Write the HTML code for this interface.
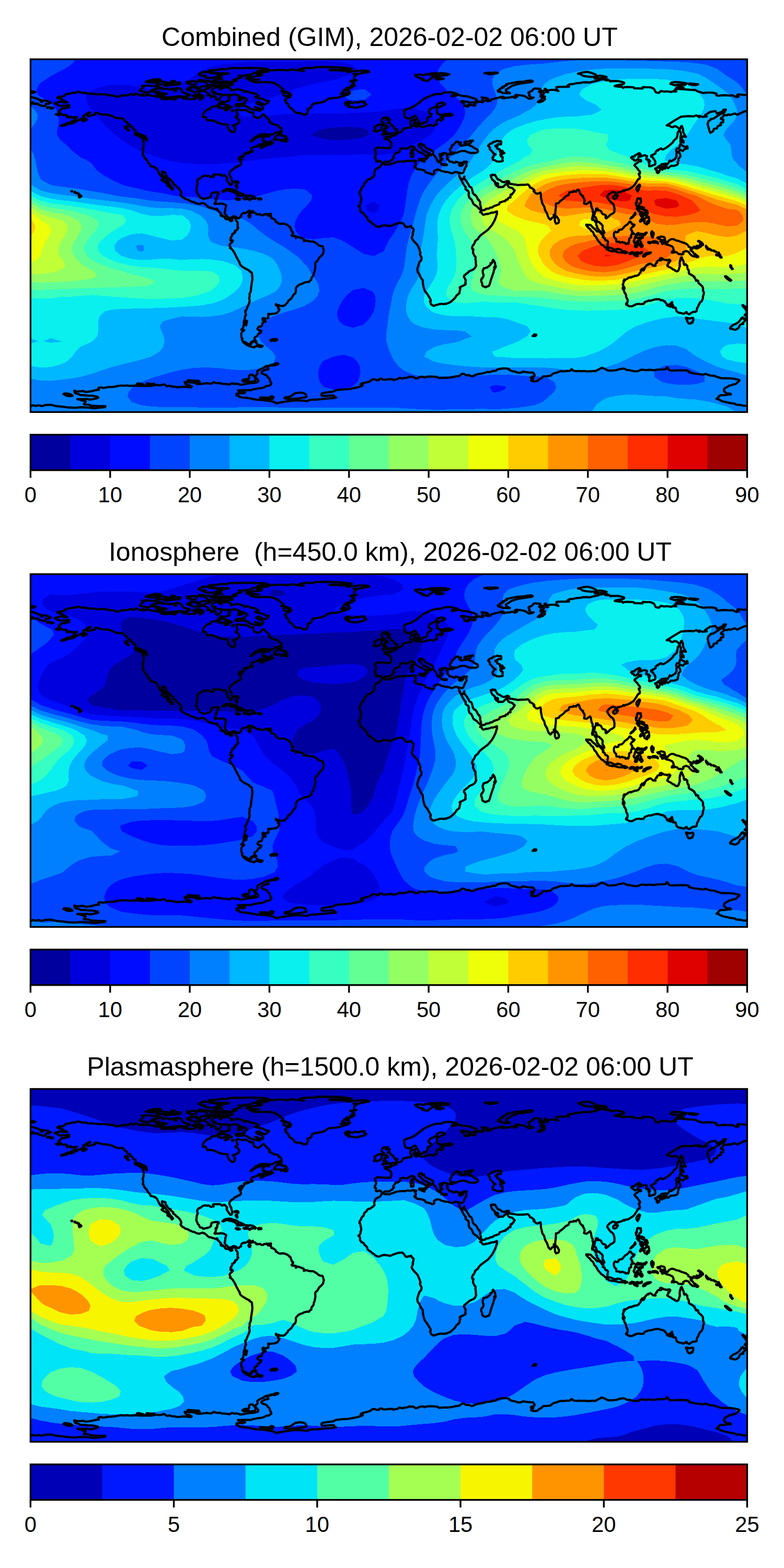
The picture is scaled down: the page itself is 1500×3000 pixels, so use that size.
<!DOCTYPE html>
<html><head><meta charset="utf-8"><title>GIM maps</title><style>html,body{margin:0;padding:0;background:#fff;font-family:"Liberation Sans",sans-serif}svg{display:block}</style></head><body>
<svg width="1500" height="3000" viewBox="0 0 1500 3000">
<rect width="1500" height="3000" fill="#fff"/>
<defs>
<clipPath id="c0"><rect x="58.4" y="113.4" width="1371.1" height="675"/></clipPath>
<clipPath id="c1"><rect x="58.4" y="1098.5" width="1371.1" height="675"/></clipPath>
<clipPath id="c2"><rect x="58.4" y="2083.5" width="1371.1" height="675"/></clipPath>
<path id="coast" d="M104.4 197.5L109.8 195.9L118.3 194L121.4 195.9L129.1 195.9L121.4 192.1L118.7 190.2L109.4 187.1L111.7 185.1L118.7 185.1L123.3 183.2L124.4 181.3L128.3 179.7L132.2 179.4L139.5 177.4L143 177.8L148.8 175.5L154.6 176.7L157.7 178.2L159.2 177.4L165.8 177.8L165.4 178.6L171.6 179.4L175.4 179L183.5 180.1L190.9 180.5L194 180.9L199 180.1L204.8 181.3L209.1 182.1L216.4 182.8L222.5 184.8L226.4 185.1L229.9 183.6L234.5 182.4L240.3 182.8L246.1 181.3L252.3 180.1L255 181.7L257.7 180.9L258.9 179L261.6 179.4L267.7 182.8L273.1 180.1L273.5 183.2L278.2 182.4L279.7 181.3L284.3 181.7L290.5 183.2L299.4 184.8L304.8 185.5L308.7 185.1L313.7 187.1L308.3 189L315.2 189.8L325.7 189.4L329.1 188.6L333 190.9L337.3 189L333.4 187.5L335.7 185.9L340.5 185.9L343.6 185.5L346.9 186.3L350.8 188.6L355 188.2L361.6 190.2L367.8 189.4L373.6 189.4L372.8 187.1L376.3 186.3L382.4 187.8L382.4 191.3L384.8 188.2L387.9 188.2L389.8 184.4L385.5 182.1L380.9 180.5L381.3 176.3L385.9 173.6L390.9 174L394.8 175.9L400.2 180.1L396.7 182.1L404.1 182.8L403.7 186.7L409.1 183.6L413.7 186.3L412.6 189L416 191.7L420.3 189L423 185.5L423.4 181.3L428.8 181.7L434.6 182.1L439.6 184L440 185.9L437.1 188.2L439.6 190.2L439.2 192.1L431.9 194.8L426.5 195.2L422.2 194L421.1 195.9L417.6 199.4L416.4 201L411.8 203.7L406.4 204L403.3 205.6L402.9 208.1L398.7 208.7L393.6 212.1L389.8 216L388.2 219.1L387.9 223.7L393.6 224.1L395.2 228L397.1 230.7L402.5 229.9L409.9 231.4L413.7 233L416.4 234.9L421.1 236.1L425.3 237.6L431.5 238L435.7 238.4L435.4 241.5L436.5 245.3L439.2 249.6L445 253.4L448.1 252.3L450 248L448.1 242.2L445.4 239.9L451.6 238.4L455.8 235.7L458.1 233L457.8 230.3L455.1 226.8L450.4 224.1L455.1 219.9L453.1 216.4L452 210.6L454.7 209.4L461.2 210.6L465.1 211L468.6 210.2L472 211.4L476.7 213.7L477.8 215.2L484.8 215.2L484.8 218.7L486 223.3L489.4 224.1L492.5 226.4L497.9 224.1L501.8 219.9L504.1 218.3L507.2 221.8L512.2 226.4L516.5 231.2L514.9 233.7L519.9 235.7L523.4 238L529.7 239.1L532.3 240.3L533.8 243.4L536.5 244.2L538.1 245.3L538.5 249.9L535.8 251.1L533.1 252.6L526.5 253.8L521.9 257.3L515.3 257.7L506.8 256.9L501 256.9L497.2 257.3L494.1 260L489 261.5L483.4 266.9L479 270.4L482.1 269.6L488.5 264.6L496.4 261.5L502.2 261.1L505.6 263.1L502.2 265.4L503.3 269.6L504.5 272.7L509.5 274.6L516.1 273.9L519.9 269.6L520.1 272.3L522.6 273.9L518 276.2L509.1 278.5L505.6 280L501 283.1L498.3 282.7L497.9 279.3L504.9 276.2L498.7 276.2L494.4 276.9L495 278.1L491 280L486.7 281.3L482.9 282.3L480.9 284.7L480.2 287.7L481.3 289.7L482.9 289.7L482.5 288.5L483.6 289.3L483.4 290.4L480.9 290.8L479 290.8L475.9 291.6L472 292L469 293.1L474.8 292.4L475.9 293.1L470.5 294.3L467.9 294.3L468 293.7L466.6 294.7L468 295.1L467 297.8L464.3 300.9L463.9 299.7L462 298.5L462.8 300.6L463.6 301.2L463.6 302.8L462.4 304.3L460.5 307.4L460.1 308.6L458.9 304.7L458.9 303.9L456.4 303.6L458.9 300.1L458.1 301.6L458.9 308.2L460.2 308.6L460.5 309.7L461.2 313.6L458.5 316.7L454.7 317.8L452 320.1L450 320.1L448.1 321.7L447.7 322.8L443.5 325.5L441.1 327.5L439.6 329.8L438.8 332.5L439.6 335.2L440.8 338.3L442.7 341L442.7 342.9L444.2 347.1L444.2 351.4L443.1 353.7L441.9 354.1L440 353.7L439.6 352.2L438.1 351L436.1 347.9L434.2 344.8L433.4 343.3L434.6 340.6L433.4 338.7L430.3 335.6L428.8 334.8L424.9 336.7L424.2 336.3L422.2 334.4L419.9 333.6L415.7 334L412.2 333.6L409.1 334L407.5 334.4L408.3 335.6L408.3 337.1L409.1 337.9L408.3 338.3L406.8 337.9L405.2 338.7L402.5 338.7L399.8 336.3L396.3 336.7L393.6 336L391.3 336.3L387.9 337.1L384.4 340.2L380.5 341.7L378.6 343.7L377.4 345.2L377.4 347.9L377.8 349.8L378.6 351L377 354.5L376.3 357.2L375.9 362.6L375.5 364.5L376.3 366.4L377.4 368.4L378.2 371.4L380.9 374.1L381.7 376.5L383.2 378.4L387.5 379.2L389 381.1L392.5 379.9L395.2 379.5L398.3 378.8L400.6 378L402.9 376.5L404.1 374.1L404.1 371.1L404.8 369.9L407.5 368.7L411.8 368L414.9 368L417.2 368L418.4 368.7L418.4 370.7L416 372.6L415.3 375.3L416 375.7L415.3 377.6L414.5 380.3L413.3 379.5L412.6 379.5L412.6 381.5L413.3 383L412.2 387.3L410.3 389.6L411.4 390.3L413 390.3L414.1 389.6L416 390L418 390L419.9 390L421.5 389.2L423.8 389.6L424.5 389.6L427.6 390L429.9 391.5L431.5 391.9L432.7 393L432.3 395.7L431.1 398.4L431.1 401.1L430.7 403.5L430.3 406.2L429.6 406.9L430.3 408.9L431.5 410.8L433 412.3L435 413.9L436.1 415.4L436.1 416.2L437.7 416.2L439.2 417L441.1 416.6L442.7 415.8L445 415L446.2 413.9L448.5 413.9L448.1 414.3L450.4 414.6L452 415.4L453.5 416.6L454.7 417.3L457 417.7L459.7 415L461.2 414.6L461.2 412.3L462 410L464.3 408.1L466.6 408.1L467 407.3L470.1 407.7L474.8 404.6L476.3 403.1L477.8 403.1L479 404.2L478.2 405.4L475.6 406.2L477.1 408.6L477.1 410.8L475.1 412.7L476.7 415.8L478.2 415.8L479.4 412.7L477.8 411.6L477.8 408.6L482.5 406.9L482.1 405.2L483.6 403.8L484.8 406.5L487.5 406.9L490.2 408.9L490.2 410.2L493.7 410.2L497.9 409.8L499.9 411.6L502.9 411.9L505.3 410.8L505.3 410L509.9 409.6L514.5 409.6L511.4 410.8L512.6 412.5L515.7 412.7L518.8 414.6L519.2 417.7L521.1 417.7L522.6 418.5L525.3 420L527.7 422.6L527.7 424.7L529.2 424.7L531.5 426.6L533.1 427.9L537.5 428.5L538.1 428L541.2 427.8L545.2 428.5L546.6 429.1L549.3 430.1L553.5 433.2L553.9 434.7L555.5 434.7L556.2 436.8L558.6 443.6L560.6 444.3L560.7 446.9L557.8 450.1L558.9 451.3L565.9 451.7L565.9 455.5L569 453.2L573.6 454.4L580.2 456.9L582.1 459L581.3 461.3L586 460.2L593.3 462.1L599.2 462.1L604.9 465.2L609.9 469.4L612.8 470.6L616.1 470.8L617.7 472.1L618.8 476.7L619.6 479.1L618 485.6L616.1 488.1L610.5 493.3L608 498L605.3 501L604.1 501.4L603.2 504.1L603.4 511.5L602.2 517.2L601.8 519.9L600.7 521.5L599.9 526.5L596 531.5L595.6 535.4L592.4 537.3L591.4 539.5L587.1 539.5L581.2 541L578.5 542.7L574 543.9L569.6 546.9L566.3 550.8L565.9 553.5L566.3 555.8L565.5 559.7L564.7 561.6L562 563.5L557.8 570.4L554.3 573.6L551.6 575.3L550.1 579L547.4 581.3L545.8 583.6L541.6 585.7L538.5 584.9L536.5 585.5L533.1 583.6L530.4 584L528.1 581.7L527.7 583.6L532.7 587.1L531.9 589.7L534.6 591.3L534.2 593.2L530.6 598.2L525 600.2L517.2 600.9L513 600.6L513.8 602.9L513 606L513.6 607.9L511.2 609L507.2 609.8L503.7 608.3L502.2 609.4L502.6 613.3L505.3 614.4L507.2 612.9L508.4 615.2L504.9 616.4L501.8 618.7L501.4 622.5L500.2 624.5L496.8 624.5L493.7 626.6L492.5 629.5L496.4 632.2L500.2 633L498.7 636.4L494.1 638.7L491.7 643.4L488.3 644.9L486.7 646.5L487.9 650.7L490.4 652.8L488.7 652.6L485.2 652L480.2 654.9L479.4 658.4L477.8 658.8L473.2 657.3L469 654.6L464.3 652.6L462.8 649.9L463.9 647.6L462 645.3L461.6 638.7L463.2 634.9L467.4 631.8L461.6 630.6L465.1 627.6L466.3 621L470.9 622.5L472.8 614.4L470.1 613.3L469 618.3L466.6 617.5L467.8 612.1L469 604.8L470.9 602.5L469.7 598.6L469.3 594.4L470.9 594L473.2 587.8L475.9 581.7L477.8 575.9L476.7 570.1L477.8 567L477.5 562.4L479.8 557.4L480.5 550L481.7 541.9L482.9 533.4L482.5 527.3L481.7 521.5L477.8 519.6L477.5 518L470.1 514.2L463.2 509.9L460.1 507.2L458.5 504.1L458.9 503L455.8 498L452 491L448.5 483.3L446.9 481.4L445.4 478.7L442.7 476L440 474.4L441.1 472.9L439.2 469L440.4 466.3L443.5 464L445.4 461.3L444.6 459.4L443.1 461.3L440.8 459.4L441.5 458.6L441.1 455.1L442.3 454.4L443.1 452.1L444.6 449.4L444.2 447.8L446.6 447L448.9 445.5L448.5 444.3L450 444L449.6 442L450.8 440.9L452.7 440.5L454.3 438.2L455.8 436.2L454.3 435.1L455.1 432.8L454.3 429.3L455.1 428.5L454.3 425.1L452.7 423.1L451.6 422L450.8 419.7L451.6 418.9L450.8 418.5L450 417.3L448.1 416.2L446.2 416.6L445.4 417.7L443.9 418.9L443.1 418.9L442.7 419.7L444.6 422L443.5 422.4L443.1 422.7L441.1 423.1L440.4 420.8L440 421.6L438.8 421.2L438.1 419.7L436.5 419.3L435.4 418.9L433.8 418.9L433.4 419.7L431.1 418.5L430.3 417.3L430.7 417L430.7 415.8L429.6 415L426.9 413.9L426.5 412.7L425.3 411.9L425.7 413.1L424.9 413.9L424.2 413.1L422.6 412.7L422.2 411.9L422.6 409.2L421.8 408.9L422.6 408.1L419.5 405.4L416.8 402.7L414.9 401.1L415.3 400.4L416 401.1L416.4 400.8L415.7 399.6L414.5 399.2L414.1 400.4L411.8 400L410.6 399.6L408.7 398.8L406.8 398.8L405.6 398.1L403.7 397.3L401.4 397.3L399.4 396.5L397.5 395L392.9 390.7L390.9 389.6L387.9 388.4L385.5 388.8L382.4 390L380.5 390.3L377.8 389.6L375.1 388.8L371.6 386.9L368.5 386.5L364.3 384.6L360.8 383L360 381.9L357.7 381.5L353.9 380.3L352.3 378.8L348.1 376.5L346.1 374.1L345.4 372.2L346.5 371.8L346.1 370.7L346.9 369.5L346.9 368.4L345.8 366.4L345.4 364.9L344.2 363L340.7 359.1L336.9 356.4L334.9 353.7L331.5 352.2L331.1 351.4L331.5 349.1L329.5 347.9L327.2 346L326.4 343.3L324.1 343.3L321.8 341L320.3 339L319.9 337.9L317.9 335.2L316.4 332.1L316.8 330.6L313.7 329L312.5 329.4L310.2 328.2L309.8 329.8L310.2 331.7L310.6 334.4L312.2 336L314.9 338.7L315.6 339.8L316.8 341.4L317.9 343.7L319.1 344.8L320.3 346L322.6 347.9L323.7 351.8L324.9 353.3L326.1 355.2L326.1 357.2L328 357.2L329.5 359.1L331.1 360.6L331.1 361.4L329.1 363L328.8 363L327.6 360.6L325.3 358.3L322.2 356.4L320.3 355.6L320.6 352.5L319.9 350.6L317.9 349.5L315.2 347.5L314.9 348.3L314.1 347.1L311.4 346.4L309.1 344.1L309.4 343.7L311 344.1L312.5 342.5L312.5 340.6L309.8 337.9L307.5 336.7L306 334.4L304.4 332.1L302.9 329L301.3 325.5L300.6 323.6L298.2 321.3L296.3 320.9L295.9 319.8L293.6 319.4L292.5 318.6L288.6 318.2L287.8 317.4L287.4 315.1L283.6 311.3L280.5 305.9L280.5 305.1L278.5 303.9L275.8 300.5L275.1 297.4L273.1 295.5L273.9 292.4L273.9 288.9L272.8 285.8L274.3 282.3L275.1 275.4L274.3 270L273.1 266.9L272 265L272.4 264.2L278.2 265.8L280.1 269.2L281.3 268.1L280.5 265L279.3 261.9L277.4 260.4L271.2 258L268.5 256.5L261.6 255L259.2 251.5L259.6 249.2L255 247.2L254.2 244.2L249.6 241.5L249.6 239.5L247.3 238L243.8 236.8L242.6 233.4L238 230.3L235.7 226.8L232.2 226.4L226 226.4L221.4 225.3L213.3 221.4L202.8 219.1L197.8 219.5L190.1 217.5L185.5 216L181.2 216.8L182 219.5L179.7 219.9L175.4 220.6L172 221.8L167.7 222.6L166.9 220.6L168.9 216.8L173.1 215.6L172 214.5L166.9 216.8L164.2 219.1L158.8 221.8L161.5 223.7L158 226.8L153.8 228.3L149.9 229.5L148.8 231L143 233L141.8 234.9L137.2 236.4L134.5 236.4L131 237.2L127.1 238.8L123.7 239.9L117.1 241.1L116.7 240.3L121 238.8L124.4 237.6L128.7 235.3L133.3 234.9L135.3 233.4L140.7 231L141.4 230.3L144.5 228.7L144.9 226L147.2 223.7L142.6 224.9L141.4 224.1L139.1 225.6L136.8 223.7L135.6 224.9L134.1 222.9L130.2 224.5L127.9 224.5L127.5 222.2L128.3 221L126 219.5L121 220.2L117.5 218.3L115.2 217.5L114.8 215.2L112.1 213.7L113.6 211.4L116.7 209.4L117.9 207.5L121 207.1L123.7 207.5L126.8 206L129.9 206L132.6 204.8L131.9 203.3L129.9 202.5L132.6 201L130.2 201L126 201.7L124.8 202.9L122.1 201.7L116.5 202.5L110.9 201.3L109.4 199.8L104.4 197.5M1448.8 184.9L1443.4 183.2L1432.2 181.3L1424.1 181.7L1412.1 180.5L1410.2 182.2L1413.3 184.8L1408.6 185.9L1401.7 182.4L1394.4 182.8L1387.4 182.1L1380.4 182.4L1375 183.2L1370.4 182.1L1370.8 179L1363.8 177.4L1356.1 177L1344.4 177.8L1334.3 174.7L1331 172.4L1317.5 171.6L1296.3 169.9L1291 171.6L1293.9 175.1L1287.4 174.7L1284.7 175.9L1275 174.7L1270.8 175.5L1264.4 174L1260.7 177.8L1255.7 177L1254.5 176.3L1252 171.6L1250.3 169.3L1244 167L1237.9 167L1229.7 166.6L1229.4 169.4L1213.2 168.9L1212.4 167L1200.1 166.4L1193.8 167L1192 168.2L1190 165.5L1186.6 166.2L1180.8 165.5L1176.1 164.7L1179 163.5L1189.3 161.6L1193.5 160.5L1194.3 158.3L1191.2 157L1182.7 155.1L1171.3 155.1L1167.6 155.8L1166.8 154L1158 153.5L1163.4 152.4L1156.6 151.2L1147.5 152.7L1143.7 154.3L1135.6 156L1127.1 158.1L1124 157.4L1113.6 157.6L1112.4 158.5L1102.4 159.3L1094.6 161.2L1090.4 161.2L1085.8 163.5L1088.8 165.9L1080.7 166.2L1071.3 166.1L1064.5 166.8L1064.9 170.9L1068.4 174.2L1061.2 172L1053.3 172L1046.8 173.6L1048.7 176.5L1044.4 175.9L1046 172L1044 169.9L1042.1 170.1L1042.9 172.8L1035.9 175.3L1041 178.6L1037.9 182.4L1038.6 184.4L1042.9 184.8L1041.3 187.5L1042.9 189.4L1039 193.2L1034.8 194.4L1033.2 195.6L1029 195.2L1036.3 189.8L1038.3 187.1L1034 184.8L1034.8 179.4L1034 176.7L1031.1 175.5L1034.8 172.4L1034 170.1L1023.6 169.3L1020.9 170.1L1018.2 173.6L1011.2 177L1011.2 178.2L1013.5 181.3L1012 182.8L1018.2 188.2L1020.9 186.3L1017 188.2L1012 189L1004.3 184L998.9 182.8L987.5 181.5L985.3 182.8L989.6 185.1L985 187.5L980.7 185.1L974.9 186.7L967.6 187.1L964.9 188.2L960.2 187.8L964.1 185.5L961 185.1L939.4 190.5L938.6 192.9L932.4 193.6L929.7 192.5L929.7 190.2L934.4 189.8L932.2 187.7L921.4 186.4L924.3 188.8L922.4 191.1L925.5 193.2L923.4 195.9L919.7 194.8L916.2 194.4L907.3 198.3L909.6 201L906.6 202.1L897.3 199.8L894.6 201L896.9 202.9L894.6 204L888.4 202.5L888.4 198.6L881.8 194L884.5 193.2L901.9 196.3L908.1 195.2L912.3 193.2L912.3 190.5L909.3 189L894.6 184.4L884.1 183.6L877.6 181.3L873.7 182.4L867.2 184L864.1 184.4L865.6 181.7L874.5 179.2L862.5 176.3L850.2 177L842.4 180.1L836.3 179.7L827.8 181.7L816.9 186.3L810.8 189.4L801.5 196.7L794.2 202.1L786.6 206.2L776.4 209.4L772.9 211.9L774.1 220.6L775.6 224.9L780.8 226.8L786 226L793.8 221.4L796.1 223.7L799.2 229.5L802.3 233.7L803.4 237.2L808.1 237.2L810.4 234.1L815 234.5L817.1 231L818.5 224.5L822.7 223.5L826.2 219.1L822.7 217.2L819.7 214.5L822.5 208.9L830.1 205.6L836.3 202.5L835.5 200.2L839.3 197.5L845.9 196.3L851.3 198.3L851.7 199.8L849 200.6L840.1 204.8L836.6 207.1L835.1 209.4L836.6 212.9L835.9 216.8L839.7 217.9L842.1 220.1L848.2 219.1L855.2 217.9L862.1 217.5L866 219.5L861.7 221.4L857.7 221.6L848.6 221.4L844 222.6L843.6 224.9L846.7 226L847.8 225.6L847.5 228L843.6 231L840.5 228.2L837 229.5L835.1 231.8L835.1 234.9L835.9 238L830.5 239.1L829.7 241.1L825.4 239.9L821.6 239.3L816.9 240.7L810.8 242.4L808.1 243.4L801.9 240.7L799.8 241.8L795.7 242.6L795.7 241.1L791.8 240.3L791.8 238.8L790.9 236.8L793.8 234.1L793.2 231.4L794.4 230.3L794.5 228.3L791.5 229.3L786.4 230.7L785.7 231.8L784.9 233L784.9 236.8L786.4 238.9L786.8 241.1L787.6 242.6L784.9 244.5L781 243.8L780.3 244.5L771.8 246.1L768.3 251.9L766.4 252.8L763.3 253.6L759.8 254.4L758.6 257.7L749.8 260.6L746.3 258.8L747.4 263.4L740.9 262.3L735.8 263.1L736.2 265.9L742.2 267.3L745.1 269.2L749 273.5L748.2 281.2L746.3 283.5L740.1 283.1L736.8 283.5L732.7 282.7L727.5 282.7L722.8 282.1L717.3 285L718.9 290.8L719.6 293.5L718.7 297.4L717.1 298.9L716.9 301.6L717.7 302.8L719.6 303.2L719.2 308.6L723.1 309L724.8 307.8L728.5 308.6L729.7 310.5L730.8 312L732.7 312.2L734.3 310.9L736.6 309.3L745.3 309.3L748.2 306.6L750.9 305.9L751.7 303.2L754 301.6L752.4 299.3L756.3 293.9L756.7 292.8L761.7 292L765.2 289.3L765.6 284.7L771.4 283.5L778.7 284.7L782.2 282.3L788 279.6L793 281.6L794.2 285.4L800.3 290.1L803.4 291.8L806.1 292L808.1 293.5L813.1 296.4L814.2 298.5L815.8 300.6L814.2 304.7L815.8 304.4L817.7 301.2L819.5 300.9L820 298.9L817.1 297.4L818.9 295.1L822 295.5L824.7 297.4L825.1 295.8L821.2 293.1L818.5 292L815 290.8L816.2 290.1L811.9 289.1L807.7 285.8L805.7 282.7L802.3 280.8L801.1 278.9L801.5 275.8L804.2 274.6L807.3 275L806.5 276.9L807.5 278.1L811.2 276.9L812.3 280.4L815.4 283.1L821.2 285.6L824.9 287L827.8 289.1L828.9 290.1L828.5 295.6L830.8 297.8L831.4 298.2L833.6 301.2L835.1 303.2L835.9 305.9L837.4 309L840.5 310.5L841.7 309L843 310.5L841.7 307L844 306.6L842.8 304.7L846.3 305.5L846.3 303.6L844.4 302.4L842.3 300.6L843.8 299.7L841.9 297.8L840.9 295.5L841.7 294.7L843.6 296.8L845.9 296.8L847.8 296.2L845.1 293.9L849.8 292.9L854.4 293.5L854 294.3L855.6 296L858.7 294.7L861.7 293.1L865.6 292.6L862.1 290.4L861.7 288.9L860.6 286.6L861.7 283.9L864.1 282.3L864.8 277.7L867.9 277.3L867.9 276.2L871 273.5L872.4 271.2L876 270.8L876 272.3L882.2 273.1L878.9 276.2L883.4 277.9L882.2 278.9L889.6 277.7L893.8 276.9L894.6 275.4L890.7 275.8L888.8 274.8L888.6 272.3L891.9 271L895.7 270.8L898.1 269.6L901.1 269.2L904.8 269.6L904.6 268.5L904.8 269.6L899.2 271.2L901.1 272.7L898.1 275.8L895.4 276.6L898.4 278.5L903.1 280L907.9 283.5L913.7 286.4L914.7 289.1L914.1 290.8L909.6 292.8L906.2 292.4L901.7 292.9L896.1 291.6L889.6 288.9L883 288.9L878.5 290.1L873.9 292.4L866.4 292L865.8 292.8L869.1 293.9L865.2 295.1L859 295.1L854.8 296.6L854.8 298.5L857.1 300.5L855.2 303.6L858.1 305.7L860.2 309.3L864.5 309.3L868.3 311.7L871 310.9L871.8 309.3L879.1 311.7L884.9 311.3L887.6 309L890.9 309.7L893.4 309.5L891.9 310.9L892.3 314.4L892.6 317.4L890.7 320.1L889.2 323.2L888.6 324.4L887.8 327.1L886.9 329L886.1 330.6L884.1 331.4L881 331.3L878 330.2L877 331.7L876 329.8L873.3 329L869.9 329.4L865.2 331.7L859.8 330.2L856 329L850.9 329L849.8 327.9L845.9 327.5L843.2 326.7L842.1 325.2L836.6 324.4L831.2 326.7L830.1 328.4L831 331.4L829.3 333.3L827.4 334L823.1 332.1L817.7 330.6L814.2 329.8L812.5 326.3L807.3 324.8L804.2 324L802.7 324.4L798 323.2L796.5 322.5L795.7 320.5L793.4 320.5L792.8 318.6L795.3 316.7L795.7 313.2L794.5 312.2L794.5 310.5L796.5 308.6L796.1 307.8L793 309.3L793 307.4L790.3 306.8L786 308.4L781.8 307.8L777.9 307.8L774.1 309.3L772.1 308.6L766 309L759.4 309.7L755.5 310.9L753.2 312.4L749 313.2L745.1 315.1L739.7 314.4L735.8 314.7L733.5 312.8L730.8 312.8L729.7 315.3L727 319.4L724.1 320.9L720 322.8L717.7 325.2L717.3 327.5L715.8 330.6L716.5 335.6L713.4 338.7L711.5 339.8L708.4 342.3L704.9 342.9L703 344.4L700.3 348.3L698 349.6L696.4 352.2L696.4 354.1L695.3 356.4L694.1 356.8L691.9 359.5L690.7 362.2L690.7 363.3L688.1 366.4L687.9 368.4L687.7 369.9L688.5 368.7L689.9 375.3L691.2 381.1L690.7 384.6L689.7 386.5L689.9 388.8L689.1 390.7L687.2 393.4L685.6 394.2L687.6 395.4L689.1 398.4L688.7 400.2L689.1 403.1L690.7 404.8L691.4 406.5L693 406.5L695.3 408.5L696.4 408.9L697.2 411.6L698.4 412.3L700.7 414.3L702.4 416.6L703.6 420.8L708.4 424.3L709.6 424.7L711.9 427.4L715.4 429.3L718.8 432.4L722.8 433.9L724.6 434.3L728.5 432.8L731.2 431.7L735.6 430.8L740.9 431.7L742.4 431.7L746 432.8L749.4 431.6L751.7 430.5L757.9 428.1L760.9 427.4L764 426.6L770.2 426.6L772.9 429.3L774.5 432L776.4 434.3L779.5 434.7L781 433.5L782.6 433.9L786.4 432.4L787.2 434.1L788.2 435.9L789.9 436.6L791.5 438.9L790.9 442L789.5 446.3L790.3 447L789.5 449.7L788.4 452.8L787.6 455.1L789.9 459L792.6 462.4L796.5 466.3L799.6 470.2L800.7 473.3L801.1 474.4L802.7 477.5L804.6 484.1L803.4 485.5L804.2 488.7L806.5 492.2L806.5 494.5L806.1 497.2L805 499.1L802.7 501.4L800.7 506.6L799.2 511.8L798.4 515.3L798.8 517.6L799.2 520.7L802.3 524.4L805.2 531.5L808.8 536.1L809.2 542.9L810.4 548.9L812.3 555.4L813.9 558.1L816.6 561.2L819.7 566.2L821.6 569.3L823.9 573.2L824.1 575.9L822.7 576.6L824.7 582L824.7 582.4L826.6 583.6L827.8 584L829.3 585.1L831.2 585.1L833.6 583.6L836.6 583.2L840.9 581.7L842.4 581.7L844.8 581.3L849 582L850.9 581.3L853.3 581.7L853.6 580.9L855.6 580.5L859.8 579L862.5 577.4L865.2 575.1L869.9 570.9L871.8 568.2L872.9 566.2L874.5 564.3L875.3 563.9L878 561.8L879.1 560.1L879.5 557L880.3 553.9L880.7 552L879.9 551.8L879.5 550L881.1 548.9L888.8 545.4L890.7 543.9L891.1 542.3L890.3 541.5L891.1 536.1L890.3 535L889.6 532.9L887.6 530L888 527.3L889.6 526.3L892.3 523.4L893.8 523L898.1 518.8L906 515.3L908.5 513L910 510.3L911.2 507.6L910.4 505.7L910.4 499.5L909.6 496.4L910 492.6L909.3 490.6L907.9 489.9L906.2 486L905 483.7L905.2 481.8L905 480.6L905.8 477.1L903.5 476L903.1 473.7L905 469L906.6 467.7L908.5 463.6L909.3 460.9L910.4 460.5L911.6 459L914.3 457.5L915.8 454.4L920.1 449.7L923.9 446.9L933.6 439.7L937.8 434.7L941.3 430.5L944.6 424.7L947.1 419.7L948.8 415.4L949.8 411.2L950.8 410L950.6 407.7L951 405.6L951 404.6L949.4 404.6L947.9 405.8L945.6 406.2L944 406.9L942.7 406.9L940.5 406.9L937.1 408.1L933.8 409.2L929.7 409.6L925.9 410.8L923.9 410.6L922.4 408.9L921.6 407.3L920.3 406.5L918.5 405.8L920.8 404.7L920.8 403.1L920.1 401.9L918.1 400.8L917 399.6L914.7 397.3L912.7 395L907.3 391.5L905.4 389.6L904.2 386.1L901.9 381.5L900 379.9L898.4 379.2L896.9 374.5L896.4 370.7L897.3 369.9L896.1 366L890.7 361.8L890.7 359.3L891.5 358.7L888 354.5L886.9 352.2L885.5 350.2L882.4 344.1L879.9 340.2L878.4 336.1L878.7 335.8L879.9 339L881.4 341.4L883.4 343L884.5 344.2L886.5 341.7L888.4 337.5L888.6 337.5L888 339.2L888 340.6L889.2 342.5L891.1 345.2L893.6 348.3L895 351.4L896.1 352.2L897.1 354.9L898.4 357.2L900.4 357.9L902.3 359.5L904.2 366L904.6 368.7L907.3 372.6L909.1 373L911.6 375.7L914.9 382.2L917 383.4L917.2 384.9L918.3 386.1L918.9 387.8L918.9 389.6L918.5 390.3L918.9 391.9L920.1 396.9L920.5 400L921.6 402.3L924.3 402.3L925.5 401.9L927.4 401.9L927.8 401L929 400.8L929.7 399.6L934 399.2L936.5 398.4L938.6 396.9L939.8 397.1L941.7 396.9L945.2 394.2L951.4 392.3L955.2 390.7L956 387.6L958.7 386.7L962.9 385.3L967.2 384.6L967.2 383L968.7 381.9L971.1 381.9L971.8 381.1L972.2 379.2L974.5 377.8L976.5 378L976.8 377.2L976.5 374.9L976.8 373L977.6 371.8L979.5 372.2L981.1 369.5L982.6 368.4L983 367.2L984.6 364.9L984.6 364.1L983.2 363.3L980.3 359.9L978 359.3L975.3 358.7L973.2 357.6L971.4 354.9L971.1 351.8L971.4 351L971.8 349.5L971.4 349.1L970.3 350.2L967.6 352.9L964.9 355.2L962.2 357.9L959.8 357.8L956.8 357.6L953.7 358.3L952.9 357.4L952.1 356L952.9 353.7L952.9 351.4L951.7 350.2L950.6 350.6L949.4 352.5L949.8 355.4L949.4 354.5L947.5 352.2L947.1 351L947.5 349.5L947.3 347.9L944.8 346.4L944 344.8L942.1 344.1L940.5 340.8L939.4 337.9L939.8 337.1L938.9 335.3L941.3 335.6L942.5 334L945.2 335.2L947.1 334.6L950 339.8L952.5 343.3L956.4 344.4L960.2 347.5L964.9 348.7L968.7 346.9L971.8 346.4L973.6 346.9L975.3 351.8L979.5 352.2L983.8 352.9L991.1 354.1L996.5 353.7L1002.7 353.7L1010.1 352.9L1013 355.6L1013.9 358.7L1017 359.5L1021.5 363L1022.4 364.3L1020.9 365.7L1025.9 370.3L1028.6 370.7L1034 368.4L1034.8 372.2L1034.8 376.8L1035.9 381.9L1037.5 389.2L1041 394.6L1041.7 396.9L1042.9 401.9L1044.8 405.4L1046.2 407.3L1047.5 411.2L1049.5 416.6L1052.9 420.2L1054.5 419.1L1056 416.6L1059.5 415.4L1059.5 410.8L1062.2 410.8L1062.6 404.2L1063.4 397.7L1063.7 389.6L1065.7 389.4L1069.2 388L1071.1 385.3L1074.9 382.6L1078 380.3L1082.3 375.7L1087.7 373.2L1089.5 368L1094.3 367.2L1097 367.2L1097.3 365.7L1098.9 366.2L1100 366.4L1100.6 366L1102.4 366.8L1103.5 364.5L1106.6 363L1108.2 365.3L1108.9 367.2L1109.3 369.1L1110.5 371.1L1113.2 374.1L1115.5 374.9L1114.7 376.1L1117.8 380.7L1118.6 384.2L1117.4 389.2L1119.7 390L1122.1 390.3L1126.3 387.6L1129 385.7L1130.6 388.8L1131.3 393.8L1132.5 398.4L1134 400.4L1133.7 404.6L1135.2 406.9L1134.2 412.7L1132.7 418.7L1133.3 420.8L1134 418.5L1135.9 420.4L1137.9 422.7L1138.7 424.5L1140.2 425.8L1141 427.8L1140.6 430.5L1142.1 432.4L1142.5 435.9L1144.9 438.2L1145.2 440.1L1149.9 443.3L1153.3 446.3L1156.1 445.9L1156.2 444.7L1154.7 441.3L1153 440.1L1153 437.8L1152.6 436.6L1153 434.7L1153 432L1151.3 429.7L1149.1 427.4L1147.9 427L1146.8 425.1L1143.7 424.3L1141.8 422.4L1141 418.9L1139.4 415.4L1136.7 415.4L1136.5 412.5L1137.9 409.1L1138.3 405L1139.8 403.5L1140.2 399.2L1143.6 399.2L1142.9 402.3L1146.4 402.1L1149.9 403.8L1151.8 407.9L1153.3 410L1156.4 410.4L1159.5 412.7L1158.4 415.4L1159.1 417.7L1159.9 417.7L1164.5 414.3L1167.6 410.8L1172.3 408.5L1175.4 405.8L1175.7 399.2L1174.2 391.9L1171.9 388.8L1168.4 386.5L1164.5 381.5L1161.8 377.2L1162.6 374.7L1165.7 371.1L1170.9 367.8L1172.7 367.2L1178.1 368.4L1176.9 369.9L1178.1 372.6L1180 372.6L1181.5 368.4L1185.4 367.8L1190.8 365.9L1193.1 363.9L1194.5 365.3L1197 363.3L1201.2 363L1206.6 359.9L1212.1 356.2L1215.5 351.8L1218.6 346.6L1221.3 342.5L1223.6 342.1L1224.4 339L1222.9 334.8L1222.1 332.5L1224.4 331.5L1224.4 328.6L1221.7 325.5L1219.4 322.1L1213.8 316.3L1215.9 313.6L1219.4 311.7L1221.3 309.5L1226.7 308.6L1226.3 306.4L1223.6 306.3L1220.2 304.7L1215.9 307.4L1212.8 306.4L1212.8 304.7L1209.7 303.9L1207.4 301.6L1209.4 299.7L1213.2 299.5L1215.5 297L1220.2 294.3L1223.3 292.9L1225.6 295.1L1222.5 297.6L1223.3 298.9L1221.1 300.9L1225.2 299.7L1228.3 298.2L1233.7 297L1237.5 298.4L1237.9 298.9L1236.8 301.1L1237.2 301.6L1236.3 304.5L1237.2 304.7L1237.5 305.5L1241 305.3L1243.7 308.6L1240.6 309.3L1242.6 313.2L1241.8 316.3L1242.2 318.2L1245.7 317.8L1248.7 316.3L1252.2 315.5L1253.8 313.6L1253.8 309L1252.6 306.6L1249.3 302L1247.2 299.7L1245.7 299.7L1246 297.4L1247.9 296.6L1250.3 295.8L1251.8 294.7L1254.5 293.1L1254.5 290.4L1255.6 289.3L1257.2 287.7L1258.8 288.1L1259.2 286.8L1264.6 283.9L1266.9 285.8L1269.2 285.8L1276.9 281.2L1282.3 276.9L1287.4 272.3L1288.7 269.6L1294.7 264L1296.3 257.9L1296.6 253.4L1299.7 249.6L1299.5 246.1L1293.9 241.8L1289.7 241.7L1287.4 243.4L1283.5 242.7L1281.6 240.3L1275.4 239.9L1290.3 230.7L1302.8 223.3L1315.6 222.2L1327.2 222.6L1332.2 220.6L1338 224.1L1338 221.4L1343.8 223.7L1352.3 222.9L1349.2 220.2L1358.8 214.1L1368.9 212.5L1372 217.5L1382 213.3L1384.3 209.8L1388.9 209.6L1385.9 215.2L1378.9 218.3L1372.1 222.2L1365.4 226.8L1359.2 228L1359.2 229.5L1355.7 231.8L1353.8 237.2L1356.1 245.7L1357.7 251.5L1359.2 254.2L1364.6 250.7L1365.8 246.6L1371.6 245.7L1373.1 241.5L1379.7 239.1L1378.1 237.6L1379.7 234.5L1383.5 234.1L1383.9 228.7L1379.5 228L1379.3 226.4L1383.9 222.6L1385.1 219.9L1390.5 220.6L1394 218.7L1395.9 220.2L1405.9 217.2L1411.3 219.9L1412.9 218.3L1418.5 215.8L1424.5 213.1L1428 212.5L1438.8 209.8L1445.7 210.6L1446.9 209.4L1446.5 208L1444.6 206.9L1442.2 203.7L1438.8 201.7L1443.8 202.1L1448.8 200.3M58.4 184.9L67.9 187.8L78.1 191.7L77.7 194L80.4 195.2L79.3 192.1L89.7 192.9L97.4 196.4L93.5 198.3L87.4 198.6L87 202.1L85.6 203.1L82 202.9L79.1 201.7L73.9 200.6L73.1 198.6L69.2 198.3L64.6 198.6L62.6 197.5L63.4 195.9L58.8 196.7L60.7 198.6L58.4 200.3M573 132.2L585.9 129.9L599.5 130.1L604.4 128.6L618.1 128.2L648.9 128.8L673.1 131.8L666 133.3L651.2 133.5L630.4 133.8L632.3 134.5L646 134.1L657.7 135.4L665.2 134.3L668.4 135.7L664.1 137.9L674 136.5L692.7 135L704.3 135.7L706.4 137.4L690.7 140.1L688.5 141L676.2 141.6L685.1 141.8L680.6 144.6L677.5 147.2L677.6 151.4L682.3 153.9L676.2 154.1L669.9 155.3L677 157.4L677.9 160.7L673.8 161L678.8 164.3L670.2 164.6L674.7 166.2L673.4 167.6L668 168.1L662.6 168.1L667.4 170.8L667.5 172.5L659.8 170.9L657.9 171.9L663.1 172.9L668.1 175.2L669.6 178.4L662.7 179.1L659.7 177.6L655 175.4L656.3 178L651.8 180L662 180.2L667.3 180.4L656.9 183.8L646.4 186.8L635.2 188.1L630.9 188.2L626.9 189.6L621.5 193.7L613.2 196.4L610.5 196.6L605.4 197.5L599.8 198.4L596.5 200.8L596.5 203.5L594.5 206L588.2 209.1L589.8 212.1L588 215.3L586.1 219.1L580.6 219.3L574.9 216.2L567.2 216.2L563.5 214L560.9 210.3L554.2 205.5L552.2 203L551.7 199.5L546.4 195.9L547.7 193.1L545.2 191.7L549 187.2L554.8 185.8L556.3 184.2L557.1 181.2L552.7 182.6L550.6 183.1L547.1 183.7L542.4 182.4L542.1 179.8L543.7 177.7L547.2 177.7L555.1 178.7L548.5 176.3L545 174.9L541.2 175.5L538 174.5L542.3 170.9L539.9 169.5L536.9 166.8L532.2 162.7L527.3 161.2L527.3 159.6L517 157.4L508.8 157.1L498.5 157.3L489 157.5L484.6 156.3L477.8 153.9L488 152.7L495.8 152.4L479.2 151.4L470.5 149.9L471 148.4L485.7 146.5L499.8 144.7L501.3 143.3L490.9 141.9L494.3 140.3L507.6 137.7L513.3 137.2L511.6 135.5L520.8 134.5L532.6 133.9L544.5 133.8L548.8 135L559 132.9L568.2 134.4L573.6 134.7L581.7 135.9L572.5 133.8L573 132.2M697.6 194.6L696.7 197.1L701 199.7L696 202.7L684.9 205.3L681.5 206L676.5 205.4L665.7 204.2L669.5 202.5L661.1 200.6L667.9 199.9L667.7 198.7L659.6 197.8L662.3 195.3L668.1 194.7L674.1 197.4L680 195.2L684.9 196.4L691.2 194.3L697.6 194.6M419.3 168.7L422.3 171.1L425.9 168L435.7 166.4L442.3 170.4L441.7 173L449.4 171.8L453 170.3L461.6 172.3L466.9 174.1L467.4 175.8L474.6 174.9L478.6 177.4L487.9 178.9L491.3 180.4L495 184L487.8 185.8L497 188.3L503.1 189.2L508.7 192.7L514.7 193L513.5 195.7L506.7 200.2L502 198.5L495.9 194.8L490.9 195.3L490.4 197.5L494.5 199.8L499.7 201.5L501.3 202.6L503.8 206.4L502.5 209.2L497.6 208.1L488 205L493.4 208.4L497.4 210.7L498 212L487.6 210.5L479.3 208.2L474.6 206.4L475.9 205.3L470.2 203.3L464.6 201.4L464.6 202.5L453.5 203.2L450.2 201.8L452.7 199L460 198.9L468 198.4L466.7 197.1L468 195.1L473 191.4L471.9 189.7L470.5 188.3L464.6 186.5L456.7 185.2L459.2 184.2L455.1 181.8L451.7 181.6L448.6 180.2L446.6 181.4L439.6 181.9L425.5 181L417.4 179.9L411.1 179.3L407.9 178L411.9 176.2L406.4 176.2L405.2 172.3L408.2 168.8L412.1 167.2L422.1 166.2L419.3 168.7M308.7 168.1L312.5 168.9L310.6 170.7L319.5 169.5L324.5 171.4L329.1 169.5L335.7 174.5L337.6 172.9L334.9 169L338.4 168.4L342.3 169L346.5 170.6L348.8 174.3L350 177.1L356.6 179L363.5 180.8L363.1 182.5L357 182.8L359.3 184.3L358.1 185.7L351.2 185.1L344.4 184.1L340 184.3L332.6 185.6L316 186.5L313.7 184.7L308.7 183.7L305.2 184.1L300.6 181.1L302.9 180.6L309.1 180L314.5 180.2L319.5 179.5L311.8 178.6L303.7 178.9L298.2 178.8L305.2 175.8L299 175.9L292.5 174.9L295.5 172L298.2 170.4L308.7 168.1M267.3 173.7L271.6 169.3L275.1 166.7L271.2 164.4L284.3 163.7L289.7 164.5L299.4 164.7L303.3 165.9L307.5 167.5L302.5 168.5L293.2 171.2L288.2 173.9L288.2 175.6L278.2 177.4L276.2 175.7L267.3 173.7M489 130.3L499.5 130.6L507.6 131.1L514.5 133.2L505.3 134.9L495.6 135.7L492.1 136.5L500.6 136.5L491.7 138.9L485.2 139.9L478.6 143.1L470.9 143.8L468.2 144.5L456.6 145L462 145.4L459.3 146.1L462.4 148L458.9 149.3L452.7 150.4L450.8 151.9L445.4 153.1L446.2 154L452.7 153.8L452.7 154.7L442.3 157.1L432.3 156L421.1 156.6L415.3 156.1L407.9 155.9L407.5 154.1L414.5 153.2L412.6 150.4L414.9 150.2L425.4 151.8L420.3 149.3L413.9 148.6L416.8 147.1L423.8 146.2L424.9 144.8L419.5 143.3L418 141.4L428.4 141.5L431.5 141.9L437.7 140.6L428.8 140.1L415.3 140.3L408.3 139L405.2 137.5L400.6 136.4L399.8 135L405.6 134.3L410.3 134.2L417.6 133.5L423.4 132.1L428 132.3L432.3 133.4L435.4 131.3L440.4 130.7L447.3 130.3L458.9 130.1L461.2 130.5L472.4 129.9L480.5 130.1L489 130.3M445.4 162L442.7 162.9L437.1 163.8L432.3 163.3L421.1 163.9L413 164L406.8 163.5L396.7 162.2L395.2 160.1L394.8 158.2L390.9 156.5L382.8 156.1L378.6 154.9L380.1 153.3L387.9 153.5L392.1 154.7L399.8 154.7L403.3 156L402.1 157.5L406.8 158.3L409.1 159.3L414.5 159.4L419.9 159.8L426.1 158.9L433.8 158.6L440.4 158.9L444.2 160.3L445.4 161.9M417.6 143.6L422.2 144.9L416.8 146L409.9 148.9L402.9 149.2L394.8 148.7L390.7 147.2L390.8 145.8L393.8 144.7L386.8 144.8L382.5 143.4L380.1 141.7L382.8 140L385.5 138.8L389.4 138.5L387.7 137.7L396.7 137.5L401.6 139.6L408.1 140.4L414.5 141.1L417.5 143.6M299 160.8L304.4 157L307.9 155.9L318.7 157.2L325.7 159.5L332.3 159.8L326.8 156.1L330.3 154.7L334.6 155.1L335.7 157L337.3 158.3L340.7 157.7L344.6 157.9L345.4 159.8L343 161.6L329.9 162.2L320.3 163.9L314.5 164L313.7 162.7L321.8 161L304.4 161.5L299 160.8M365.8 166.1L370.5 166.9L377.4 166.4L378.6 167.5L374.9 169.4L380.9 171L380.1 174.5L373.6 176L370.1 175.7L367.4 174.2L357.7 171.2L357.7 170L365.8 170.4L361.6 167.9L365.8 166.1M393.6 170.2L389.4 173.1L385.1 173L382.7 169.6L382.8 167.6L384.8 166L388.6 165L396.7 165.1L404.1 166L398.3 169.4L393.6 170.2M376.3 156.8L376.3 158.8L374.3 161.6L368.2 162L363.9 161.4L363.9 159.1L357.7 159.5L357.3 156.4L361.6 156.6L367.5 155.2L372.8 155.5L376.3 156.8M282.4 157.4L294 158.1L299 155.8L290.5 157.8L282.4 157.4M307.9 152.7L304.8 151.6L293.6 152L278.5 156.6L285.5 154.3L297.9 155.8L307.9 152.7M381.7 182.8L384.4 184.4L381.7 185.5L376.6 184.5L373.6 184.9L368.2 183.2L371.6 182.1L374.3 180.4L378.2 181.4L380.5 182.1L381.7 182.8M424.5 197.6L425.4 199.3L427.2 198.8L429.6 199.8L433.8 201.1L438.4 202.3L438.6 204.1L441.5 203.8L444.2 205.1L440.8 206.3L435 205.4L432.7 203.7L428.8 205.7L423.4 207.7L421.8 205.4L416.8 205.8L420.1 203.9L420.7 200.9L421.8 197.3L424.5 197.6M433 211L437.3 209.1L436.9 208.3L432.3 208.3L429.9 211L433 211M443.5 211.4L447.3 211L445 213.3L443.5 211.4M456.6 187.8L463.6 188.6L463.6 190.2L456.3 192.1L455.4 190.2L456.6 187.8M538.9 253L536.8 255.4L534.2 258.8L536.8 257.5L539.4 258.3L538 259.6L541.4 260.7L543.2 259.7L547.1 260.9L545.9 263.8L548.6 263.1L549.1 265.1L550.3 267.5L548.6 270.9L546.9 271.1L544.3 270.3L545.2 267.2L544.1 266.7L539.6 270.1L537.3 269.9L540.1 268.1L536.4 267.2L532.2 267.4L524.7 267.3L524.1 266.1L526.5 264.8L524.8 263.8L528.1 261.4L532.1 255.3L534.5 253.1L537.8 251.8L539.6 251.9L538.9 253M504.5 258.4L510.7 259.2L514.9 261.5L508 260.4L504.5 258.4M506.4 269.6L507.6 271.2L510.7 271.9L514.1 271.9L512.2 273.5L506 271.9L506.4 269.6M257.7 255.1L261.9 255.9L264.3 256.5L267.9 256.9L269.3 258.2L271.2 260L275.1 261.7L276.6 263.8L274.7 264.3L268.1 262.6L267.2 261.2L263.7 259.9L263.1 258.8L259 258.1L257.7 256L257.7 255.1M239.2 242L241.1 242.5L244.8 242.2L243.6 246.5L247 249.6L245.4 249.6L243.1 247.9L241.7 246.1L239.7 244.9L239 243.2L239.2 242M162.7 230.7L158.8 232.2L156.9 231L156.1 229.1L159.6 228L161.9 227.3L164.2 227.6L166.2 228.7L162.7 230.7M90.1 206.4L90.5 204.8L95.1 205.2L102 206.7L99 208L95.9 207.1L92.8 205.6L90.1 206.4M110.5 217.9L113.6 218.3L114 219.9L111.7 220.4L106.7 218.7L110.5 217.9M435.9 361.5L439.2 361.7L442.2 361.8L445.9 363.1L447.4 364.5L451 364.1L452.4 365L455.6 367.4L458.1 369.1L459.3 369.1L461.6 369.8L461.3 370.9L464.2 371.1L467.1 372.7L466.6 373.6L464.1 374.1L461.5 374.3L458.8 374L453.3 374.3L455.9 372.2L454.3 371.2L451.8 370.9L450.5 369.8L449.6 367.6L447.4 367.7L443.8 366.7L442.6 365.9L437.6 365.3L436.2 364.5L437.7 363.6L433.9 363.4L431.1 365.4L429.5 365.5L429 366.4L427.1 366.8L425.4 366.4L427.4 365.3L428.3 363.8L430 363L432 362.3L434.9 361.9L435.9 361.5M476.6 374.9L477.1 374.2L480.1 374.2L482.4 375.2L483.4 375.1L484.1 376.5L486.3 376.4L486.1 377.5L487.8 377.7L489.7 379.1L488.3 380.7L486.5 379.9L484.7 380L483.4 379.8L482.7 380.5L481.2 380.8L480.7 379.8L479.4 380.4L477.8 383L476.8 382.4L476.6 381.3L474.1 380.7L472.3 380.9L469.9 380.6L468.1 381.4L466 380.2L466.4 378.9L469.9 379.4L472.9 379.7L474.2 378.9L472.5 377.2L472.5 375.8L470.1 375.1L470.9 374.1L473.3 374.3L476.6 374.9M454 379.6L456.6 379.9L458.6 380.9L459.3 381.9L456.6 382L455.4 382.6L453.2 382L451 380.6L451.5 379.7L453.1 379.5L454 379.6M500.3 380.6L499.3 381.5L496.4 381.5L494.1 381.7L493.9 380L494.4 379.5L497.6 379.5L499.6 379.8L500.3 380.6M454.2 359.3L453.2 359.4L452.2 357.2L450.8 356.1L451.6 353.7L452.8 353.8L454.1 357L454.2 359.3M453 348.4L448.8 349L448.6 347.6L450.4 347.3L452.9 347.4L453 348.4M456.2 348.3L455.6 351.1L454.8 350.6L454.9 348.6L453.2 347L453.2 346.6L456.2 348.3M515.4 409.4L517.6 408.9L518.4 409L518.2 411.9L515 412.3L514.3 412L515.5 410.9L515.4 409.4M152.9 377.3L152.3 377.9L151.3 377.4L151.4 376.3L150.8 374.9L151 374.5L151.7 373.8L151.4 373.1L151.6 372.7L151.9 372.8L153.4 373.4L154.1 373.8L154.7 374.3L155.7 375.6L155.6 375.9L154.1 376.7L152.9 377.3M148.8 369.9L150.1 370.2L151.1 370.8L150.8 371.3L149.5 371.6L148.8 370.7L148.4 370.4L148.4 370.2L148.8 369.9M143.3 367.1L143.6 367.4L144.7 368.7L144.5 368.9L144.2 368.8L142.9 368.7L142.4 367.8L142.2 367.7L143.3 367.1M136.4 365.8L136.6 366.1L137.2 366.4L138.2 366.1L137.7 365.2L136.4 365.8M146.3 369.1L148.2 369.2L148 369.6L146 369.5L146.3 369.1M517.2 650.9L521.9 648.6L525.2 649.5L527.5 648L530.6 649.7L529.4 651.1L524.2 652.2L522.4 650.9L519.2 652.6L517.2 650.9M488.5 653.9L490 655.7L491.9 658.6L497 660.9L502.4 661.9L500.6 663.8L497 664L495 662.7L492.7 662.5L488.5 662.5L486.2 665L483.4 663.8L479.4 663.2L474.5 661.1L470.5 659L465.2 654.7L468.4 655.5L473.9 658.1L479 659.5L481 657.7L482.2 655.1L485.8 653.5L488.5 653.9M468.2 612.1L469.7 613.3L469 618.3L466.3 617.5L467 612.9L468.2 612.1M742 224.7L737.9 228.9L741.8 228.4L746 228.4L745 231.5L741.6 235L745.5 235.2L749.3 240.2L751.9 240.8L754.3 245.2L755.4 246.7L760.1 247.5L759.6 249.9L757.7 251.1L759.2 253.1L755.7 255.1L750.6 255.1L744 256.1L742.2 255.3L739.6 257.2L736.1 256.7L733.3 258.2L731.3 257.4L737 253.4L740.4 252.5L734.4 251.9L733.3 250.4L737.3 249.2L735.2 247.1L735.9 244.5L741.7 244.9L742.2 242.7L739.6 240.2L734.9 239.6L734 238.5L735.4 236.8L734.1 235.7L732 237.6L731.8 233.8L729.9 231.9L731.2 227.9L734.3 224.8L737.3 225.1L742 224.7M729.7 243.1L730.3 245.9L727.4 249.3L720.5 251.6L715.1 251L718.2 247L716.2 243.1L721.4 240.1L724.4 238.3L727.6 238.1L731.7 240.5L729.7 243.1M812.1 143.6L813.5 142.3L819.2 142.1L824.1 143.5L836.8 146.3L827.1 147.9L824.9 150.7L821.5 151.4L819.7 154.6L815.1 154.8L806.8 152.4L810.3 151L804.5 150L796.9 146.7L793.9 143.7L804.5 142.3L806.6 143.6L812.1 143.6M859.5 142.1L853.7 144.2L842.5 144.6L831.2 144L830.5 142.9L824.9 142.9L820.7 141.1L832.6 140L838.2 140.9L842.1 139.8L851.9 140.7L859.5 142.1M849.1 150.6L840.5 152.2L833.7 151.3L836.3 150.3L834 149.1L842 148.3L843.5 149.7L849.1 150.6M952.4 173.1L956.3 172.3L956.1 170.2L963.8 166.9L960.3 166.4L969.5 163L968.5 161.3L977.1 159.3L989.9 156.8L1002.7 156.1L1009.3 154.6L1016.9 154.1L1019.5 155.7L1016.9 156.9L1003.3 158.8L991.4 160.6L979.5 164.3L973.7 168.1L967.7 171.8L968.4 175L975.8 178.1L973.5 178.5L960.9 178L959.9 176.2L952.9 175.2L952.4 173.1M1139.6 146.6L1131.2 147.1L1120.4 146L1114 144.5L1111.1 141.8L1105.8 141L1115.8 138.4L1124.2 137.5L1131.6 139.4L1140.6 143.2L1139.6 146.6M1150.8 145.1L1160.6 147.3L1159.5 148.8L1137.7 150.4L1144.7 145.3L1147.9 144.8L1150.8 145.1M1289.8 157.2L1300 157.4L1314 159.5L1310.9 162.3L1296.7 162.2L1290.3 163.1L1282.6 160.6L1284.7 157.9L1289.8 157.2M1318.9 159.7L1326.1 160.3L1335.8 161.3L1331.3 162.8L1325.1 162.5L1318 161L1318.9 159.7M1293.8 167.9L1297.4 166.4L1302.3 166L1307.8 167.5L1308.2 168.5L1302.4 168.5L1294.5 168.1L1293.8 167.9M1448.8 177.7L1444.6 177.9L1443.9 176.7L1448.8 175M58.4 175L58.9 174.9L62.2 174.9L67.7 176L67.4 176.5L63.5 177.5L58.4 177.7M926.8 140.1L934.4 139.4L940.2 139.3L941 140.4L943.2 139.4L946.9 138.8L952.6 139.6L951.1 140.2L945.9 140.7L942.4 141L941.9 141.6L937.4 142.3L933.2 141.4L935.4 140.2L926.8 140.1M1305.6 243.8L1306.9 247.5L1306.8 251.3L1308.4 255.2L1312.3 262L1306.6 260.7L1304.2 266.3L1308 270.2L1307.9 272.9L1304.9 270.6L1302.4 273.6L1301.7 270.3L1302.1 266.6L1301.7 262.4L1302.6 259.5L1302.7 254.4L1300.5 250.6L1300.8 245.3L1304.4 243.5L1302.9 241.7L1304.6 241.2L1305.6 243.8M1309.4 280.5L1312.1 281.3L1314.9 279.7L1315.7 284L1310 285.1L1306.6 288.9L1300.5 286.3L1298.5 290.5L1294.2 290.6L1293.6 286.7L1295.5 283.8L1299.7 283.5L1300.8 278.2L1301.9 275.2L1306.4 279.2L1309.4 280.5M1273.6 319.2L1274.1 320.5L1271.9 322.8L1270.3 321.6L1268.4 322.5L1267.3 324.8L1264.8 323.7L1264.9 321.8L1267 319.5L1269.2 320L1270.8 318.4L1273.6 319.2M1298.1 307.6L1296.6 310.7L1297.3 312.7L1295.3 315.4L1290.4 317.2L1283.6 317.4L1278.1 321.8L1275.5 320.3L1275.3 317.4L1268.6 318.3L1264 320.1L1259.5 320.2L1263.4 323L1260.8 329.6L1258.4 331.2L1256.5 329.7L1257.4 326.2L1255 325.1L1253.4 322.5L1257.1 321.3L1259.1 318.9L1263 316.9L1265.8 314.2L1273.5 313.1L1277.6 313.9L1281.7 307L1284.2 308.8L1289.9 305L1292.1 303.5L1294.5 298.8L1293.9 294.5L1295.5 292L1299.6 291.3L1301.7 296.7L1301.6 299.8L1298 303.7L1298.1 307.6M1224 356.8L1221.6 363L1220 366.2L1217.9 362.9L1217.5 360L1219.7 356.2L1222.9 353.3L1224.6 354.5L1224 356.8M1179.8 378.8L1176.4 380.7L1173.3 379.5L1173.2 376.2L1175.1 374.5L1179.3 373.4L1181.5 373.4L1182.4 374.9L1180.7 376.6L1179.8 378.8M1069.5 421.9L1068.9 425.9L1067.3 427L1063.9 427.9L1062.1 424.8L1061.4 419.3L1063.2 413L1065.8 415.1L1067.6 417.9L1069.5 421.9M1222.2 379.5L1224.6 380.6L1225.8 379.6L1226.1 380.6L1225.5 382.2L1226.8 385L1225.8 388.2L1223.5 389.5L1222.9 392.6L1223.8 395.6L1225.8 396.1L1227.5 395.6L1232.3 397.7L1232 399.8L1233.2 400.8L1232.8 402.5L1229.8 400.6L1228.4 398.6L1227.4 400L1224.9 397.7L1221.4 398.3L1219.5 397.4L1219.7 395.9L1220.9 394.9L1219.7 394L1219.2 395.4L1217.3 393.2L1216.8 391.5L1216.6 387.8L1218.2 389.1L1218.6 383L1219.9 379.5L1222.2 379.5M1241.7 418.5L1242.1 421L1242.3 423.2L1241 426.7L1239.6 422.8L1237.8 424.7L1239 427.6L1237.9 429.4L1233.4 427.1L1232.3 424.3L1233.5 422.5L1231 420.7L1229.8 422.3L1228 422.1L1225.1 424.3L1224.5 423.2L1226 419.9L1228.4 418.8L1230.6 417.4L1231.9 419.1L1234.8 418.1L1235.5 416.3L1238.2 416.2L1238 413.3L1241.1 415.1L1241.4 417L1241.7 418.5M1215.2 407L1215.9 410.2L1213.3 412.3L1211.3 415L1206.1 418.6L1208 415.9L1210.9 413.6L1213.2 410.9L1215.2 407M1238.3 404L1239.4 408.3L1236.4 407.3L1236.5 408.5L1237.5 410.9L1235.6 411.8L1235.5 409.1L1234.3 408.9L1233.7 406.5L1236 406.9L1235.9 405.4L1233.6 402.5L1237.3 402.5L1238.3 404M1224.3 405L1226.7 406.2L1229.1 406.2L1229 407.8L1227.3 409.5L1224.8 410.6L1224.7 408.8L1225 406.9L1224.3 405M1232.4 411.2L1231.1 412.5L1229.9 415L1228.7 416.1L1226.3 413.4L1227.1 412.4L1228 411.3L1228.5 408.9L1230.6 408.7L1230 411.3L1232.8 407.6L1232.4 411.2M1223 400.5L1221.9 403.8L1220.3 401.9L1218.3 398.9L1221.6 399.1L1223 400.5M1208.9 434.9L1206.7 438.4L1209.5 442.1L1208.9 443.8L1213.2 447.4L1208.6 447.9L1207.3 450.5L1207.5 454L1203.8 456.6L1203.7 460.5L1202.2 466.4L1201.6 465L1197.2 466.8L1195.7 464.4L1193 464.2L1191 462.9L1186.4 464.3L1185 462.4L1182.5 462.7L1179.3 462.2L1178.7 457L1176.8 456L1174.9 452.7L1174.4 449.3L1174.9 445.7L1177.1 443.1L1180 444.5L1183 443.8L1183.7 440.5L1185.4 439.8L1190 438.9L1192.8 435.9L1194.7 433.4L1196.2 432L1199.5 429.9L1202.5 427.2L1204.4 424.2L1206 424.2L1208 426.1L1208.2 427.8L1210.7 428.9L1213.9 430L1213.6 431.5L1211.1 431.7L1211.7 433.6L1208.9 434.9M1121.6 429.8L1130.1 430.6L1133.5 434.4L1136.5 437.1L1138.6 438.7L1142.3 442.8L1146.2 442.9L1149.5 445.5L1151.7 448.7L1154.7 450.5L1153.1 453.6L1155.3 455L1156.7 455.1L1157.4 457.8L1158.7 459.9L1161.5 460.3L1163.4 462.7L1162.5 467.5L1162.3 473.5L1158 473.5L1154.8 470.3L1149.8 467.2L1148.2 464.8L1145.2 461.7L1143.3 458.8L1140.4 453.4L1137 450.2L1135.9 446.9L1134.4 443.9L1130.9 441.5L1128.9 438.1L1126 436L1122 431.7L1121.6 429.8M1173.1 477.1L1180.5 477.4L1181.4 475.9L1188.5 477.7L1190 480.2L1195.8 480.9L1200.5 483.2L1196.1 484.6L1191.8 483.1L1188.3 483.2L1184.3 482.9L1180.7 482.2L1176.3 480.8L1173.4 480.4L1171.8 480.9L1164.7 479.2L1164.1 477.6L1160.6 477.3L1163.2 473.7L1167.9 473.9L1171 475.4L1172.6 475.7L1173.1 477.1M1217.2 452.9L1220.7 456.3L1222.8 454.6L1230 453.3L1229.7 455.1L1228 454.5L1226.3 456.8L1222.9 458.2L1226.5 463.2L1225.8 464.5L1229.3 469L1229.3 471.5L1227.2 472.6L1225.7 471.3L1227.6 468.1L1223.8 469.6L1222.8 468.5L1223.3 467.1L1220.6 464.8L1220.8 461L1218.3 462.2L1218.6 466.7L1218.7 472.2L1216.3 472.8L1214.6 471.7L1215.7 468.1L1215.1 464.4L1213.5 464.4L1212.3 461.7L1213.9 459.2L1214.4 456.1L1216.4 450.3L1217.2 448.7L1220.5 445.8L1223.5 447L1228.4 447.5L1232.8 447.4L1236.7 444.6L1237.3 445.4L1234.2 449.2L1231.3 450L1227.6 449.2L1221.2 449.4L1217.8 450L1217.2 452.9M1236.3 485.2L1236.7 484.3L1240.1 483.4L1242.7 483.3L1244 482.8L1245.4 483.3L1244 484.3L1240 486L1236.7 487.1L1234.2 490L1230.9 490.9L1230.4 490.4L1230.8 489.1L1232.4 486.7L1236.3 485.2M1222.3 483.8L1224.8 483.5L1228.3 482.1L1227.7 484.3L1221.9 485.3L1216.8 484.9L1216.8 483.5L1219.9 482.7L1222.3 483.8M1210.4 483.1L1212.8 482.8L1213.7 484.5L1209.2 485.3L1206.6 485.8L1204.5 485.7L1205.8 483.5L1207.9 483.5L1209 482.1L1210.4 483.1M1218.7 489.5L1220.1 489.4L1219.9 490.4L1218.2 490.5L1213.1 487.8L1216.7 487L1218.7 489.5M1250.6 446.5L1250.4 449.9L1248.4 449.5L1247.9 451.9L1249.4 453.9L1248.4 454.4L1246.8 451.9L1245.7 447L1246.4 443.9L1247.7 442.5L1248 444.6L1250.3 445L1250.6 446.5M1253.3 461.7L1257.5 462.8L1258.9 465.8L1255.7 464.2L1252.5 463.9L1250.3 464.1L1247.6 464L1248.5 461.9L1253.3 461.7M1243.6 465.5L1240.9 464.8L1240.2 463.2L1244.1 463L1245.1 464.2L1243.6 465.5M1271.7 455.3L1272.8 461.6L1276.8 463.9L1280 459.8L1284.4 457.5L1287.9 457.5L1291.2 458.8L1294.1 460.2L1298.2 460.9L1304.9 463.6L1312 465.8L1314.7 467.8L1316.8 469.7L1317.4 472L1323.9 474.4L1324.8 476.4L1321.2 476.8L1322.1 479.4L1325.5 481.9L1328 486L1330.3 485.9L1330.1 487.6L1333.1 488.2L1331.9 489L1336 490.6L1335.6 491.7L1333.1 492L1332.1 491L1328.8 490.6L1324.9 490L1321.9 487.5L1319.7 485.4L1317.7 482L1312.6 480.3L1309.4 481.4L1307 482.7L1307.5 485.5L1304.5 486.9L1302.3 486.2L1298.3 486.1L1294.9 482.9L1291 482.1L1290 483.2L1285.1 483.3L1286.8 480.2L1289.2 479.1L1288.2 474.9L1286.3 471.7L1278.8 468.5L1275.6 468.1L1269.8 464.6L1268.7 466.4L1267.2 466.8L1266.4 465.4L1266.3 463.7L1263.4 461.8L1267.6 460.4L1270.3 460.5L1270 459.4L1264.3 459.4L1262.8 457.1L1259.3 456.4L1257.7 454.5L1262.9 453.6L1264.9 452.3L1271.1 453.9L1271.7 455.3M1343.1 465L1344.6 466.3L1345.1 468.3L1343.9 469.3L1343.1 467L1342.3 465.5L1340.5 464.2L1338.3 462.6L1335.5 461.5L1336.6 460.5L1338.7 461.6L1340 462.5L1341.6 463.4L1343.1 465M1338 473.4L1335.8 474.4L1333.9 475.3L1331.8 475.3L1328.7 474.2L1326.5 473.1L1326.8 471.9L1330.2 472.4L1332.4 472.2L1332.9 470.3L1333.5 470.2L1333.9 472.2L1336.1 472L1337.2 470.6L1339.3 469.3L1338.9 467L1341.2 466.9L1342 467.5L1341.9 469.7L1340.6 472L1338.6 472.3L1338 473.4M1351.3 471.5L1352.5 472.4L1354.4 474.8L1356.2 476.1L1355.7 477.2L1354.6 477.6L1352.9 476.1L1351.2 473.7L1350.4 470.7L1350.9 470.3L1351.3 471.5M1370.2 481.8L1366.1 480.8L1364.7 479.5L1365.2 479.1L1367 480.1L1370.2 481.8M1374.8 489L1371 488.7L1370.2 488.1L1370.4 486.5L1373 487.2L1374.2 488L1374.8 489M1378.1 487.9L1377.5 488.6L1374.6 485.3L1373.8 483L1375.1 483L1376.5 486.1L1378.1 487.9M1379.8 491.3L1380.8 492.7L1378.1 492.6L1376.7 490.2L1379 491.2L1379.8 491.3M1362.1 479.2L1361.3 479.4L1359.6 478.6L1358 477L1358.2 476.4L1360.5 478L1362.1 479.2M1399 508.5L1399.6 511.6L1398.6 511.1L1397.8 511.3L1397.3 510.3L1397.2 507.3L1399 508.5M1401.8 514.4L1400.6 514.9L1399.3 513.2L1399.5 512.2L1401.8 514.4M1393.9 532.2L1397.1 534.6L1399.1 536.4L1397.6 537.3L1395.5 536.3L1392.7 534.5L1390.2 532.5L1387.7 529.7L1387.1 528.5L1388.8 528.5L1391 529.8L1392.7 531.1L1393.9 532.2M1442.5 517.8L1443.9 518.9L1443.2 520.9L1440.8 521.4L1438.7 520.9L1438.3 519.2L1439.8 517.9L1441.6 518.4L1442.5 517.8M1446.3 515.7L1443.9 516.5L1443.4 515.1L1445.3 514.3L1446.5 514.1L1448.8 512.9M1324 608.3L1326.3 608.6L1326.6 613.1L1325.3 614.5L1324.9 617.6L1323.5 616.5L1320.9 619.2L1320 619L1317.7 618.9L1315.3 615.6L1314.8 613L1312.6 609.7L1312.6 607.9L1315.2 608.2L1318.9 609.6L1321 609L1324 608.3M1436.8 605.5L1435.3 607.5L1433.4 610.2L1430.4 611.7L1429.8 610.7L1428.1 610.1L1430.4 607L1429.1 604.8L1424.9 603.3L1425.1 601.9L1427.8 600.6L1428.5 597.6L1428.3 595.1L1426.8 592.5L1426.9 591.8L1425 590.2L1422 586.8L1420.4 584.1L1421.8 583.8L1423.9 585.9L1426.9 586.9L1428 590.4L1430.8 594.4L1430.9 591.8L1432.6 592.8L1433.2 595.8L1436.3 597L1438.9 597.3L1441.1 595.9L1443.1 596.3L1442.1 599.7L1441 602L1438 601.9L1437 603.1L1437.3 604.7L1436.8 605.5M1408.9 618.9L1412.2 616.9L1414.6 614.9L1416.3 612L1417.7 611L1418.3 608.9L1421 607.1L1421.9 608.7L1422.7 610.3L1425.5 608.8L1426.6 610.4L1426.6 612L1425.2 613.8L1422.6 616.6L1420.7 618.2L1422.1 620L1419.1 620.1L1415.8 621.5L1414.8 624.1L1412.6 628L1409.5 629.7L1407.6 630.8L1404 630.7L1401.5 629.4L1397.4 629.2L1396.7 627.8L1398.8 624.9L1403.6 621.1L1406.1 620.4L1408.9 618.9M944.9 499L946 500.7L947 503.2L947.6 507.8L948.6 509.6L948.2 511.5L947.5 512.6L946.2 510.3L945.4 511.5L946.2 514.4L945.8 516L944.8 516.9L944.6 520.1L943 524.6L941.1 530L938.7 537.3L937.3 542.6L935.5 547.1L932.4 548L929 549.6L926.8 548.7L923.7 547.3L922.6 545.2L922.4 541.8L921 538.8L920.6 536L921.3 533.2L923.1 532.5L923.2 531.2L925 528.3L925.3 525.9L924.4 524L923.7 521.6L923.4 518.1L924.7 515.9L925.3 513.5L927.2 513.3L929.3 512.5L930.8 511.8L932.5 511.8L934.7 509.6L937.9 507.2L939 505.2L938.5 503.6L940.1 504.1L942.3 501.4L942.3 499.1L943.6 497.3L944.9 499M813.5 303.4L812.2 306.5L812.7 307.7L811.9 309.7L809 308.2L807 307.8L801.6 305.8L802.2 303.8L806.7 304.2L810.6 303.8L813.5 303.4M789.2 291.9L791.5 294.7L791 299.8L789.2 299.5L787.6 300.8L786.2 299.8L786 295.1L785.1 292.9L787.2 293.1L789.2 291.9M790.5 288.3L789.3 291.3L787.5 290.5L786.6 287.9L787.4 286.5L789.9 285L790.5 288.3M845.1 313.2L847.3 314.5L850.3 314.3L853.1 314.6L853.1 315.2L855.1 314.7L854.6 315.9L849.1 316.2L849.2 315.6L844.4 314.8L845.1 313.2M878.2 315.5L880.3 315.3L883.8 314.5L887.2 313.3L884.5 314.9L884.8 315.7L884.9 316L881 317.6L879.1 317.1L878.2 315.5M801.4 234.5L802.6 236.4L800.3 239.5L796.2 237.4L795.7 235.7L801.4 234.5M943.3 271.9L941.3 274.2L937.8 274.9L933.9 278.8L937.4 282.5L937 285.1L941.2 289.6L945.3 294.4L947 294.6L948.2 295.6L945.1 295.9L944.4 298.9L943.7 300.3L942.3 301.2L942.4 303.1L943.6 305.9L947.3 306.8L950 308.7L955.4 309.3L961.5 308.3L961.9 307.4L961.2 304.7L961.7 300.7L958.7 299.4L959.7 296.7L957.1 296.5L958 293.2L961.6 294.2L965 292.9L962.2 290.6L961.1 288.4L958 289.4L957.6 292.2L956.4 289.7L956.2 288.8L957.1 287.2L956.4 285.9L951.9 284.5L950.2 281.1L948 280.1L947.9 278.8L951.7 279.2L951.8 276.4L955.1 275.7L958.5 276.3L959.2 272.6L958.5 270.2L954.6 270.4L951.3 269.4L946.8 271.1L943.3 271.9M1019 642.9L1022.3 639.7L1026 640.2L1026.1 640.9L1025 642.6L1019.1 642.9L1019 642.9M1308.1 504L1309.5 507L1311.9 505.6L1313.2 507.2L1315.1 508.7L1314.7 510.4L1315.5 513.7L1316.1 515.6L1317.1 516.1L1318.1 519.4L1317.7 521.4L1319 524L1323.2 526L1325.9 527.9L1328.5 529.5L1328 530.5L1330.2 532.9L1331.7 537.1L1333.3 536.2L1334.8 537.9L1335.8 537.3L1336.4 541.4L1339.2 543.8L1340.9 545.2L1344 548.4L1345.1 551.5L1345.1 553.7L1344.9 556L1346.7 559.3L1346.5 562.7L1345.8 564.5L1344.8 568L1344.9 570.2L1344.1 572.9L1342.4 576.5L1339.5 578.3L1338.1 581.3L1336.8 583.2L1335.7 586.6L1334.2 588.5L1333.3 591.4L1332.8 594L1332.9 595.3L1330.7 596.6L1326.4 596.7L1322.8 598.3L1321 599.8L1318.7 601.5L1315.5 599.7L1313.2 599.1L1313.7 597.1L1311.7 597.8L1308.3 600.6L1304.9 599.6L1302.7 598.9L1300.5 598.7L1296.8 597.5L1294.3 595.2L1293.6 592.2L1292.7 588.7L1290.8 588.7L1287.1 588.3L1288.3 586.4L1287.4 583.5L1285.5 586.2L1282.1 586.9L1284.1 584.8L1284.7 582.5L1286.2 580.7L1285.9 577.8L1282.7 581.1L1280.3 582.4L1278.8 585.5L1275.8 583.9L1275.9 581.9L1273.5 579L1271.5 577.6L1272.2 576.7L1267.2 574.4L1264.5 574.3L1260.8 572.4L1253.9 572.7L1248.9 574.1L1244.5 575.4L1240.8 575.2L1236.7 577.1L1233.4 578L1232.6 580L1231.2 581.6L1227.9 581.7L1225.5 582L1222.1 581.3L1219.3 581.8L1216.7 582L1214.4 584L1213.3 583.8L1211.3 584.9L1209.4 586.1L1206.6 586L1204.1 586L1199.9 583.5L1197.9 582.8L1198 580.6L1199.9 580.1L1200.5 579.2L1200.4 577.8L1200.9 575.1L1200.4 572.8L1198.4 568.9L1197.8 566.7L1197.9 564.5L1196.4 562L1196.3 560.9L1194.6 559.4L1194.1 556.3L1191.9 553.3L1191.4 551.6L1193.1 553.3L1191.7 549.7L1193.7 550.8L1194.8 552.3L1194.8 550.4L1192.8 547.3L1192.5 546.1L1191.5 544.9L1192 542.7L1192.8 541.8L1193.3 539.8L1192.9 537.6L1194.5 534.8L1194.8 537.8L1196.4 535.1L1199.5 533.8L1201.4 532.2L1204.4 530.7L1206.1 530.4L1207.2 530.9L1210.2 529.5L1212.6 529L1213.2 528.2L1214.2 527.9L1216.3 528L1220.4 526.8L1222.5 525.1L1223.5 523.1L1225.7 521.1L1225.9 519.6L1226 517.4L1228.7 514.2L1230.3 517.5L1232 516.7L1230.6 514.9L1231.8 513L1233.5 513.9L1234 511L1236.1 509.1L1237 507.5L1239 506.9L1239.1 505.8L1240.8 506.2L1240.8 505.3L1242.5 504.7L1244.4 504.2L1247.2 506L1249.4 508.3L1251.8 508.3L1254.2 508.6L1253.4 506.5L1255.3 503.4L1257 502.4L1256.4 501.5L1258.1 499.3L1260.4 497.9L1262.4 498.3L1265.7 497.6L1265.6 495.6L1262.7 494.4L1264.8 493.8L1267.4 494.8L1269.4 496.4L1272.7 497.3L1273.8 497L1276.2 498.1L1278.4 497L1279.9 497.4L1280.8 496.6L1282.5 498.5L1281.5 500.6L1280.1 502.2L1278.7 502.3L1279.2 503.8L1278 505.7L1276.7 507.7L1276.9 508.7L1280 510.9L1283 512.1L1285 513.5L1287.8 515.7L1288.9 515.7L1290.9 516.7L1291.5 517.9L1295.2 519.2L1297.7 517.9L1298.5 515.8L1299.2 514.1L1299.7 512L1300.9 508.9L1300.3 507.1L1300.7 505.9L1300.2 503.7L1300.7 500.8L1301.4 500L1300.8 498.8L1301.8 496.7L1302.5 494.6L1302.6 493.5L1304.1 492.1L1305.1 493.9L1305.4 496.3L1306.4 496.8L1306.5 498.5L1307.9 500.4L1308.2 502.6L1308.1 504M58.4 777.6L58.6 777.7L62 775.4L69 776.6L73.5 775.3L80.1 776.9L85 775.4L85.9 775.1L97.2 774.4L100.9 775.4L102.7 775.8L108.5 777.1L119.5 778.1L128.2 779.3L143.1 780.2L154.2 779.1L170.6 779.9L179.9 781.1L190.1 780L200.9 778.9L201.7 777.1L186.5 776.9L174 776.1L170.8 774.5L160.4 773.7L161.1 772L162.5 770.4L164 768.9L163.2 767.3L156.8 766.3L153.8 764.9L147.8 763.7L157.2 763.9L166.2 763.3L171.8 764.6L178.6 763.5L185 762.1L188.1 760.8L186.7 759.2L181.8 758.1L176.1 757L168.1 756.8L161.2 756.2L153.7 755.8L151.2 754.4L146.2 753.2L143.2 751.9L141.9 747.5L143.8 747.9L147.3 749.1L153.7 748.7L159.8 748.2L163 749.8L169.1 749.4L174.3 748.6L179.1 747.6L183.5 746.3L189.3 745.9L189.2 744.5L187.8 743L188.9 741.7L193.9 741L196.2 742.3L202.1 741.5L206.6 740.5L212.1 740.5L217.3 740.1L222.5 739.1L226.7 738.3L231.4 737.5L234.4 737.7L237 738L242.8 737.5L247.9 738.2L253.3 738.1L258.3 737.6L263.5 737.9L269.3 738.3L274.6 738.2L280.2 738.3L286 738.3L291.3 738.2L295.2 737.1L299.9 736.4L304.7 737.3L309.4 736.6L313.5 735.2L316 736.4L317.4 737.8L319.9 739.1L323.9 737.9L328.5 739.4L333.7 739.8L338.2 740.9L343.6 740.7L348.5 740L354.4 740.1L359.6 740.7L364.9 741.3L366.9 739.7L364.4 738.4L362.6 737.1L357.5 736.8L355.4 735.3L354.5 733.9L353.2 731L356.1 731.5L361.2 731.7L366.2 731.5L370.7 732.1L374.6 733.3L376.3 734.6L381.5 734.9L386.5 734.3L391.8 733.6L396.6 733.1L400.5 734L405.7 733.7L409 730.8L412.1 732.5L416.5 733.2L421.4 732.8L424.6 734.3L429.6 734.5L434.3 734.9L438.9 735.8L442 734.3L443.5 733L447.3 734.5L452.6 734.1L456.6 734.9L459.2 736.2L464.4 735.8L468.4 735L472.3 734L477 733.5L482.4 733L487.3 732.5L491.1 731.7L493.4 730.5L494.3 728.8L493.9 727.2L492.7 725.7L491.3 724.2L490.1 722.7L489.1 721.3L488.9 719.8L489.2 718.3L491 716.8L492.6 715.3L493.2 713.8L492.4 712.1L492 710.6L493.9 708.9L496 707.7L498.5 706.3L501.1 705.1L504.2 703.9L505.7 702.3L507.9 701.2L510.3 700.2L514 700L516.4 698.8L519.1 698L522.3 697.6L525.1 696.6L527.3 695.4L530.3 694.9L532.6 695.9L531.1 697.2L527.2 698.3L525.5 699.2L522.7 698.6L519.5 699L516.8 699.8L514.1 700.8L512.2 702L511.6 703.5L511.9 704.9L513.7 706.2L511 707.1L507.4 707.4L505.3 708.7L503 709.9L500.6 711.6L500 713L501.4 714.6L503.4 715.8L506.6 716.7L509.5 717.9L511.1 719.4L511.9 720.9L513.1 722.4L514.9 723.7L516 725.1L516.5 728.7L517.7 730.1L518 731.6L519.2 733.1L518.7 735.2L516.5 736.8L514.3 738L509.1 738.6L507.4 739.9L505.1 741.2L499.2 742.7L494.1 743.2L489.2 744.1L484 744.9L480.9 746.5L474.7 746.6L467.9 746.5L461.8 746.8L455.3 746.8L456.5 748.3L462.4 749L466.7 750.1L469.1 751.4L464.8 752.6L458.1 752.2L452.6 753.2L452.3 756.3L456.8 757.6L457.6 759L462.5 760.5L470.7 761.1L477.7 762.1L483.2 763.3L490.2 764.6L499.9 765.1L509.3 766.2L515.9 767.3L523.1 768.7L526.9 770.5L528.7 771.9L533.4 770.5L539.8 769.4L546.5 768.2L554.5 767.2L561.4 766.1L571 766.1L580.5 766.6L588.3 767.5L590.8 765.8L596.1 764.7L605.9 764.6L613.5 763.8L620.8 763L628.8 762.4L637.4 761.7L643.3 760.8L640.6 759.4L638.9 758L638.9 756.6L631.5 756.8L623.5 757.4L616 757.4L614.9 755.9L615.4 753.1L617.2 752.2L622.7 751.3L629.2 750.4L637.7 749.3L642.1 746.6L647.4 746L655.2 745.1L661.2 745L666.9 744.5L671.6 743.7L676.3 742.8L680.6 741.9L685.9 740.7L689.3 739.4L693 738.3L694.1 736.8L690 735.8L691.4 734.2L693.9 733L698 732.3L702.2 731.4L706.1 730.2L709.2 728.7L711 726.8L713.8 725.8L718.5 726L720.4 727.3L724.9 727.5L725.1 726L727.1 724.5L731.2 724.9L732.2 726.3L736.8 726.5L741.8 725.9L746.7 725.4L751.1 725.6L752.7 727.2L757 725.9L760.9 725.3L764.4 722.8L769.6 724.2L773.5 723.3L777.8 722.7L781.2 721.9L783.5 720.5L786.4 721.5L790.4 720.9L793.2 722.8L795.4 724.1L799.8 723.4L801.5 721.9L805.4 720.8L810.5 721L812 722.4L815.2 721L819.4 720.6L823.9 720.4L828 720.5L832.3 720.9L836.5 721.2L838.3 722.4L840.8 723.6L845 722.9L849.5 722.8L853.9 722.8L858.2 722.7L862.1 722.1L866.2 721.7L869.6 720.6L873.2 720L877.2 719.6L880.1 718.5L882.2 716.4L884.4 715.1L888.4 715.7L889.9 717.1L893.3 718L897.3 717.7L900 719L902.9 720.1L906.8 719.1L908.2 717.5L911.6 716.8L915.7 715.5L919.5 715L924 714.2L927 713.4L930.2 712.5L933.2 711.6L936.8 712.1L940.3 710.8L942.8 709.7L946.4 709.8L949.6 708.9L950.4 707.5L953.6 706.4L956.8 705.7L960.7 705.1L964.2 704.8L967.6 705L971.3 705.4L974.4 706.4L974.8 708.1L978.2 709.4L980.5 710.4L985.1 710.9L987.7 712L990.9 713L994.6 713.2L997.7 712.5L1001 710.9L1004.6 711.7L1008.4 712.2L1012 712.6L1015.8 712.9L1019.7 712.9L1022.8 716.9L1022.7 717.9L1022.3 719.7L1018.6 720.6L1015.5 722.1L1016 723.6L1020.4 723.5L1019.8 725L1017.9 726.5L1016 728L1019 729.3L1023.5 729.6L1027.9 729L1030 727.5L1031.3 726L1033.4 724.8L1035.9 723.7L1036.9 722.3L1038.9 720.4L1041.3 720L1045.7 719.9L1049.6 719.4L1053.5 718.8L1055.4 717.3L1056.5 715.9L1059.1 714.5L1062.9 713.5L1066.2 712.7L1068.3 711.4L1070.5 710.8L1073.3 710.1L1077.2 710.5L1080.7 710.1L1084.4 709.7L1088.7 709.9L1091.5 708.9L1093.4 706.3L1094.9 707.3L1096.7 709.1L1099.9 709.9L1103.6 710.2L1107.3 709.8L1111.3 710.1L1114.9 710.1L1117.4 709.8L1120.6 710L1123.5 710.8L1127 710.3L1131.2 710.3L1134.7 709.8L1138.7 710.3L1141.3 709L1143.3 707.7L1145.9 706.7L1150.8 703.8L1153.3 704.3L1156.2 705.4L1158.8 706.7L1163.7 709.1L1167.5 709.1L1171 709.1L1175.2 708.7L1179.4 708.2L1182.5 707.1L1185.2 706L1189.5 705.8L1192.4 705L1195.4 705.7L1197.4 707L1200.1 708.2L1204.3 708L1207 709L1211.6 710L1216.4 710.4L1220.4 710.1L1223.4 708.9L1226 707.6L1229.5 707.3L1233 707.9L1237 708.2L1240.6 707.6L1244.1 707.6L1247.5 708L1251.1 708.4L1254.5 707.7L1258.7 707.1L1262.7 707L1267.1 707L1270.6 706.6L1274.1 706.3L1275.1 704.4L1275.3 702.8L1277.7 703.9L1278.4 705.6L1279.7 707.2L1281.3 708.5L1284.5 709.1L1288.9 708.9L1294 708.9L1297.4 708.6L1302.5 708.6L1306.1 708.6L1311.2 708.7L1315.5 709L1318.3 710.2L1317.5 711.6L1320 712.8L1324.1 713.7L1328.5 714.7L1333.4 715.3L1338.7 716L1342.6 716.5L1347 716.6L1349.5 715.3L1352.9 716.4L1355.8 717.6L1359.2 718.5L1364 718.9L1368.4 719.4L1370.3 720.9L1374.7 721.8L1377.6 723.1L1382 723.8L1386.4 723.7L1390.6 723.9L1395.2 723.8L1399.8 724.1L1404.1 724.6L1408.1 725.6L1412.1 726.3L1414.9 727.5L1414.4 729L1412.4 730.3L1410.6 732L1409.3 733.4L1407.4 735L1402.4 735.6L1400.1 737L1395.1 737.8L1393.3 739.3L1390.7 740.8L1387.9 742L1386.3 743.5L1385.4 745L1385 746.7L1385 748.2L1387.2 749.7L1388.1 751.1L1389.9 752.5L1397.1 753L1398.6 754.6L1391.6 755.3L1385.7 756.1L1378.4 756.2L1375.1 758.4L1374.5 760.2L1370.8 763.1L1375.9 764.4L1377.9 766L1381.2 767.4L1385.9 768.7L1391.3 769.9L1397.1 771.1L1405.9 772.4L1407.9 774.2L1419 775.1L1422.6 776.5L1433.3 775.5L1442.2 776.7L1448.8 777.6M489 724.8L487.9 729.4L479 730.5L474 730.5L475.9 729L467 730.2L464.1 728.9L463.9 727.3L468.2 725.8L470.9 725.3L475.1 725.5L476.4 723.5L476.6 722.1L476.5 719L478.7 717.2L482.3 716.6L484.3 718L485.2 719.4L486.9 721.2L488.2 722.9L489.2 724.6L489 724.8M358.5 728.2L360.8 727.5L365.8 728L371.3 728.3L375.6 728.9L379.8 728.4L382.1 730.6L379 730.3L374.3 730.5L369.6 730.3L364.4 730.5L360.4 729.8L358.5 728.2M280.1 735L280.9 733.6L290.5 734.8L295.2 734.4L292.8 735.6L289.4 736.7L284 736.3L280.1 735M261.9 734.2L264.8 733.4L268.7 734.3L274.6 735.8L272.4 735.7L267.3 735.3L261.9 734.2M121.4 754.1L123.7 752.5L130.8 753.2L134.7 754.4L137.7 755.8L138.7 757.5L131.3 758L126.2 756.7L123.9 755.3L123.8 755.1L121.4 754.1M497.6 760.5L506.3 760.6L514.6 761L517.5 759.4L519.5 758L523.5 759.6L522.4 761.6L521.3 763.3L513.1 762.8L504.5 763L499.7 761.7L499.7 761.6L497.6 760.5M574 751L581.1 752L584 753.6L585.6 756L586.1 757.6L586.3 759.6L580.3 760.8L574 761.7L566.7 762.7L558.6 763.4L549.5 763.2L544.4 761.9L545.1 760.3L553.3 759.3L556.7 758L559.1 756.3L560.8 754.9L563.2 753.5L565.7 752L567.6 752L573.4 751.1L574 751" fill="none" stroke="#000" stroke-width="4.17" stroke-linejoin="round" stroke-linecap="round"/>
</defs>
<g clip-path="url(#c0)">
<g shape-rendering="crispEdges">
<rect x="58.4" y="113.4" width="1371.1" height="675" fill="#00009f"/>
<path fill="#0000df" d="M58.4 113.4L77.7 113.4L97 113.4L116.3 113.4L135.6 113.4L155 113.4L174.3 113.4L193.6 113.4L212.9 113.4L232.2 113.4L251.5 113.4L270.8 113.4L290.1 113.4L309.4 113.4L328.8 113.4L348.1 113.4L367.4 113.4L386.7 113.4L406 113.4L425.3 113.4L444.6 113.4L463.9 113.4L483.2 113.4L502.6 113.4L521.9 113.4L541.2 113.4L560.5 113.4L579.8 113.4L599.1 113.4L618.4 113.4L637.7 113.4L657 113.4L676.4 113.4L695.7 113.4L715 113.4L734.3 113.4L753.6 113.4L772.9 113.4L792.2 113.4L811.5 113.4L830.9 113.4L850.2 113.4L869.5 113.4L888.8 113.4L908.1 113.4L927.4 113.4L946.7 113.4L966 113.4L985.3 113.4L1004.7 113.4L1024 113.4L1043.3 113.4L1062.6 113.4L1081.9 113.4L1101.2 113.4L1120.5 113.4L1139.8 113.4L1159.1 113.4L1178.5 113.4L1197.8 113.4L1217.1 113.4L1236.4 113.4L1255.7 113.4L1275 113.4L1294.3 113.4L1313.6 113.4L1332.9 113.4L1352.3 113.4L1371.6 113.4L1390.9 113.4L1410.2 113.4L1429.5 113.4L1429.5 123L1429.5 132.7L1429.5 142.3L1429.5 152L1429.5 161.6L1429.5 171.3L1429.5 180.9L1429.5 190.5L1429.5 200.2L1429.5 209.8L1429.5 219.5L1429.5 229.1L1429.5 238.8L1429.5 248.4L1429.5 258L1429.5 267.7L1429.5 277.3L1429.5 287L1429.5 296.6L1429.5 306.3L1429.5 315.9L1429.5 325.5L1429.5 335.2L1429.5 344.8L1429.5 354.5L1429.5 364.1L1429.5 373.8L1429.5 383.4L1429.5 393L1429.5 402.7L1429.5 412.3L1429.5 422L1429.5 431.6L1429.5 441.3L1429.5 450.9L1429.5 460.5L1429.5 470.2L1429.5 479.8L1429.5 489.5L1429.5 499.1L1429.5 508.8L1429.5 518.4L1429.5 528L1429.5 537.7L1429.5 547.3L1429.5 557L1429.5 566.6L1429.5 576.3L1429.5 585.9L1429.5 595.5L1429.5 605.2L1429.5 614.8L1429.5 624.5L1429.5 634.1L1429.5 643.8L1429.5 653.4L1429.5 663L1429.5 672.7L1429.5 682.3L1429.5 692L1429.5 701.6L1429.5 711.3L1429.5 720.9L1429.5 730.5L1429.5 740.2L1429.5 749.8L1429.5 759.5L1429.5 769.1L1429.5 778.8L1429.5 788.4L1410.2 788.4L1390.9 788.4L1371.6 788.4L1352.3 788.4L1332.9 788.4L1313.6 788.4L1294.3 788.4L1275 788.4L1255.7 788.4L1236.4 788.4L1217.1 788.4L1197.8 788.4L1178.5 788.4L1159.1 788.4L1139.8 788.4L1120.5 788.4L1101.2 788.4L1081.9 788.4L1062.6 788.4L1043.3 788.4L1024 788.4L1004.7 788.4L985.3 788.4L966 788.4L946.7 788.4L927.4 788.4L908.1 788.4L888.8 788.4L869.5 788.4L850.2 788.4L830.9 788.4L811.5 788.4L792.2 788.4L772.9 788.4L753.6 788.4L734.3 788.4L715 788.4L695.7 788.4L676.4 788.4L657 788.4L637.7 788.4L618.4 788.4L599.1 788.4L579.8 788.4L560.5 788.4L541.2 788.4L521.9 788.4L502.6 788.4L483.2 788.4L463.9 788.4L444.6 788.4L425.3 788.4L406 788.4L386.7 788.4L367.4 788.4L348.1 788.4L328.8 788.4L309.4 788.4L290.1 788.4L270.8 788.4L251.5 788.4L232.2 788.4L212.9 788.4L193.6 788.4L174.3 788.4L155 788.4L135.6 788.4L116.3 788.4L97 788.4L77.7 788.4L58.4 788.4L58.4 778.8L58.4 769.1L58.4 759.5L58.4 749.8L58.4 740.2L58.4 730.5L58.4 720.9L58.4 711.3L58.4 701.6L58.4 692L58.4 682.3L58.4 672.7L58.4 663L58.4 653.4L58.4 643.8L58.4 634.1L58.4 624.5L58.4 614.8L58.4 605.2L58.4 595.5L58.4 585.9L58.4 576.3L58.4 566.6L58.4 557L58.4 547.3L58.4 537.7L58.4 528L58.4 518.4L58.4 508.8L58.4 499.1L58.4 489.5L58.4 479.8L58.4 470.2L58.4 460.5L58.4 450.9L58.4 441.3L58.4 431.6L58.4 422L58.4 412.3L58.4 402.7L58.4 393L58.4 383.4L58.4 373.8L58.4 364.1L58.4 354.5L58.4 344.8L58.4 335.2L58.4 325.5L58.4 315.9L58.4 306.3L58.4 296.6L58.4 287L58.4 277.3L58.4 267.7L58.4 258L58.4 248.4L58.4 238.8L58.4 229.1L58.4 219.5L58.4 209.8L58.4 200.2L58.4 190.5L58.4 180.9L58.4 171.3L58.4 161.6L58.4 152L58.4 142.3L58.4 132.7L58.4 123ZM618.4 246.9L610.8 248.4L599.1 255.5L593.2 258L599.1 259.6L618.4 265.1L631.3 267.7L637.7 268.2L657 267.8L660.1 267.7L676.4 266.1L695.7 263.2L706.3 258L703.7 248.4L695.7 245.4L676.4 243.3L657 243.1L637.7 243.9Z"/>
<path fill="#000cff" d="M58.4 113.4L77.7 113.4L97 113.4L116.3 113.4L135.6 113.4L155 113.4L174.3 113.4L193.6 113.4L212.9 113.4L232.2 113.4L251.5 113.4L270.8 113.4L290.1 113.4L309.4 113.4L328.8 113.4L348.1 113.4L367.4 113.4L386.7 113.4L406 113.4L425.3 113.4L444.6 113.4L463.9 113.4L483.2 113.4L502.6 113.4L521.9 113.4L541.2 113.4L560.5 113.4L579.8 113.4L599.1 113.4L618.4 113.4L637.7 113.4L657 113.4L676.4 113.4L695.7 113.4L715 113.4L734.3 113.4L753.6 113.4L772.9 113.4L792.2 113.4L811.5 113.4L830.9 113.4L850.2 113.4L869.5 113.4L888.8 113.4L908.1 113.4L927.4 113.4L946.7 113.4L966 113.4L985.3 113.4L1004.7 113.4L1024 113.4L1043.3 113.4L1062.6 113.4L1081.9 113.4L1101.2 113.4L1120.5 113.4L1139.8 113.4L1159.1 113.4L1178.5 113.4L1197.8 113.4L1217.1 113.4L1236.4 113.4L1255.7 113.4L1275 113.4L1294.3 113.4L1313.6 113.4L1332.9 113.4L1352.3 113.4L1371.6 113.4L1390.9 113.4L1410.2 113.4L1429.5 113.4L1429.5 123L1429.5 132.7L1429.5 142.3L1429.5 152L1429.5 161.6L1429.5 171.3L1429.5 180.9L1429.5 190.5L1429.5 200.2L1429.5 209.8L1429.5 219.5L1429.5 229.1L1429.5 238.8L1429.5 248.4L1429.5 258L1429.5 267.7L1429.5 277.3L1429.5 287L1429.5 296.6L1429.5 306.3L1429.5 315.9L1429.5 325.5L1429.5 335.2L1429.5 344.8L1429.5 354.5L1429.5 364.1L1429.5 373.8L1429.5 383.4L1429.5 393L1429.5 402.7L1429.5 412.3L1429.5 422L1429.5 431.6L1429.5 441.3L1429.5 450.9L1429.5 460.5L1429.5 470.2L1429.5 479.8L1429.5 489.5L1429.5 499.1L1429.5 508.8L1429.5 518.4L1429.5 528L1429.5 537.7L1429.5 547.3L1429.5 557L1429.5 566.6L1429.5 576.3L1429.5 585.9L1429.5 595.5L1429.5 605.2L1429.5 614.8L1429.5 624.5L1429.5 634.1L1429.5 643.8L1429.5 653.4L1429.5 663L1429.5 672.7L1429.5 682.3L1429.5 692L1429.5 701.6L1429.5 711.3L1429.5 720.9L1429.5 730.5L1429.5 740.2L1429.5 749.8L1429.5 759.5L1429.5 769.1L1429.5 778.8L1429.5 788.4L1410.2 788.4L1390.9 788.4L1371.6 788.4L1352.3 788.4L1332.9 788.4L1313.6 788.4L1294.3 788.4L1275 788.4L1255.7 788.4L1236.4 788.4L1217.1 788.4L1197.8 788.4L1178.5 788.4L1159.1 788.4L1139.8 788.4L1120.5 788.4L1101.2 788.4L1081.9 788.4L1062.6 788.4L1043.3 788.4L1024 788.4L1004.7 788.4L985.3 788.4L966 788.4L946.7 788.4L927.4 788.4L908.1 788.4L888.8 788.4L869.5 788.4L850.2 788.4L830.9 788.4L811.5 788.4L792.2 788.4L772.9 788.4L753.6 788.4L734.3 788.4L715 788.4L695.7 788.4L676.4 788.4L657 788.4L637.7 788.4L618.4 788.4L599.1 788.4L579.8 788.4L560.5 788.4L541.2 788.4L521.9 788.4L502.6 788.4L483.2 788.4L463.9 788.4L444.6 788.4L425.3 788.4L406 788.4L386.7 788.4L367.4 788.4L348.1 788.4L328.8 788.4L309.4 788.4L290.1 788.4L270.8 788.4L251.5 788.4L232.2 788.4L212.9 788.4L193.6 788.4L174.3 788.4L155 788.4L135.6 788.4L116.3 788.4L97 788.4L77.7 788.4L58.4 788.4L58.4 778.8L58.4 769.1L58.4 759.5L58.4 749.8L58.4 740.2L58.4 730.5L58.4 720.9L58.4 711.3L58.4 701.6L58.4 692L58.4 682.3L58.4 672.7L58.4 663L58.4 653.4L58.4 643.8L58.4 634.1L58.4 624.5L58.4 614.8L58.4 605.2L58.4 595.5L58.4 585.9L58.4 576.3L58.4 566.6L58.4 557L58.4 547.3L58.4 537.7L58.4 528L58.4 518.4L58.4 508.8L58.4 499.1L58.4 489.5L58.4 479.8L58.4 470.2L58.4 460.5L58.4 450.9L58.4 441.3L58.4 431.6L58.4 422L58.4 412.3L58.4 402.7L58.4 393L58.4 383.4L58.4 373.8L58.4 364.1L58.4 354.5L58.4 344.8L58.4 335.2L58.4 325.5L58.4 315.9L58.4 306.3L58.4 296.6L58.4 287L58.4 277.3L58.4 267.7L58.4 258L58.4 248.4L58.4 238.8L58.4 229.1L58.4 219.5L58.4 209.8L58.4 200.2L58.4 190.5L58.4 180.9L58.4 171.3L58.4 161.6L58.4 152L58.4 142.3L58.4 132.7L58.4 123ZM444.6 120.9L426.4 123L425.3 123.2L406 127.2L391.7 132.7L386.7 135.3L376.2 142.3L367.4 148.7L361.9 152L348.1 158.4L338.9 161.6L328.8 164.8L309.4 169.8L290.1 171.2L270.8 167.7L251.5 163.5L233.1 161.6L232.2 161.5L230.4 161.6L212.9 162.4L193.6 166.2L178.5 171.3L174.3 173.5L166.1 180.9L164.8 190.5L168.4 200.2L174.3 208.7L175.2 209.8L183.6 219.5L191 229.1L193.6 232.3L199.5 238.8L209.6 248.4L212.9 251.1L221.1 258L232.2 266.6L233.5 267.7L247.3 277.3L251.5 279.9L265.2 287L270.8 289.6L290 296.6L290.1 296.7L309.4 303.5L319.5 306.3L328.8 308.6L348.1 311.5L367.4 313.3L386.7 314.4L406 314.3L425.3 313.2L444.6 311.1L463.9 308.8L483.2 306.7L486.8 306.3L502.6 304.5L521.9 302.4L541.2 301.1L560.5 299.1L579.8 296.8L599.1 297.5L618.4 296.9L621.6 296.6L637.7 295.6L657 296L676.4 295.8L695.7 294.9L715 296L734.3 296.2L753.6 292.5L765.9 287L772.9 284.1L787.1 277.3L792.2 275.2L809.1 267.7L811.5 266.5L823.3 258L830.9 248.9L831.2 248.4L833.7 238.8L832.2 229.1L830.9 227L823.2 219.5L811.5 212.8L801.3 209.8L792.2 207.5L772.9 206.7L753.6 209L749.7 209.8L734.3 212.2L715 214.2L695.7 215.2L676.4 216.2L657 216.8L637.7 217.1L618.4 217.1L599.1 217.5L579.8 218.5L560.5 218L541.2 218.4L532.9 219.5L521.9 220.6L502.6 221.7L483.2 223.2L463.9 222.5L458.6 219.5L456.9 209.8L463.9 202.7L469.7 200.2L483.2 196.4L502.6 191.7L506 190.5L521.9 186.5L536.1 180.9L541.2 179.4L560.5 172.1L562.4 171.3L579.8 166.1L596.4 161.6L599.1 160.9L618.4 156.5L637.7 153.2L642.6 152L657 146.6L671.1 142.3L676.4 137.3L685.2 132.7L676.4 127L669.9 123L657 120L637.7 118L618.4 116.5L599.1 116.7L579.8 117.7L560.5 117.5L541.2 117.6L521.9 118.2L502.6 118.2L483.2 118.6L463.9 119.6ZM715 386L699.9 393L701.4 402.7L715 408.2L725.1 402.7L725.9 393Z"/>
<path fill="#0044ff" d="M58.4 113.4L77.7 113.4L97 113.4L116.3 113.4L135.6 113.4L144.8 113.4L137.1 123L135.6 124L121.5 132.7L116.3 135.1L103.1 142.3L97 145.6L87.5 152L77.7 158.5L74.7 161.6L69.7 171.3L71.9 180.9L77.7 185.2L86.8 190.5L97 197.8L99.7 200.2L107.7 209.8L111.7 219.5L112.8 229.1L111.7 238.8L109.4 248.4L108.9 258L115.3 267.7L116.3 268.7L127 277.3L135.6 286.4L136.4 287L148.3 296.6L155 301.4L165.3 306.3L174.3 311.8L177.8 315.9L184.8 325.5L193.6 331.7L197.8 335.2L212.9 343.4L215.2 344.8L232.2 352.4L237 354.5L251.5 357.9L270.8 362.4L276.8 364.1L290.1 366.6L309.4 369.4L328.8 373.3L330.3 373.8L348.1 376.4L367.4 376.9L386.7 378.4L406 381.1L425.3 382.5L444.6 382.5L463.9 381.4L483.2 377.8L499 373.8L502.6 372.5L521.9 367L534.8 364.1L541.2 362.8L560.5 360.8L579.8 361.9L586.3 364.1L597.3 373.8L595.4 383.4L587.6 393L579.8 401.1L578.1 402.7L570.1 412.3L565.4 422L563.4 431.6L565.3 441.3L572.6 450.9L579.8 455.4L599.1 457.9L618.4 455.5L637.7 454L655.3 460.5L657 461.2L671.4 470.2L676.4 473.6L686.2 479.8L695.7 485.9L713.7 489.5L715 489.7L715.7 489.5L734.3 480.5L734.6 479.8L738.9 470.2L743.8 460.5L750.2 450.9L753.6 446.9L756.4 441.3L761.9 431.6L767.1 422L771.3 412.3L772.9 406.4L773.7 402.7L775.3 393L776.7 383.4L778.1 373.8L779.5 364.1L781.2 354.5L783.7 344.8L787.5 335.2L792.2 326.5L792.7 325.5L798.7 315.9L806.6 306.3L811.5 301.7L817.3 296.6L830.9 288.1L832.3 287L846.7 277.3L850.2 274.9L859 267.7L869.4 258L869.5 258L876.2 248.4L881.8 238.8L886.6 229.1L888.8 221.8L889.5 219.5L889.6 209.8L888.8 207.3L885.9 200.2L877.7 190.5L869.5 183.6L865.8 180.9L853.4 171.3L850.2 168.2L843.6 161.6L838.2 152L836.8 142.3L839.2 132.7L845.5 123L850.2 118.4L856.9 113.4L869.5 113.4L888.8 113.4L908.1 113.4L927.4 113.4L946.7 113.4L966 113.4L985.3 113.4L1004.7 113.4L1024 113.4L1043.3 113.4L1062.6 113.4L1081.9 113.4L1101.2 113.4L1120.5 113.4L1139.8 113.4L1159.1 113.4L1178.5 113.4L1197.8 113.4L1217.1 113.4L1236.4 113.4L1255.7 113.4L1275 113.4L1294.3 113.4L1313.6 113.4L1332.9 113.4L1352.3 113.4L1371.6 113.4L1390.9 113.4L1410.2 113.4L1429.5 113.4L1429.5 123L1429.5 132.7L1429.5 142.3L1429.5 152L1429.5 161.6L1429.5 171.3L1429.5 180.9L1429.5 190.5L1429.5 200.2L1429.5 209.8L1429.5 219.5L1429.5 229.1L1429.5 238.8L1429.5 248.4L1429.5 258L1429.5 267.7L1429.5 277.3L1429.5 287L1429.5 296.6L1429.5 306.3L1429.5 315.9L1429.5 325.5L1429.5 335.2L1429.5 344.8L1429.5 354.5L1429.5 364.1L1429.5 373.8L1429.5 383.4L1429.5 393L1429.5 402.7L1429.5 412.3L1429.5 422L1429.5 431.6L1429.5 441.3L1429.5 450.9L1429.5 460.5L1429.5 470.2L1429.5 479.8L1429.5 489.5L1429.5 499.1L1429.5 508.8L1429.5 518.4L1429.5 528L1429.5 537.7L1429.5 547.3L1429.5 557L1429.5 566.6L1429.5 576.3L1429.5 585.9L1429.5 595.5L1429.5 605.2L1429.5 614.8L1429.5 624.5L1429.5 634.1L1429.5 643.8L1429.5 653.4L1429.5 663L1429.5 672.7L1429.5 682.3L1429.5 692L1429.5 701.6L1429.5 711.3L1429.5 720.9L1429.5 730.5L1429.5 740.2L1429.5 749.8L1429.5 759.5L1429.5 769.1L1429.5 778.8L1429.5 788.4L1410.2 788.4L1390.9 788.4L1371.6 788.4L1352.3 788.4L1332.9 788.4L1313.6 788.4L1294.3 788.4L1275 788.4L1255.7 788.4L1236.4 788.4L1217.1 788.4L1197.8 788.4L1178.5 788.4L1159.1 788.4L1139.8 788.4L1120.5 788.4L1101.2 788.4L1081.9 788.4L1062.6 788.4L1043.3 788.4L1024 788.4L1004.7 788.4L985.3 788.4L966 788.4L946.7 788.4L927.4 788.4L908.1 788.4L888.8 788.4L869.5 788.4L850.2 788.4L830.9 788.4L811.5 788.4L792.2 788.4L772.9 788.4L753.6 788.4L734.3 788.4L715 788.4L695.7 788.4L676.4 788.4L657 788.4L637.7 788.4L618.4 788.4L599.1 788.4L579.8 788.4L560.5 788.4L541.2 788.4L521.9 788.4L502.6 788.4L483.2 788.4L463.9 788.4L444.6 788.4L425.3 788.4L406 788.4L386.7 788.4L367.4 788.4L348.1 788.4L328.8 788.4L309.4 788.4L290.1 788.4L270.8 788.4L251.5 788.4L232.2 788.4L212.9 788.4L193.6 788.4L174.3 788.4L155 788.4L135.6 788.4L116.3 788.4L97 788.4L77.7 788.4L58.4 788.4L58.4 778.8L58.4 769.1L58.4 759.5L58.4 749.8L58.4 740.2L58.4 730.5L58.4 720.9L58.4 711.3L58.4 701.6L58.4 692L58.4 682.3L58.4 672.7L58.4 663L58.4 653.4L58.4 643.8L58.4 634.1L58.4 624.5L58.4 614.8L58.4 605.2L58.4 595.5L58.4 585.9L58.4 576.3L58.4 566.6L58.4 557L58.4 547.3L58.4 537.7L58.4 528L58.4 518.4L58.4 508.8L58.4 499.1L58.4 489.5L58.4 479.8L58.4 470.2L58.4 460.5L58.4 450.9L58.4 441.3L58.4 431.6L58.4 422L58.4 412.3L58.4 402.7L58.4 393L58.4 383.4L58.4 373.8L58.4 364.1L58.4 354.5L58.4 344.8L58.4 335.2L58.4 325.5L58.4 315.9L58.4 306.3L58.4 296.6L58.4 287L58.4 277.3L58.4 267.7L58.4 258L58.4 248.4L58.4 238.8L58.4 229.1L58.4 219.5L58.4 209.8L58.4 200.2L58.4 190.5L58.4 180.9L58.4 171.3L58.4 161.6L58.4 152L58.4 142.3L58.4 132.7L58.4 123ZM637.7 682.2L637.4 682.3L618.4 690.7L617.1 692L610.9 701.6L609.1 711.3L609.5 720.9L611.6 730.5L618.4 739.3L619.9 740.2L637.7 745L657 744.5L672.8 740.2L676.4 738.4L684.5 730.5L687.6 720.9L689.6 711.3L688.7 701.6L683.7 692L676.4 684.5L670 682.3L657 678.8ZM676.4 554.6L672.6 557L661.7 566.6L657 572.4L654.4 576.3L649 585.9L645.5 595.5L645.1 605.2L649.3 614.8L657 621.6L665.8 624.5L676.4 627.2L683.9 624.5L695.7 621.2L702 614.8L710 605.2L715 596.1L715.2 595.5L717.5 585.9L718.7 576.3L717.9 566.6L715 560L711.4 557L695.7 551ZM946.7 736.8L936.5 740.2L942 749.8L946.7 751L954.9 749.8L966 744.3L968.4 740.2L966 739ZM687.7 171.3L695.7 170.6L698.5 171.3L711.1 180.9L698.5 190.5L695.7 191.4L676.4 191.6L667.5 190.5L657 183.2L655 180.9L657 180.2L676.4 173.1Z"/>
<path fill="#0080ff" d="M1019.6 123L1024 122.7L1043.3 121.3L1062.6 119.1L1081.9 117L1101.2 115.5L1120.5 114.6L1139.8 114.6L1159.1 115L1178.5 115L1197.8 115.5L1217.1 116.3L1236.4 116.5L1255.7 117L1275 117.8L1294.3 118.2L1313.6 119.1L1332.9 121.1L1345.7 123L1352.3 124.3L1371.6 131.4L1373.7 132.7L1386.3 142.3L1390.9 145.5L1401.7 152L1410.2 158L1414.1 161.6L1422.3 171.3L1429.2 180.9L1429.5 181.3L1429.5 190.5L1429.5 200.2L1429.5 209.8L1429.5 219.5L1429.5 229.1L1429.5 238.8L1429.5 248.4L1429.5 258L1429.5 267.7L1429.5 277.3L1429.5 287L1429.5 296.6L1429.5 306.3L1429.5 315.9L1429.5 325.5L1429.5 335.2L1429.5 344.8L1429.5 354.5L1429.5 364.1L1429.5 373.8L1429.5 383.4L1429.5 393L1429.5 402.7L1429.5 412.3L1429.5 422L1429.5 431.6L1429.5 441.3L1429.5 450.9L1429.5 460.5L1429.5 470.2L1429.5 479.8L1429.5 489.5L1429.5 499.1L1429.5 508.8L1429.5 518.4L1429.5 528L1429.5 537.7L1429.5 547.3L1429.5 557L1429.5 566.6L1429.5 576.3L1429.5 585.9L1429.5 595.5L1429.5 605.2L1429.5 614.8L1429.5 624.5L1429.5 634.1L1429.5 643.8L1429.5 653.4L1429.5 663L1429.5 672.7L1429.5 682.3L1429.5 692L1429.5 701.6L1429.5 711.3L1429.5 720.9L1429.5 730.5L1429.5 740.2L1429.5 749.8L1429.5 759.5L1429.5 769.1L1429.5 778.8L1429.5 788.4L1410.2 788.4L1390.9 788.4L1371.6 788.4L1352.3 788.4L1332.9 788.4L1313.6 788.4L1294.3 788.4L1275 788.4L1255.7 788.4L1236.4 788.4L1217.1 788.4L1197.8 788.4L1178.5 788.4L1159.1 788.4L1139.8 788.4L1120.5 788.4L1101.2 788.4L1081.9 788.4L1062.6 788.4L1043.3 788.4L1024 788.4L1004.7 788.4L985.3 788.4L966 788.4L946.7 788.4L927.4 788.4L908.1 788.4L888.8 788.4L869.5 788.4L850.2 788.4L830.9 788.4L811.5 788.4L792.2 788.4L772.9 788.4L753.6 788.4L734.3 788.4L715 788.4L695.7 788.4L676.4 788.4L657 788.4L637.7 788.4L618.4 788.4L599.1 788.4L579.8 788.4L560.5 788.4L541.2 788.4L521.9 788.4L502.6 788.4L483.2 788.4L463.9 788.4L444.6 788.4L425.3 788.4L406 788.4L386.7 788.4L367.4 788.4L348.1 788.4L328.8 788.4L309.4 788.4L290.1 788.4L270.8 788.4L251.5 788.4L232.2 788.4L212.9 788.4L193.6 788.4L174.3 788.4L155 788.4L135.6 788.4L116.3 788.4L97 788.4L77.7 788.4L58.4 788.4L58.4 778.8L58.4 769.1L58.4 759.5L58.4 749.8L58.4 740.2L58.4 730.5L58.4 720.9L58.4 711.3L58.4 701.6L58.4 692L58.4 682.3L58.4 672.7L58.4 663L58.4 653.4L58.4 643.8L58.4 634.1L58.4 624.5L58.4 614.8L58.4 605.2L58.4 595.5L58.4 585.9L58.4 576.3L58.4 566.6L58.4 557L58.4 547.3L58.4 537.7L58.4 528L58.4 518.4L58.4 508.8L58.4 499.1L58.4 489.5L58.4 479.8L58.4 470.2L58.4 460.5L58.4 450.9L58.4 441.3L58.4 431.6L58.4 422L58.4 412.3L58.4 402.7L58.4 393L58.4 383.4L58.4 373.8L58.4 364.1L58.4 354.5L58.4 344.8L58.4 335.2L58.4 325.5L58.4 315.9L58.4 306.3L58.4 296.6L58.4 287L58.4 284.3L59.8 287L64.6 296.6L67.6 306.3L69.6 315.9L71.4 325.5L74 335.2L77.7 342L80.2 344.8L97 353.6L100.2 354.5L116.3 357.1L135.6 359.3L155 362.1L165.3 364.1L174.3 365.5L193.6 368.7L212.9 372.5L218.2 373.8L232.2 376.1L251.5 378.1L270.8 381L285.7 383.4L290.1 384L309.4 385.6L328.8 387L348.1 388.7L367.4 391.1L376.8 393L386.7 395.7L406 402.2L408 402.7L425.3 409.4L438.3 412.3L444.6 414.6L463.9 419L470.6 422L483.2 430.3L484.6 431.6L495.2 441.3L502.6 446L508 450.9L521.9 459.4L523.5 460.5L539.6 470.2L541.2 471.1L554.4 479.8L560.5 484.8L567.5 489.5L577.7 499.1L579.8 502.1L586.9 508.8L593 518.4L598.5 528L599.1 528.8L606.1 537.7L610.3 547.3L610.7 557L607.1 566.6L599.1 575.6L598.4 576.3L581.2 585.9L579.8 586.5L560.5 593L551.4 595.5L541.2 598.8L522 605.2L521.9 605.3L506.9 614.8L502.6 619.2L497.8 624.5L493.9 634.1L494.5 643.8L499.8 653.4L502.6 656.4L509.5 663L521.3 672.7L521.9 673.4L527.2 682.3L524.7 692L521.9 694.9L509.4 701.6L502.6 703.9L483.2 707.3L463.9 708.3L444.6 707L425.3 705L406 703.5L386.7 703.1L367.4 704.4L348.1 707.4L331.5 711.3L328.8 711.9L309.4 717.5L298.2 720.9L290.1 723.6L271.1 730.5L270.8 730.7L254.5 740.2L251.5 743.6L245.8 749.8L244.3 759.5L251.5 768.6L252 769.1L270.8 775.4L290.1 777.8L306.9 778.8L309.4 778.9L328.8 779.1L348.1 779.1L367.4 779.4L386.7 779.6L406 779.6L425.3 779.7L444.6 779.6L463.9 779.4L483.2 779.4L502.6 779.4L521.9 779.4L541.2 779.6L560.5 779.8L579.8 780L599.1 780.4L618.4 780.4L637.7 780.3L657 780.4L676.4 780.2L695.7 779.8L715 779.5L734.3 779.5L753.6 779.9L772.9 781.1L792.2 782.4L811.5 783.2L830.9 783.7L850.2 783.6L869.5 783L888.8 782.8L908.1 782.5L927.4 782.4L946.7 782.9L966 782.3L985.3 780.4L1001.3 778.8L1004.7 778.3L1024 775L1037.5 769.1L1043.3 764.9L1049.2 759.5L1059.9 749.8L1062.6 744.5L1064.3 740.2L1062.6 736L1060.3 730.5L1043.3 721.2L1039.9 720.9L1024 720.2L1004.7 719.4L985.3 717.7L966 716.8L946.7 716.8L927.4 717.8L908.1 719L888.8 719.3L869.5 719L850.2 720L833.1 720.9L830.9 721.1L815.3 720.9L811.5 720.9L792.2 717.2L777.1 711.3L772.9 708.9L763.1 701.6L755.2 692L753.6 689L749.8 682.3L745.4 672.7L741.9 663L739.5 653.4L738.7 643.8L739.6 634.1L741 624.5L742.2 614.8L743.3 605.2L745.3 595.5L747.2 585.9L748.9 576.3L750.6 566.6L753.5 557L753.6 556.7L757.3 547.3L762.3 537.7L767.5 528L771.2 518.4L772.9 512L773.5 508.8L774.9 499.1L776.1 489.5L777.3 479.8L778.9 470.2L781 460.5L783.6 450.9L786.5 441.3L789.5 431.6L792.1 422L792.2 421.5L794.4 412.3L797.1 402.7L800.1 393L803.3 383.4L807.2 373.8L811.5 365.4L812.3 364.1L818.6 354.5L825.7 344.8L830.9 338.2L833.4 335.2L841.2 325.5L849 315.9L850.2 314.5L856.8 306.3L865.3 296.6L869.5 292.9L875.7 287L885.8 277.3L888.8 274.3L894.6 267.7L902.4 258L908.1 250.9L910.1 248.4L918.4 238.8L927.4 229.2L927.5 229.1L937.4 219.5L945.6 209.8L946.7 207.3L950.5 200.2L951.1 190.5L948.8 180.9L946.7 174.9L945.3 171.3L942.3 161.6L942.2 152L946.7 144.2L947.8 142.3L962.1 132.7L966 131.2L985.3 126.5L1004.7 124.2ZM1275 699.2L1266.5 701.6L1255.7 707.7L1251.7 711.3L1251.7 720.9L1255.7 724L1266.3 730.5L1275 733.1L1294.3 735.9L1313.6 736.5L1332.9 734.6L1348 730.5L1348.6 720.9L1335.3 711.3L1332.9 710.1L1313.6 702.1L1311.5 701.6L1294.3 698.3ZM58.4 209.8L58.4 203.8L65.8 209.8L72.2 219.5L71 229.1L64.8 238.8L58.4 246.2L58.4 238.8L58.4 229.1L58.4 219.5Z"/>
<path fill="#00b8ff" d="M1135.7 132.7L1139.8 132.3L1159.1 131.2L1178.5 130.9L1197.8 130.8L1217.1 130.8L1236.4 131.2L1255.7 131.8L1275 132.4L1278.7 132.7L1294.3 134L1313.6 136.5L1332.9 140.4L1338.1 142.3L1352.3 149.8L1355.6 152L1369.6 161.6L1371.6 163L1383.3 171.3L1390.9 177.3L1394.7 180.9L1401.2 190.5L1406.1 200.2L1409.7 209.8L1410.2 216.7L1410.4 219.5L1410.2 220.1L1406.4 229.1L1398.1 238.8L1390.9 246L1388.7 248.4L1384 258L1389.8 267.7L1390.9 268.7L1397.4 277.3L1399.3 287L1400.1 296.6L1403.3 306.3L1410.2 312.8L1412.2 315.9L1424.3 325.5L1429.5 329.3L1429.5 335.2L1429.5 344.8L1429.5 354.5L1429.5 364.1L1429.5 373.8L1429.5 383.4L1429.5 393L1429.5 402.7L1429.5 412.3L1429.5 422L1429.5 431.6L1429.5 441.3L1429.5 450.9L1429.5 460.5L1429.5 470.2L1429.5 479.8L1429.5 489.5L1429.5 499.1L1429.5 508.8L1429.5 518.4L1429.5 528L1429.5 537.7L1429.5 547.3L1429.5 557L1429.5 566.6L1429.5 576.3L1429.5 585.9L1429.5 595.5L1429.5 605.2L1429.5 614.8L1429.5 624.5L1429.5 634.1L1429.5 643.8L1429.5 653.4L1429.5 663L1429.5 672.7L1429.5 682.3L1429.5 692L1429.5 701.6L1429.5 711.3L1429.5 718.5L1410.2 712.8L1405.6 711.3L1390.9 707.5L1371.9 701.6L1371.6 701.5L1352.3 692.7L1350.6 692L1333.1 682.3L1332.9 682.2L1318.9 672.7L1313.6 668.4L1299.1 663L1294.3 661.3L1275 660.4L1259.2 663L1255.7 663.6L1236.4 669.5L1229.4 672.7L1217.1 678L1208.6 682.3L1197.8 687.8L1188.8 692L1178.5 696.5L1161.7 701.6L1159.1 702.4L1139.8 706.9L1120.5 709.2L1101.2 709L1081.9 707.2L1062.6 704.9L1043.3 703.3L1024 702.8L1004.7 702.9L985.3 702.8L966 702.5L946.7 702.6L927.4 702.8L908.1 702.2L900 701.6L888.8 700.6L869.5 698.6L850.2 695.9L830.9 692.2L830 692L812 682.3L815.6 672.7L830.9 664.1L833.6 663L850.2 658.5L869.5 655.4L877.8 653.4L888.8 648.7L903.3 643.8L889.1 634.1L888.8 634.1L869.5 631.6L850.2 631.5L830.9 630.4L811.5 626.9L804.3 624.5L792.2 619.6L786.7 614.8L779.9 605.2L777.3 595.5L777.1 585.9L778.1 576.3L780.6 566.6L784.8 557L790.5 547.3L792.2 544.6L796.7 537.7L801.8 528L804.2 518.4L804.6 508.8L804 499.1L803.5 489.5L804.8 479.8L806.7 470.2L808.4 460.5L810 450.9L811.5 441.5L811.6 441.3L813 431.6L814.3 422L816.2 412.3L819.5 402.7L823.6 393L828.7 383.4L830.9 380.1L835.2 373.8L843.3 364.1L850.2 357.1L852.8 354.5L863.4 344.8L869.5 339.5L874.6 335.2L884.9 325.5L888.8 321.3L894.2 315.9L901.5 306.3L907.7 296.6L908.1 296.1L913.9 287L920.3 277.3L926.7 267.7L927.4 266.7L934 258L943.3 248.4L946.7 245.4L956 238.8L966 232.8L974.3 229.1L985.3 224.2L996.3 219.5L1004.7 214.2L1013.9 209.8L1024 201.6L1026 200.2L1031.9 190.5L1034 180.9L1035.5 171.3L1040.7 161.6L1043.3 159.7L1053.4 152L1062.6 148.5L1079.6 142.3L1081.9 141.8L1101.2 137.5L1120.5 134.4ZM58.4 354.5L58.4 352.2L61.1 354.5L77.4 364.1L77.7 364.3L97 369.3L116.3 372.1L129.4 373.8L135.6 374.4L155 377.1L174.3 380.5L193.6 382.6L199.4 383.4L212.9 384.9L232.2 387.4L251.5 390.3L266.2 393L270.8 394.1L290.1 397.1L309.4 398.2L328.8 398.3L348.1 399.4L363.5 402.7L367.4 403.9L383.8 412.3L386.7 415.3L393.9 422L398.1 431.6L398.6 441.3L398.1 450.9L402.2 460.5L406 463.9L424.2 470.2L425.3 470.4L444.6 472.9L463.9 475.6L483.2 479.4L484.9 479.8L502.6 485L512.9 489.5L521.9 495.2L525.5 499.1L531.7 508.8L536 518.4L538.5 528L538.8 537.7L536.1 547.3L528 557L521.9 560.7L509.8 566.6L502.6 569.3L486.2 576.3L483.2 577.4L466.4 585.9L463.9 587.1L446 595.5L444.6 596.2L425.3 602.5L406.2 605.2L406 605.2L386.7 606.6L367.4 606L348.1 605.4L328.8 609.9L311.9 614.8L309.4 618.1L305.3 624.5L309.3 634.1L309.4 634.5L313.4 643.8L314.8 653.4L312.7 663L309.4 667.6L305 672.7L290.1 682.2L289.9 682.3L270.8 687.9L255.2 692L251.5 692.8L232.2 697.4L216.5 701.6L212.9 702.6L193.6 708.9L187 711.3L174.3 715.7L155 720.9L154.8 720.9L135.6 724.3L116.3 726.5L97 728.6L77.7 728.2L58.4 724.3L58.4 720.9L58.4 711.3L58.4 701.6L58.4 692L58.4 682.3L58.4 672.7L58.4 663L58.4 653.4L58.4 643.8L58.4 634.1L58.4 624.5L58.4 614.8L58.4 605.2L58.4 595.5L58.4 585.9L58.4 576.3L58.4 566.6L58.4 557L58.4 547.3L58.4 537.7L58.4 528L58.4 518.4L58.4 508.8L58.4 499.1L58.4 489.5L58.4 479.8L58.4 470.2L58.4 460.5L58.4 450.9L58.4 441.3L58.4 431.6L58.4 422L58.4 412.3L58.4 402.7L58.4 393L58.4 383.4L58.4 373.8L58.4 364.1ZM270.8 468.3L260.4 470.2L263.2 479.8L270.8 481.2L274.9 479.8L275.2 470.2ZM1168.5 759.5L1178.5 757.2L1197.8 755.3L1217.1 755.3L1236.4 756.8L1255.7 757.8L1275 758.5L1282.3 759.5L1294.3 761.5L1313.6 763.4L1332.9 764.6L1352.3 768L1357.9 769.1L1371.6 772.4L1390.9 778L1392.7 778.8L1407.5 788.4L1390.9 788.4L1371.6 788.4L1352.3 788.4L1332.9 788.4L1313.6 788.4L1294.3 788.4L1275 788.4L1255.7 788.4L1236.4 788.4L1217.1 788.4L1197.8 788.4L1178.5 788.4L1159.1 788.4L1139.8 788.4L1132.3 788.4L1137.6 778.8L1139.8 775.7L1147.1 769.1L1159.1 762Z"/>
<path fill="#09f0ee" d="M1186.9 152L1197.8 151.4L1217.1 150.5L1236.4 150.9L1255.7 151.3L1270.3 152L1275 152.3L1294.3 156.3L1312.1 161.6L1313.6 162.3L1328.8 171.3L1332.9 174.4L1339.7 180.9L1346.1 190.5L1348.2 200.2L1346 209.8L1340.6 219.5L1334 229.1L1332.9 230.6L1327.2 238.8L1321 248.4L1314.6 258L1313.6 259.3L1307 267.7L1296.6 277.3L1294.3 279.3L1283.5 287L1275 296.3L1274.6 296.6L1271.6 306.3L1275 308L1294.3 312.3L1313.6 314.4L1320 315.9L1332.9 317.9L1352.3 323.5L1358 325.5L1371.6 328.8L1389 335.2L1390.9 335.7L1410.2 341.1L1416.9 344.8L1429.5 351.2L1429.5 354.5L1429.5 364.1L1429.5 373.8L1429.5 383.4L1429.5 393L1429.5 402.7L1429.5 412.3L1429.5 422L1429.5 431.6L1429.5 441.3L1429.5 450.9L1429.5 460.5L1429.5 470.2L1429.5 479.8L1429.5 489.5L1429.5 499.1L1429.5 508.8L1429.5 518.4L1429.5 528L1429.5 537.7L1429.5 547.3L1429.5 557L1429.5 566.6L1429.5 576.3L1429.5 585.9L1429.5 595.5L1429.5 605.2L1429.5 614.8L1429.5 624.5L1429.5 628.1L1422.2 624.5L1410.2 619.9L1390.9 617L1372.8 614.8L1371.6 614.7L1352.3 612.3L1332.9 609.7L1313.6 606.3L1294.3 605.3L1275 608L1255.7 611.8L1244.1 614.8L1236.4 617.1L1217.1 624L1215.9 624.5L1199.1 634.1L1197.8 635.1L1187.7 643.8L1178.5 651.6L1176.4 653.4L1162.7 663L1159.1 665.1L1144.5 672.7L1139.8 674.6L1120.5 681.2L1115.9 682.3L1101.2 684.8L1081.9 685.2L1062.6 685.2L1043.3 685.6L1024 684.5L1004.7 684.5L985.3 685.3L966 683.4L946.7 682.3L946.7 682.3L940.9 672.7L946.7 671.3L966 663.2L966.4 663L985.3 655.7L991 653.4L1004.7 645.4L1007.8 643.8L1015.4 634.1L1009.4 624.5L1004.7 622.4L985.3 615.8L983.1 614.8L966 609.4L946.7 606.6L927.4 606.8L908.1 605.5L888.8 605.2L876.1 605.2L869.5 605.2L850.2 603.2L830.9 598.4L825.1 595.5L814.8 585.9L811.5 577.8L811.1 576.3L811.5 568.2L811.6 566.6L816.3 557L822.4 547.3L828.6 537.7L830.9 533.2L833.7 528L836.4 518.4L837 508.8L836.5 499.1L835.9 489.5L836.3 479.8L837.1 470.2L837.6 460.5L837.6 450.9L837.2 441.3L837 431.6L837.4 422L839.1 412.3L842.2 402.7L847.1 393L850.2 388.4L853.5 383.4L861.8 373.8L869.5 366.3L871.7 364.1L883 354.5L888.8 350.1L896.2 344.8L908.1 336.7L910.6 335.2L926 325.5L927.4 324.4L937 315.9L945 306.3L946.7 302.7L950 296.6L953.4 287L956.5 277.3L960.5 267.7L966 259.6L967.1 258L979.7 248.4L985.3 245.4L1001.8 238.8L1004.7 237.7L1024 231.9L1038.3 229.1L1043.3 228L1062.6 224.7L1081.9 223.2L1101.2 223.2L1120.5 220.7L1132 219.5L1139.8 216.4L1151.5 209.8L1139.8 200.3L1139.7 200.2L1120.5 191.5L1119 190.5L1107.9 180.9L1113.4 171.3L1120.5 167L1131.7 161.6L1139.8 159.3L1159.1 154.8L1178.5 152.7ZM58.4 373.8L58.4 365.4L75 373.8L77.7 375.1L97 380L116.3 382.9L120.5 383.4L135.6 384.9L155 387.7L174.3 390.7L193.4 393L193.6 393.1L212.9 395.4L232.2 398L251.5 402.3L253.2 402.7L270.8 409.1L286.7 412.3L290.1 413.4L309.4 413.3L316.9 412.3L328.8 411.4L348.1 411.7L349.8 412.3L361.7 422L365.4 431.6L363.7 441.3L357.8 450.9L348.1 458.4L328.8 460.1L309.4 455.9L290.7 450.9L290.1 450.7L270.8 446.3L251.5 448.2L243.9 450.9L232.2 455.7L225.4 460.5L218.4 470.2L220.2 479.8L232.2 489.4L232.3 489.5L251.5 495.4L270.8 497.5L290.1 496.5L309.4 495L328.8 495.5L348.1 497.2L367.4 496.1L386.7 495.4L406 496.6L423.4 499.1L425.3 499.4L444.6 505.5L451.6 508.8L461.6 518.4L463.9 527.5L464.1 528L463.9 532.4L463.8 537.7L459.6 547.3L450.7 557L444.6 561.6L437.9 566.6L425.3 573.7L418.9 576.3L406 580.5L386.7 584.1L367.9 585.9L367.4 585.9L348.1 587L328.8 588.1L309.4 589L290.1 589.6L270.8 590.2L251.5 590.5L232.2 590.8L212.9 592.8L201.3 595.5L193.6 601.7L190.7 605.2L188 614.8L187.6 624.5L188 634.1L185.9 643.8L176 653.4L174.3 654.4L155 663L155 663L144.5 672.7L138.2 682.3L135.6 684.4L127.3 692L116.3 696.9L100.1 701.6L97 702.3L77.7 703L67.7 701.6L58.4 700.1L58.4 692L58.4 682.3L58.4 672.7L58.4 663L58.4 657.1L74.1 653.4L58.4 647.2L58.4 643.8L58.4 634.1L58.4 624.5L58.4 614.8L58.4 605.2L58.4 595.5L58.4 585.9L58.4 576.3L58.4 566.6L58.4 557L58.4 547.3L58.4 537.7L58.4 528L58.4 518.4L58.4 508.8L58.4 499.1L58.4 489.5L58.4 479.8L58.4 470.2L58.4 460.5L58.4 450.9L58.4 441.3L58.4 431.6L58.4 422L58.4 412.3L58.4 402.7L58.4 393L58.4 383.4ZM97 646.7L83.3 653.4L97 655.8L116.3 654.1L117.9 653.4L116.3 652.6ZM1385 663L1390.9 660L1410.2 657.3L1429.5 658.1L1429.5 663L1429.5 672.7L1429.5 682.3L1429.5 692L1429.5 695L1410.2 692.2L1409.2 692L1390.9 687.4L1381.9 682.3L1377.5 672.7Z"/>
<path fill="#36ffc1" d="M1038.2 248.4L1043.3 247.2L1062.6 245.9L1081.9 245.8L1101.2 246.2L1119.1 248.4L1120.5 248.7L1139.8 253.1L1159.1 256.3L1163.2 258L1163.4 267.7L1159.2 277.3L1165.7 287L1178.5 291.8L1189.7 296.6L1197.8 298.5L1216.6 306.3L1217.1 306.4L1236.4 314.2L1240.3 315.9L1255.7 319L1275 324L1294.3 325.1L1297.6 325.5L1313.6 327L1332.9 331.4L1348.1 335.2L1352.3 336L1371.6 340.4L1385.8 344.8L1390.9 346.2L1410.2 352.1L1414.8 354.5L1429.5 361.5L1429.5 364.1L1429.5 373.8L1429.5 383.4L1429.5 393L1429.5 402.7L1429.5 412.3L1429.5 422L1429.5 431.6L1429.5 441.3L1429.5 450.9L1429.5 460.5L1429.5 470.2L1429.5 479.8L1429.5 489.5L1429.5 499.1L1429.5 508.8L1429.5 518.4L1429.5 528L1429.5 537.7L1429.5 547.3L1429.5 557L1429.5 566.6L1429.5 576.3L1429.5 580.3L1410.2 582L1390.9 580.5L1371.6 576.6L1370 576.3L1352.3 573.2L1332.9 570.6L1313.6 569.7L1294.3 570.2L1275 572.7L1262.5 576.3L1255.7 578.6L1236.4 584.7L1230.6 585.9L1217.1 589.3L1197.8 592L1178.5 593L1159.1 593.5L1139.8 594.4L1120.5 594.6L1101.2 593.8L1081.9 592.5L1062.6 590.4L1043.3 587.3L1035.2 585.9L1024 584.5L1004.7 581.5L985.3 578.3L966 579.3L946.7 579L927.4 576.7L908.1 579L888.8 580.1L869.5 578.1L864.7 576.3L853.9 566.6L853.9 557L858.3 547.3L864 537.7L869.4 528L869.5 527.6L871.8 518.4L872.9 508.8L873.2 499.1L873 489.5L872.2 479.8L871 470.2L869.5 462.4L869.1 460.5L866.5 450.9L863.2 441.3L860.9 431.6L860.1 422L861 412.3L863.8 402.7L868.8 393L869.5 392.2L875.6 383.4L884.8 373.8L888.8 370.2L896.3 364.1L908.1 356L910.6 354.5L926.2 344.8L927.4 344.1L943.3 335.2L946.7 333.1L959.9 325.5L966 321.8L978.8 315.9L985.3 311.8L996.2 306.3L1004.7 299.5L1013.9 296.6L1018.2 287L1010.5 277.3L1008 267.7L1015.4 258L1024 253.8ZM58.4 383.4L58.4 374.4L76.7 383.4L77.7 383.9L97 388.8L116.3 391.4L128.5 393L135.6 394.1L155 397.4L174.3 400.6L186.5 402.7L193.6 404.4L212.9 407.9L232.2 411L235.7 412.3L242.5 422L234.4 431.6L232.2 432.7L217.8 441.3L212.9 444L203.9 450.9L193.6 460.3L193.4 460.5L187.3 470.2L187.9 479.8L193.6 486L197.2 489.5L212.9 497.3L217.1 499.1L232.2 504.1L251.5 508.3L255.2 508.8L270.8 510.8L290.1 511.9L309.4 513.6L328.8 516.1L348.1 517.9L367.4 518.1L386.7 517.7L395.3 518.4L406 519.8L418.8 528L420.3 537.7L414.3 547.3L406 554.1L400.9 557L386.7 562.4L371.6 566.6L367.4 567.5L348.1 570.2L328.8 571.1L309.4 571.6L290.1 572L270.8 571.3L251.5 570.1L232.2 568.6L212.9 567.4L205.4 566.6L193.6 565.7L174.3 564.4L155 566L146.1 566.6L135.6 567.8L116.3 568.4L97 570.8L77.7 571.4L58.4 571.1L58.4 566.6L58.4 557L58.4 547.3L58.4 537.7L58.4 528L58.4 518.4L58.4 508.8L58.4 499.1L58.4 489.5L58.4 479.8L58.4 470.2L58.4 460.5L58.4 450.9L58.4 441.3L58.4 431.6L58.4 422L58.4 412.3L58.4 402.7L58.4 393Z"/>
<path fill="#63ff94" d="M1061 306.3L1062.6 305.6L1081.9 300.8L1101.2 299.9L1120.5 299.8L1139.8 302.3L1154.3 306.3L1159.1 307.1L1178.5 309.7L1197.8 314.7L1200.7 315.9L1217.1 320.4L1236.4 323.7L1245 325.5L1255.7 326.9L1275 329.8L1294.3 331.2L1313.6 334.6L1315.7 335.2L1332.9 339.3L1352.3 343.9L1355.9 344.8L1371.6 348.5L1390.9 354.1L1391.9 354.5L1410.2 360.1L1418.5 364.1L1429.5 369.2L1429.5 373.8L1429.5 383.4L1429.5 393L1429.5 402.7L1429.5 412.3L1429.5 422L1429.5 431.6L1429.5 441.3L1429.5 450.9L1429.5 460.5L1429.5 470.2L1429.5 479.8L1429.5 489.5L1429.5 499.1L1429.5 508.8L1429.5 518.4L1429.5 528L1429.5 537.7L1429.5 547.3L1429.5 552.3L1410.2 552.3L1390.9 552.7L1371.6 553.1L1352.3 552.6L1332.9 552.1L1313.6 552.6L1294.3 554.1L1275.1 557L1275 557L1255.7 562.2L1240.7 566.6L1236.4 568L1217.1 572.7L1197.8 575.2L1178.5 576.1L1165.3 576.3L1159.1 576.3L1139.8 577.4L1120.5 577.5L1101.2 576.3L1100.3 576.3L1081.9 575.3L1062.6 573L1043.3 570.3L1024 568.8L1004.7 568.2L985.3 567.7L966 566.7L965 566.6L946.7 565.3L927.4 564.4L908.1 558.3L905.2 557L900.1 547.3L901.8 537.7L905.2 528L907.8 518.4L908.1 516.3L909.3 508.8L909.2 499.1L908.4 489.5L908.1 486.7L907.3 479.8L905 470.2L900.6 460.5L894.1 450.9L888.8 443L887.8 441.3L883.3 431.6L881.1 422L881.2 412.3L883.6 402.7L888.3 393L888.8 392.5L895.4 383.4L905.8 373.8L908.1 372L920.4 364.1L927.4 359.9L937 354.5L946.7 348.9L954.2 344.8L966 338.3L971.4 335.2L985.3 327.9L990.4 325.5L1004.7 319.5L1017.4 315.9L1024 313.9L1043.3 310.4ZM58.4 383.4L58.4 381.7L61.8 383.4L77.7 392L81.6 393L97 397.2L116.3 399.9L132.7 402.7L135.6 403.3L155 408.3L169.6 412.3L174.3 414.9L186.9 422L188.7 431.6L183 441.3L174.6 450.9L174.3 451.3L166.8 460.5L161.5 470.2L161.3 479.8L166.8 489.5L174.3 496.3L178.7 499.1L193.6 505.8L201.4 508.8L212.9 513.3L231.7 518.4L232.2 518.6L251.5 525L268.2 528L270.8 529.4L290.1 534.4L297.1 537.7L290.1 544.6L280.5 547.3L270.8 548L251.5 548.7L232.2 549.4L212.9 549.8L193.6 550.5L174.3 551.3L155 551.8L135.6 552.6L116.3 553.4L97 554.2L77.7 554.6L58.4 554.4L58.4 547.3L58.4 537.7L58.4 528L58.4 518.4L58.4 508.8L58.4 499.1L58.4 489.5L58.4 479.8L58.4 470.2L58.4 460.5L58.4 450.9L58.4 441.3L58.4 431.6L58.4 422L58.4 412.3L58.4 402.7L58.4 393Z"/>
<path fill="#94ff63" d="M1060.4 315.9L1062.6 315.4L1081.9 311.6L1101.2 309.9L1120.5 310.3L1139.8 312.4L1159.1 315.9L1159.2 315.9L1178.5 318.4L1197.8 322.8L1206.9 325.5L1217.1 327.7L1236.4 329.9L1255.7 332.2L1275 334.8L1279.1 335.2L1294.3 336.7L1313.6 340.4L1329.8 344.8L1332.9 345.7L1352.3 350.4L1367.7 354.5L1371.6 355.5L1390.9 361L1400.5 364.1L1410.2 367L1424.8 373.8L1429.5 375.8L1429.5 383.4L1429.5 393L1429.5 402.7L1429.5 412.3L1429.5 422L1429.5 431.6L1429.5 441.3L1429.5 450.9L1429.5 460.5L1429.5 470.2L1429.5 479.8L1429.5 489.5L1429.5 499.1L1429.5 508.8L1429.5 518.4L1429.5 528L1429.5 536.7L1410.2 537L1402.9 537.7L1390.9 538.7L1371.6 538.3L1354.4 537.7L1352.3 537.6L1333.5 537.7L1332.9 537.7L1313.6 539.2L1294.3 541.7L1275 545.1L1265.3 547.3L1255.7 549.7L1236.4 555.2L1229.7 557L1217.1 560.3L1197.8 563.1L1178.5 564.6L1159.1 565.5L1139.8 566.1L1120.5 566.2L1101.2 565.5L1081.9 563.5L1062.6 560.3L1043.3 557L1042.5 557L1024 555.6L1004.7 555.6L985.3 556.6L966 549.8L959.1 547.3L953.6 537.7L956.3 528L959 518.4L957.9 508.8L954.7 499.1L951 489.5L947 479.8L946.7 479.4L941.9 470.2L935.1 460.5L927.4 453.2L925.1 450.9L912.5 441.3L908.1 436.5L904.6 431.6L901.2 422L900.6 412.3L902.4 402.7L906.7 393L908.1 391.2L914.5 383.4L926.8 373.8L927.4 373.4L944 364.1L946.7 362.6L961.8 354.5L966 352.2L978.6 344.8L985.3 341L995.3 335.2L1004.7 330.7L1018 325.5L1024 323.5L1043.3 319.1ZM58.4 393L58.4 388.8L66.3 393L77.7 400.2L86.7 402.7L97 405.8L116.3 409.2L129.2 412.3L135.6 414.7L150.2 422L155 429.3L156.5 431.6L155 440.9L154.9 441.3L149.4 450.9L142.9 460.5L138.4 470.2L137.7 479.8L141.7 489.5L149.7 499.1L155 504.2L161.2 508.8L174.3 516.1L179.2 518.4L186.2 528L174.3 533.5L155 536.1L138.4 537.7L135.6 537.8L116.3 539.4L97 540.2L77.7 540.7L58.4 539.8L58.4 537.7L58.4 528L58.4 518.4L58.4 508.8L58.4 499.1L58.4 489.5L58.4 479.8L58.4 470.2L58.4 460.5L58.4 450.9L58.4 441.3L58.4 431.6L58.4 422L58.4 412.3L58.4 402.7Z"/>
<path fill="#c1ff36" d="M1048.7 325.5L1062.6 322.9L1081.9 320.1L1101.2 318.3L1120.5 318.5L1139.8 319.9L1159.1 322.1L1178.5 325.1L1180.3 325.5L1197.8 329.1L1217.1 333L1234.9 335.2L1236.4 335.4L1255.7 337.1L1275 338.8L1294.3 341.4L1309.2 344.8L1313.6 346L1332.9 351.5L1344.3 354.5L1352.3 356.5L1371.6 361.7L1379.6 364.1L1390.9 367.3L1410.2 373.1L1411.5 373.8L1429.5 381.8L1429.5 383.4L1429.5 393L1429.5 402.7L1429.5 412.3L1429.5 422L1429.5 431.6L1429.5 441.3L1429.5 450.9L1429.5 460.5L1429.5 470.2L1429.5 479.8L1429.5 489.5L1429.5 499.1L1429.5 508.8L1429.5 518.4L1429.5 522.2L1410.2 523.3L1390.9 524.8L1371.6 524.8L1352.3 524L1332.9 524.6L1313.6 527.4L1310.1 528L1294.3 530.8L1275 534.4L1260.3 537.7L1255.7 538.8L1236.4 543.8L1221.6 547.3L1217.1 548.5L1197.8 552.1L1178.5 554.2L1159.1 555.6L1139.8 556.1L1120.5 556.3L1101.2 555.7L1081.9 552.6L1062.6 548.8L1054.9 547.3L1043.3 544.9L1024 540.1L1016.4 537.7L1005.6 528L1004.7 526.4L1000.8 518.4L995.9 508.8L991.4 499.1L987.9 489.5L985.3 481.9L984.4 479.8L978.2 470.2L970.3 460.5L966 456.9L958.8 450.9L946.7 443.7L942.8 441.3L927.4 431.7L927.3 431.6L922.5 422L921.1 412.3L921.9 402.7L925.5 393L927.4 390.8L935.1 383.4L946.7 375.8L950.1 373.8L966 365L967.4 364.1L984.5 354.5L985.3 354L998.8 344.8L1004.7 341.5L1016.8 335.2L1024 332.2L1043.3 326.5ZM58.4 402.7L58.4 396.3L68.6 402.7L77.7 409.3L87.6 412.3L97 416L116.3 420.7L119.6 422L129.1 431.6L129.2 441.3L124.1 450.9L117.7 460.5L116.3 463.4L112.8 470.2L110.9 479.8L113.3 489.5L116.3 493.2L121 499.1L125 508.8L116.3 516.3L110.9 518.4L97 522L77.7 523.9L58.4 523.6L58.4 518.4L58.4 508.8L58.4 499.1L58.4 489.5L58.4 479.8L58.4 470.2L58.4 460.5L58.4 450.9L58.4 441.3L58.4 431.6L58.4 422L58.4 412.3Z"/>
<path fill="#eeff09" d="M1039 335.2L1043.3 333.8L1062.6 330.3L1081.9 327.8L1101.2 326.5L1120.5 325.9L1139.8 326.5L1159.1 328L1178.5 330.8L1197.8 334.7L1200.2 335.2L1217.1 338.1L1236.4 340.2L1255.7 341.5L1275 342.8L1287.9 344.8L1294.3 346L1313.6 351.3L1324.2 354.5L1332.9 357.2L1352.3 362.3L1358.9 364.1L1371.6 368L1390.9 373.3L1392.4 373.8L1410.2 379L1420 383.4L1429.5 387.5L1429.5 393L1429.5 402.7L1429.5 412.3L1429.5 422L1429.5 431.6L1429.5 441.3L1429.5 450.9L1429.5 460.5L1429.5 470.2L1429.5 479.8L1429.5 489.5L1429.5 499.1L1429.5 505.1L1410.2 508.6L1409.1 508.8L1390.9 511L1371.6 510.6L1352.3 510L1332.9 511.5L1313.6 516L1304.7 518.4L1294.3 520.8L1275 524.8L1259.8 528L1255.7 529L1236.4 533.5L1217.2 537.7L1217.1 537.7L1197.8 541.9L1178.5 544.4L1159.1 545.4L1139.8 546.3L1120.5 546.2L1101.2 544.7L1081.9 540.9L1066.7 537.7L1062.6 536.7L1043.3 530.4L1038.5 528L1027.3 518.4L1024 514.2L1020.2 508.8L1014.8 499.1L1010.8 489.5L1008.3 479.8L1006.6 470.2L1004.7 460.5L1004.7 460.2L1000.7 450.9L989.2 441.3L985.3 439.4L969.6 431.6L966 430L952.9 422L946.7 415.1L945.3 412.3L944 402.7L946.7 395.7L947.8 393L958.7 383.4L966 378.9L973.8 373.8L985.3 366.4L988.1 364.1L1002.1 354.5L1004.7 352.8L1017.1 344.8L1024 341.3ZM58.4 412.3L58.4 405L68 412.3L77.7 421L80.2 422L94.3 431.6L97 438.9L97.9 441.3L97 443.6L94.3 450.9L88.3 460.5L83.4 470.2L80.1 479.8L77.7 488.4L77.2 489.5L67.9 499.1L58.4 502.4L58.4 499.1L58.4 489.5L58.4 479.8L58.4 470.2L58.4 460.5L58.4 450.9L58.4 441.3L58.4 431.6L58.4 422Z"/>
<path fill="#ffcc00" d="M1082.1 335.2L1101.2 333.7L1120.5 332.8L1139.8 332.8L1159.1 333.7L1169.2 335.2L1178.5 336.5L1197.8 340L1217.1 343L1234.3 344.8L1236.4 345.1L1255.7 346.1L1275 347.1L1294.3 350.9L1307 354.5L1313.6 356.7L1332.9 362.5L1338.8 364.1L1352.3 368.4L1370 373.8L1371.6 374.3L1390.9 379.5L1404.8 383.4L1410.2 385.1L1429.3 393L1429.5 393.1L1429.5 402.7L1429.5 412.3L1429.5 422L1429.5 431.6L1429.5 441.3L1429.5 450.9L1429.5 460.5L1429.5 470.2L1429.5 472.9L1418.5 479.8L1410.2 483.9L1392 489.5L1390.9 489.7L1371.6 489.9L1352.3 490.6L1332.9 496.1L1327.4 499.1L1313.6 503.5L1300.7 508.8L1294.3 510.7L1275 515.8L1262.8 518.4L1255.7 519.8L1236.4 523.8L1217.1 528L1217.1 528L1197.8 532.5L1178.5 535.5L1159.1 536.6L1139.8 537.3L1120.5 536.1L1101.2 532.8L1081.9 529.2L1077.5 528L1062.6 523L1054.1 518.4L1043.3 508.8L1043.2 508.8L1035.8 499.1L1031 489.5L1029.1 479.8L1030.5 470.2L1035.1 460.5L1043.3 451.6L1044.1 450.9L1054.9 441.3L1048.2 431.6L1043.3 429.8L1024 425.3L1011.3 422L1004.7 420.5L985.3 413.5L982.9 412.3L969.5 402.7L971.5 393L984.4 383.4L985.3 382.7L995 373.8L1004.7 365.7L1006.3 364.1L1019.3 354.5L1024 351.5L1037 344.8L1043.3 342.2L1062.6 337.8L1081.9 335.2ZM1120.5 418.6L1111.3 422L1107.7 431.6L1120.5 437.8L1139.8 433.9L1144.1 431.6L1142.9 422L1139.8 420.7ZM58.4 422L58.4 418.1L62.1 422L67.1 431.6L66.3 441.3L59.8 450.9L58.4 452.8L58.4 450.9L58.4 441.3L58.4 431.6Z"/>
<path fill="#ff9400" d="M1069.9 344.8L1081.9 343.1L1101.2 341.2L1120.5 340L1139.8 339.5L1159.1 340L1178.5 342.2L1195 344.8L1197.8 345.3L1217.1 348.4L1236.4 350.5L1255.7 351L1275 351.5L1289 354.5L1294.3 356.1L1313.6 362.4L1319.5 364.1L1332.9 368.4L1349.3 373.8L1352.3 375.2L1371.6 381.9L1378.4 383.4L1390.9 386.9L1410.2 391.9L1413 393L1429.5 401.1L1429.5 402.7L1429.5 412.3L1429.5 422L1429.5 431.6L1429.5 440.7L1428.4 441.3L1410.2 450.7L1408.7 450.9L1390.9 453.6L1371.6 451L1371.2 450.9L1352.3 445.9L1332.9 442.1L1313.6 449.7L1311.8 450.9L1311.1 460.5L1312.9 470.2L1312.7 479.8L1307.7 489.5L1294.3 498.8L1293.9 499.1L1275 506L1263.5 508.8L1255.7 510.4L1236.4 514L1217.1 518.4L1217.1 518.4L1197.8 523.2L1178.5 527.1L1170.6 528L1159.1 529.1L1139.8 528.9L1131.6 528L1120.5 526.7L1101.2 523L1084.1 518.4L1081.9 517.5L1066.6 508.8L1062.6 504.9L1057.4 499.1L1052.2 489.5L1051.4 479.8L1057.1 470.2L1062.6 465.2L1070.3 460.5L1081.9 454.9L1101.2 451.3L1113.4 450.9L1120.5 450.7L1139.8 448.1L1159.1 443.4L1167.8 441.3L1178.5 435.3L1188.5 431.6L1184.5 422L1178.5 420.2L1164 412.3L1159.1 410.9L1139.8 407.4L1120.5 407.1L1101.2 410.5L1088.4 412.3L1081.9 413.9L1062.6 412.8L1060.1 412.3L1043.3 409.2L1024 404.7L1015.9 402.7L1004.7 395.4L1002.9 393L1004.7 390.5L1007.6 383.4L1014 373.8L1023.8 364.1L1024 364L1038.8 354.5L1043.3 352.2L1062.6 346.2Z"/>
<path fill="#ff6000" d="M1070.9 354.5L1081.9 352.4L1101.2 349.9L1120.5 348L1139.8 346.7L1159.1 346.7L1178.5 348.3L1197.8 351.2L1217.1 354.1L1220.5 354.5L1236.4 356.6L1255.7 356.8L1275 357.1L1294.3 362.4L1299.7 364.1L1313.6 369.1L1330 373.8L1332.9 375.1L1349.6 383.4L1352.3 385.1L1371.6 393L1371.8 393L1390.9 399.6L1410.2 401.7L1412.2 402.7L1421 412.3L1422.2 422L1410.2 431.6L1409.5 431.6L1390.9 433L1383.3 431.6L1371.6 428.9L1352.3 425.1L1332.9 424.5L1313.6 426.9L1294.3 429.6L1275 430.7L1255.7 427.8L1244.2 422L1236.4 419L1222 412.3L1217.1 411.2L1197.8 409.6L1178.5 405.5L1168 402.7L1159.1 400.5L1139.8 397.4L1120.5 397L1101.2 398.3L1081.9 398.9L1062.6 396.3L1052.7 393L1043.3 389.6L1033.5 383.4L1033.4 373.8L1043.3 365.9L1046.5 364.1L1062.6 356.7ZM1129 460.5L1139.8 458.6L1159.1 454.8L1178.5 452.2L1197.8 451L1217.1 451.2L1236.4 451.7L1255.7 455.2L1270.3 460.5L1275 462.7L1283 470.2L1286 479.8L1281 489.5L1275 493.2L1257 499.1L1255.7 499.4L1236.4 502.9L1217.1 507.5L1213.5 508.8L1197.8 513.3L1178.5 518.3L1178.1 518.4L1159.1 520.8L1139.8 520L1127.7 518.4L1120.5 517.1L1101.2 512.1L1093.4 508.8L1081.9 500.2L1080.8 499.1L1076.5 489.5L1079.3 479.8L1081.9 477.4L1093.2 470.2L1101.2 467.2L1120.5 462.5Z"/>
<path fill="#ff2d00" d="M1147.4 354.5L1159.1 353.8L1175.4 354.5L1178.5 354.6L1197.8 358.1L1217.1 362L1233.9 364.1L1236.4 364.7L1255.7 364.3L1275 365.1L1294.3 370.8L1303.4 373.8L1313.6 378.4L1324.3 383.4L1332.8 393L1332.9 393.3L1339.9 402.7L1332.9 406.7L1313.6 412.3L1313.3 412.3L1294.3 414.6L1275 414.3L1266.2 412.3L1255.7 410.2L1236.4 404.6L1217.1 403L1215.4 402.7L1197.8 398.9L1178.5 395.2L1170.1 393L1159.1 390.1L1139.8 386.8L1120.5 385.7L1101.2 385.4L1081.9 383.4L1081.8 383.4L1068.2 373.8L1081.9 366.2L1086.6 364.1L1101.2 361.4L1120.5 358.3L1139.8 355.2ZM1139.8 470.2L1139.8 470.2L1159.1 466L1178.5 464.5L1197.8 465.2L1217.1 467.6L1227.9 470.2L1236.4 476.5L1240.5 479.8L1236.4 482.7L1228.1 489.5L1217.1 492.9L1203.6 499.1L1197.8 501.1L1178.5 507.5L1170.2 508.8L1159.1 510.2L1139.8 509L1138.5 508.8L1120.5 503.3L1111.6 499.1L1105.5 489.5L1114.9 479.8L1120.5 477.4Z"/>
<path fill="#df0000" d="M1156.8 364.1L1159.1 363.7L1178.5 363L1185 364.1L1197.8 368.9L1209.1 373.8L1204.8 383.4L1197.8 385.1L1178.5 384.2L1175.6 383.4L1159.1 377.9L1147 373.8ZM1251.5 383.4L1255.7 381.4L1275 378.7L1294.2 383.4L1294.3 383.6L1299.9 393L1294.3 396.8L1275 399.3L1255.7 393.7L1254.1 393ZM1156.5 489.5L1159.1 487.2L1169.6 489.5L1159.1 490.8Z"/>
</g>
<use href="#coast" transform="translate(0,0)"/>
</g>
<rect x="58.4" y="113.4" width="1371.1" height="675" fill="none" stroke="#000" stroke-width="3.33"/>
<rect x="58.4" y="831.7" width="76.8" height="67.9" fill="#00009f"/>
<rect x="134.6" y="831.7" width="76.8" height="67.9" fill="#0000df"/>
<rect x="210.7" y="831.7" width="76.8" height="67.9" fill="#000cff"/>
<rect x="286.9" y="831.7" width="76.8" height="67.9" fill="#0044ff"/>
<rect x="363.1" y="831.7" width="76.8" height="67.9" fill="#0080ff"/>
<rect x="439.3" y="831.7" width="76.8" height="67.9" fill="#00b8ff"/>
<rect x="515.4" y="831.7" width="76.8" height="67.9" fill="#09f0ee"/>
<rect x="591.6" y="831.7" width="76.8" height="67.9" fill="#36ffc1"/>
<rect x="667.8" y="831.7" width="76.8" height="67.9" fill="#63ff94"/>
<rect x="743.9" y="831.7" width="76.8" height="67.9" fill="#94ff63"/>
<rect x="820.1" y="831.7" width="76.8" height="67.9" fill="#c1ff36"/>
<rect x="896.3" y="831.7" width="76.8" height="67.9" fill="#eeff09"/>
<rect x="972.5" y="831.7" width="76.8" height="67.9" fill="#ffcc00"/>
<rect x="1048.6" y="831.7" width="76.8" height="67.9" fill="#ff9400"/>
<rect x="1124.8" y="831.7" width="76.8" height="67.9" fill="#ff6000"/>
<rect x="1201" y="831.7" width="76.8" height="67.9" fill="#ff2d00"/>
<rect x="1277.2" y="831.7" width="76.8" height="67.9" fill="#df0000"/>
<rect x="1353.3" y="831.7" width="76.2" height="67.9" fill="#9f0000"/>
<rect x="58.4" y="831.7" width="1371.1" height="67.9" fill="none" stroke="#000" stroke-width="3.33"/>
<g fill="#000" font-family="'Liberation Sans', sans-serif" font-size="41.7" text-anchor="middle">
<rect x="56.7" y="899.6" width="3.33" height="14.6"/>
<text x="58.4" y="961.3">0</text>
<rect x="209.1" y="899.6" width="3.33" height="14.6"/>
<text x="210.7" y="961.3">10</text>
<rect x="361.4" y="899.6" width="3.33" height="14.6"/>
<text x="363.1" y="961.3">20</text>
<rect x="513.8" y="899.6" width="3.33" height="14.6"/>
<text x="515.4" y="961.3">30</text>
<rect x="666.1" y="899.6" width="3.33" height="14.6"/>
<text x="667.8" y="961.3">40</text>
<rect x="818.5" y="899.6" width="3.33" height="14.6"/>
<text x="820.1" y="961.3">50</text>
<rect x="970.8" y="899.6" width="3.33" height="14.6"/>
<text x="972.5" y="961.3">60</text>
<rect x="1123.1" y="899.6" width="3.33" height="14.6"/>
<text x="1124.8" y="961.3">70</text>
<rect x="1275.5" y="899.6" width="3.33" height="14.6"/>
<text x="1277.2" y="961.3">80</text>
<rect x="1427.8" y="899.6" width="3.33" height="14.6"/>
<text x="1429.5" y="961.3">90</text>
<text x="745.4" y="88.1" font-size="50">Combined (GIM), 2026-02-02 06:00 UT</text>
</g>
<g clip-path="url(#c1)">
<g shape-rendering="crispEdges">
<rect x="58.4" y="1098.5" width="1371.1" height="675" fill="#00009f"/>
<path fill="#0000df" d="M58.4 1098.5L77.7 1098.5L97 1098.5L116.3 1098.5L135.6 1098.5L155 1098.5L174.3 1098.5L193.6 1098.5L212.9 1098.5L232.2 1098.5L251.5 1098.5L270.8 1098.5L290.1 1098.5L309.4 1098.5L328.8 1098.5L348.1 1098.5L367.4 1098.5L386.7 1098.5L406 1098.5L425.3 1098.5L444.6 1098.5L463.9 1098.5L483.2 1098.5L502.6 1098.5L521.9 1098.5L541.2 1098.5L560.5 1098.5L579.8 1098.5L599.1 1098.5L618.4 1098.5L637.7 1098.5L657 1098.5L676.4 1098.5L695.7 1098.5L715 1098.5L734.3 1098.5L753.6 1098.5L772.9 1098.5L792.2 1098.5L811.5 1098.5L830.9 1098.5L850.2 1098.5L869.5 1098.5L888.8 1098.5L908.1 1098.5L927.4 1098.5L946.7 1098.5L966 1098.5L985.3 1098.5L1004.7 1098.5L1024 1098.5L1043.3 1098.5L1062.6 1098.5L1081.9 1098.5L1101.2 1098.5L1120.5 1098.5L1139.8 1098.5L1159.1 1098.5L1178.5 1098.5L1197.8 1098.5L1217.1 1098.5L1236.4 1098.5L1255.7 1098.5L1275 1098.5L1294.3 1098.5L1313.6 1098.5L1332.9 1098.5L1352.3 1098.5L1371.6 1098.5L1390.9 1098.5L1410.2 1098.5L1429.5 1098.5L1429.5 1108.1L1429.5 1117.7L1429.5 1127.4L1429.5 1137L1429.5 1146.7L1429.5 1156.3L1429.5 1166L1429.5 1175.6L1429.5 1185.2L1429.5 1194.9L1429.5 1204.5L1429.5 1214.2L1429.5 1223.8L1429.5 1233.5L1429.5 1243.1L1429.5 1252.7L1429.5 1262.4L1429.5 1272L1429.5 1281.7L1429.5 1291.3L1429.5 1301L1429.5 1310.6L1429.5 1320.2L1429.5 1329.9L1429.5 1339.5L1429.5 1349.2L1429.5 1358.8L1429.5 1368.5L1429.5 1378.1L1429.5 1387.7L1429.5 1397.4L1429.5 1407L1429.5 1416.7L1429.5 1426.3L1429.5 1436L1429.5 1445.6L1429.5 1455.2L1429.5 1464.9L1429.5 1474.5L1429.5 1484.2L1429.5 1493.8L1429.5 1503.5L1429.5 1513.1L1429.5 1522.7L1429.5 1532.4L1429.5 1542L1429.5 1551.7L1429.5 1561.3L1429.5 1571L1429.5 1580.6L1429.5 1590.2L1429.5 1599.9L1429.5 1609.5L1429.5 1619.2L1429.5 1628.8L1429.5 1638.5L1429.5 1648.1L1429.5 1657.7L1429.5 1667.4L1429.5 1677L1429.5 1686.7L1429.5 1696.3L1429.5 1706L1429.5 1715.6L1429.5 1725.2L1429.5 1734.9L1429.5 1744.5L1429.5 1754.2L1429.5 1763.8L1429.5 1773.5L1410.2 1773.5L1390.9 1773.5L1371.6 1773.5L1352.3 1773.5L1332.9 1773.5L1313.6 1773.5L1294.3 1773.5L1275 1773.5L1255.7 1773.5L1236.4 1773.5L1217.1 1773.5L1197.8 1773.5L1178.5 1773.5L1159.1 1773.5L1139.8 1773.5L1120.5 1773.5L1101.2 1773.5L1081.9 1773.5L1062.6 1773.5L1043.3 1773.5L1024 1773.5L1004.7 1773.5L985.3 1773.5L966 1773.5L946.7 1773.5L927.4 1773.5L908.1 1773.5L888.8 1773.5L869.5 1773.5L850.2 1773.5L830.9 1773.5L811.5 1773.5L792.2 1773.5L772.9 1773.5L753.6 1773.5L734.3 1773.5L715 1773.5L695.7 1773.5L676.4 1773.5L657 1773.5L637.7 1773.5L618.4 1773.5L599.1 1773.5L579.8 1773.5L560.5 1773.5L541.2 1773.5L521.9 1773.5L502.6 1773.5L483.2 1773.5L463.9 1773.5L444.6 1773.5L425.3 1773.5L406 1773.5L386.7 1773.5L367.4 1773.5L348.1 1773.5L328.8 1773.5L309.4 1773.5L290.1 1773.5L270.8 1773.5L251.5 1773.5L232.2 1773.5L212.9 1773.5L193.6 1773.5L174.3 1773.5L155 1773.5L135.6 1773.5L116.3 1773.5L97 1773.5L77.7 1773.5L58.4 1773.5L58.4 1763.8L58.4 1754.2L58.4 1744.5L58.4 1734.9L58.4 1725.2L58.4 1715.6L58.4 1706L58.4 1696.3L58.4 1686.7L58.4 1677L58.4 1667.4L58.4 1657.7L58.4 1648.1L58.4 1638.5L58.4 1628.8L58.4 1619.2L58.4 1609.5L58.4 1599.9L58.4 1590.2L58.4 1580.6L58.4 1571L58.4 1561.3L58.4 1551.7L58.4 1542L58.4 1532.4L58.4 1522.7L58.4 1513.1L58.4 1503.5L58.4 1493.8L58.4 1484.2L58.4 1474.5L58.4 1464.9L58.4 1455.2L58.4 1445.6L58.4 1436L58.4 1426.3L58.4 1416.7L58.4 1407L58.4 1397.4L58.4 1387.7L58.4 1378.1L58.4 1368.5L58.4 1358.8L58.4 1349.2L58.4 1339.5L58.4 1329.9L58.4 1320.2L58.4 1310.6L58.4 1301L58.4 1291.3L58.4 1281.7L58.4 1272L58.4 1262.4L58.4 1252.7L58.4 1243.1L58.4 1233.5L58.4 1223.8L58.4 1214.2L58.4 1204.5L58.4 1194.9L58.4 1185.2L58.4 1175.6L58.4 1166L58.4 1156.3L58.4 1146.7L58.4 1137L58.4 1127.4L58.4 1117.7L58.4 1108.1ZM251.5 1180.4L236.5 1185.2L232.2 1191L231.2 1194.9L232.2 1203.1L232.5 1204.5L240.9 1214.2L249.9 1223.8L251.5 1226L256.7 1233.5L257.6 1243.1L251.5 1251.4L250.4 1252.7L234.3 1262.4L232.2 1263.4L218.4 1272L212.9 1277.6L209.5 1281.7L205.6 1291.3L203.8 1301L200.7 1310.6L193.6 1318.3L191.9 1320.2L176 1329.9L174.3 1331.3L167 1339.5L174.3 1348.7L174.8 1349.2L193.6 1353.1L212.9 1356.2L228 1358.8L232.2 1359.2L250.2 1358.8L251.5 1358.8L253.6 1358.8L270.8 1359.1L290.1 1360.3L309.4 1359.7L328.8 1359.6L348.1 1360.4L367.4 1359.7L386.7 1359.3L406 1360L425.3 1360.8L444.6 1361.8L463.9 1362.4L483.2 1360.5L493.4 1358.8L502.6 1356.3L521.9 1349.4L522.3 1349.2L539.5 1339.5L541.2 1338.5L560.5 1331.7L579.8 1330.7L599.1 1333.4L607.4 1339.5L613.3 1349.2L613.7 1358.8L609.6 1368.5L599.2 1378.1L599.1 1378.2L580.8 1387.7L579.8 1388.3L568.5 1397.4L562.9 1407L560.5 1415.2L560.2 1416.7L560.5 1422L560.9 1426.3L568.1 1436L579.8 1442.9L599.1 1443.3L618.4 1436.4L620.1 1436L637.7 1432.7L643.3 1436L650.4 1445.6L655.7 1455.2L657 1457.7L660 1464.9L663.5 1474.5L666 1484.2L668 1493.8L670 1503.4L671.5 1513.1L672.1 1522.7L672.1 1532.4L671.8 1542L672.3 1551.7L676.4 1559.5L695.7 1552.4L696.3 1551.7L703.7 1542L709.7 1532.4L715 1523.3L715.1 1522.7L717.1 1513.1L719.6 1503.4L723 1493.8L727.9 1484.2L733.8 1474.5L734.3 1473.7L736.6 1464.9L739.1 1455.2L742 1445.6L745.4 1436L748.9 1426.3L753.4 1416.7L753.6 1416.3L756.6 1407L759.4 1397.4L760.7 1387.7L762 1378.1L763.9 1368.5L765.9 1358.8L767 1349.2L768.2 1339.5L769.9 1329.9L772.1 1320.2L772.9 1316L773.6 1310.6L775 1301L777.4 1291.3L781.3 1281.7L787.2 1272L792.2 1265.6L793.9 1262.4L799.4 1252.7L805 1243.1L808.1 1233.5L808.2 1223.8L802.9 1214.2L792.2 1208L775.6 1204.5L772.9 1204.2L753.6 1203.4L739.6 1204.5L734.3 1205.1L715 1206.7L695.7 1207.2L676.4 1209.1L657 1210.1L637.7 1210.3L618.4 1211.3L599.1 1212.5L579.8 1213.4L560.5 1214L550.9 1214.2L541.2 1214.4L521.9 1215L502.6 1216.2L483.2 1217.5L463.9 1218.4L444.6 1218.4L425.3 1217.5L406 1215.5L399.7 1214.2L386.7 1211.1L367.4 1204.8L366.7 1204.5L348.1 1198L338.1 1194.9L328.8 1192.3L309.4 1187.7L295.6 1185.2L290.1 1184.4L270.8 1181.9ZM521.9 1127.7L515.8 1137L521.9 1140.2L541.2 1139.8L545.9 1137L541.2 1129.2ZM643.2 1272L657 1271.2L676.4 1270.6L686.7 1272L695.7 1274L703.7 1281.7L700.8 1291.3L695.7 1296.2L686.1 1301L676.4 1304.9L657 1307.5L637.7 1307.6L618.4 1307.8L599.1 1305.6L582.4 1301L579.8 1300.1L568.3 1291.3L571.3 1281.7L579.8 1278.2L599.1 1276.8L618.4 1275.2L637.7 1272.4Z"/>
<path fill="#000cff" d="M58.4 1098.5L77.7 1098.5L97 1098.5L116.3 1098.5L135.6 1098.5L155 1098.5L174.3 1098.5L193.6 1098.5L212.9 1098.5L232.2 1098.5L251.5 1098.5L270.8 1098.5L290.1 1098.5L309.4 1098.5L328.8 1098.5L348.1 1098.5L367.4 1098.5L386.7 1098.5L406 1098.5L422.6 1098.5L406 1102.3L386.8 1108.1L386.7 1108.1L367.4 1114.6L356.2 1117.7L348.1 1120.1L328.8 1126.1L324.5 1127.4L309.4 1131.5L290.1 1133.9L270.8 1133.1L251.5 1132.2L232.2 1132.2L212.9 1131.5L193.6 1131.9L174.3 1133.9L155 1136.1L147.1 1137L135.6 1138.2L116.3 1138.7L99.5 1137L97 1136.7L95.9 1137L81.8 1146.7L81.1 1156.3L90.2 1166L97 1169.1L116.3 1174.8L119.8 1175.6L135.6 1178.8L150.2 1185.2L155 1188.3L162.2 1194.9L167.8 1204.5L167.2 1214.2L161.7 1223.8L155 1231L152.6 1233.4L142.4 1243.1L135.6 1249L129.7 1252.7L116.3 1259.9L110.2 1262.4L97 1267.8L91 1272L84.6 1281.7L79.7 1291.3L77.7 1294.5L75.3 1301L72.2 1310.6L72.8 1320.2L77.7 1328.8L78.7 1329.9L96.3 1339.5L97 1339.8L116.3 1345.9L123.6 1349.2L135.6 1353.1L149.1 1358.8L155 1360.6L174.3 1366.4L189.7 1368.5L193.6 1368.9L212.9 1369.8L232.2 1370.7L251.5 1371.4L270.8 1372.8L290.1 1374.3L309.4 1374.8L328.8 1375.1L348.1 1375.9L367.4 1377.9L368.8 1378.1L386.7 1381.6L406 1386.7L410.9 1387.7L425.3 1391.6L444.6 1394.1L463.9 1396L468.4 1397.4L483.2 1406.3L484.1 1407L490.1 1416.7L494.5 1426.3L499.5 1435.9L502.6 1440L506.6 1445.6L516.3 1455.2L521.9 1459.7L528.6 1464.9L541.2 1474.5L541.2 1474.5L552.5 1484.2L560.2 1493.8L560.5 1494.4L565.9 1503.5L570.4 1513.1L577 1522.7L579.8 1526.3L586.7 1532.4L595.3 1542L599.1 1548.5L601.3 1551.7L603.7 1561.3L603.8 1571L603.6 1580.6L604.6 1590.2L608.2 1599.9L616.1 1609.5L618.4 1611.6L635.8 1619.2L637.7 1620L657 1626.9L676.4 1624.7L682.8 1619.2L695.7 1612.8L698.9 1609.5L709.3 1599.9L715 1594.2L717.8 1590.2L724.9 1580.6L734.1 1571L734.3 1570.7L742.8 1561.3L751.2 1551.7L753.6 1546.5L754.9 1542L757 1532.4L759.3 1522.7L761.7 1513.1L763.9 1503.5L766.2 1493.8L768.8 1484.2L771.4 1474.5L772.9 1467.4L773.4 1464.9L775.1 1455.2L776.9 1445.6L778.6 1436L780.4 1426.3L782.1 1416.7L783.6 1407L785 1397.4L786.2 1387.7L787.6 1378.1L789.5 1368.5L791.7 1358.8L792.2 1357L794.2 1349.2L797.2 1339.5L801.1 1329.9L805.8 1320.2L810.4 1310.6L811.5 1308.4L814.8 1301L819.6 1291.3L824.7 1281.7L830.1 1272L830.9 1270.6L835.1 1262.4L839.8 1252.7L844.3 1243.1L849.1 1233.5L850.2 1231.1L853.7 1223.8L857.7 1214.2L859.6 1204.5L856.3 1194.9L850.2 1187.8L846.8 1185.2L830.9 1176.4L827.8 1175.6L811.5 1170.9L792.2 1169.2L772.9 1171.5L753.6 1175.3L750 1175.6L734.3 1176.6L715 1177.9L695.7 1178.7L676.4 1177.1L665.7 1175.6L657 1172.4L638.5 1166L652.1 1156.3L657 1154.7L676.4 1148.2L682.5 1146.7L695.7 1144.1L715 1141.1L734.3 1138.6L751.7 1137L753.6 1136.8L771.9 1127.4L770.7 1117.7L753.6 1108.6L752 1108.1L734.3 1103.4L715 1100.1L697.2 1098.5L715 1098.5L734.3 1098.5L753.6 1098.5L772.9 1098.5L792.2 1098.5L811.5 1098.5L830.9 1098.5L850.2 1098.5L869.5 1098.5L888.8 1098.5L908.1 1098.5L927.4 1098.5L946.7 1098.5L966 1098.5L985.3 1098.5L1004.7 1098.5L1024 1098.5L1043.3 1098.5L1062.6 1098.5L1081.9 1098.5L1101.2 1098.5L1120.5 1098.5L1139.8 1098.5L1159.1 1098.5L1178.5 1098.5L1197.8 1098.5L1217.1 1098.5L1236.4 1098.5L1255.7 1098.5L1275 1098.5L1294.3 1098.5L1313.6 1098.5L1332.9 1098.5L1352.3 1098.5L1371.6 1098.5L1390.9 1098.5L1410.2 1098.5L1429.5 1098.5L1429.5 1108.1L1429.5 1117.7L1429.5 1127.4L1429.5 1137L1429.5 1146.7L1429.5 1156.3L1429.5 1166L1429.5 1175.6L1429.5 1185.2L1429.5 1194.9L1429.5 1204.5L1429.5 1214.2L1429.5 1223.8L1429.5 1233.5L1429.5 1243.1L1429.5 1252.7L1429.5 1262.4L1429.5 1272L1429.5 1281.7L1429.5 1291.3L1429.5 1301L1429.5 1310.6L1429.5 1320.2L1429.5 1329.9L1429.5 1339.5L1429.5 1349.2L1429.5 1358.8L1429.5 1368.5L1429.5 1378.1L1429.5 1387.7L1429.5 1397.4L1429.5 1407L1429.5 1416.7L1429.5 1426.3L1429.5 1436L1429.5 1445.6L1429.5 1455.2L1429.5 1464.9L1429.5 1474.5L1429.5 1484.2L1429.5 1493.8L1429.5 1503.5L1429.5 1513.1L1429.5 1522.7L1429.5 1532.4L1429.5 1542L1429.5 1551.7L1429.5 1561.3L1429.5 1571L1429.5 1580.6L1429.5 1590.2L1429.5 1599.9L1429.5 1609.5L1429.5 1619.2L1429.5 1628.8L1429.5 1638.5L1429.5 1648.1L1429.5 1657.7L1429.5 1667.4L1429.5 1677L1429.5 1686.7L1429.5 1696.3L1429.5 1706L1429.5 1715.6L1429.5 1725.2L1429.5 1734.9L1429.5 1744.5L1429.5 1754.2L1429.5 1763.8L1429.5 1773.5L1410.2 1773.5L1390.9 1773.5L1371.6 1773.5L1352.3 1773.5L1332.9 1773.5L1313.6 1773.5L1294.3 1773.5L1275 1773.5L1255.7 1773.5L1236.4 1773.5L1217.1 1773.5L1197.8 1773.5L1178.5 1773.5L1159.1 1773.5L1139.8 1773.5L1120.5 1773.5L1101.2 1773.5L1081.9 1773.5L1062.6 1773.5L1043.3 1773.5L1024 1773.5L1004.7 1773.5L985.3 1773.5L966 1773.5L946.7 1773.5L927.4 1773.5L908.1 1773.5L888.8 1773.5L869.5 1773.5L850.2 1773.5L830.9 1773.5L811.5 1773.5L792.2 1773.5L772.9 1773.5L753.6 1773.5L734.3 1773.5L715 1773.5L695.7 1773.5L676.4 1773.5L657 1773.5L637.7 1773.5L618.4 1773.5L599.1 1773.5L579.8 1773.5L560.5 1773.5L541.2 1773.5L521.9 1773.5L502.6 1773.5L483.2 1773.5L463.9 1773.5L444.6 1773.5L425.3 1773.5L406 1773.5L386.7 1773.5L367.4 1773.5L348.1 1773.5L328.8 1773.5L309.4 1773.5L290.1 1773.5L270.8 1773.5L251.5 1773.5L232.2 1773.5L212.9 1773.5L193.6 1773.5L174.3 1773.5L155 1773.5L135.6 1773.5L116.3 1773.5L97 1773.5L77.7 1773.5L58.4 1773.5L58.4 1763.8L58.4 1754.2L58.4 1744.5L58.4 1734.9L58.4 1725.2L58.4 1715.6L58.4 1706L58.4 1696.3L58.4 1686.7L58.4 1677L58.4 1667.4L58.4 1657.7L58.4 1648.1L58.4 1638.5L58.4 1628.8L58.4 1619.2L58.4 1609.5L58.4 1599.9L58.4 1590.2L58.4 1580.6L58.4 1571L58.4 1561.3L58.4 1551.7L58.4 1542L58.4 1532.4L58.4 1522.7L58.4 1513.1L58.4 1503.5L58.4 1493.8L58.4 1484.2L58.4 1474.5L58.4 1464.9L58.4 1455.2L58.4 1445.6L58.4 1436L58.4 1426.3L58.4 1416.7L58.4 1407L58.4 1397.4L58.4 1387.7L58.4 1378.1L58.4 1368.5L58.4 1358.8L58.4 1349.2L58.4 1339.5L58.4 1329.9L58.4 1320.2L58.4 1310.6L58.4 1301L58.4 1291.3L58.4 1281.7L58.4 1272L58.4 1262.4L58.4 1252.7L58.4 1243.1L58.4 1233.5L58.4 1223.8L58.4 1214.2L58.4 1204.5L58.4 1194.9L58.4 1185.2L58.4 1175.6L58.4 1166L58.4 1156.3L58.4 1146.7L58.4 1137L58.4 1127.4L58.4 1117.7L58.4 1108.1ZM637.7 1645.9L633.5 1648.1L618.4 1655.3L615.6 1657.7L604 1667.4L599.1 1670.9L591.6 1677L579.8 1684.3L576 1686.7L560.5 1696.1L560.1 1696.3L546.9 1706L541.2 1714.1L539.6 1715.6L541.2 1717.8L549.1 1725.2L560.5 1727.6L579.8 1730.2L599.1 1731.4L618.4 1731.9L637.7 1731.9L657 1731.4L676.4 1730.1L695.7 1727.5L704.9 1725.2L715 1721.1L722.7 1715.6L726.7 1706L725.9 1696.3L722.5 1686.7L717.6 1677L715 1673L710.2 1667.4L699.7 1657.7L695.7 1654L683.4 1648.1L676.4 1642.7L657 1640.1ZM946.7 1715.2L944.6 1715.6L927.4 1724.1L925.4 1725.2L927.4 1726.9L946.7 1734.3L966 1729.7L973.4 1725.2L966 1718L953.7 1715.6Z"/>
<path fill="#0044ff" d="M906.9 1108.1L908.1 1107.3L927.4 1098.5L927.4 1098.5L946.7 1098.5L966 1098.5L985.3 1098.5L1004.7 1098.5L1024 1098.5L1043.3 1098.5L1062.6 1098.5L1081.9 1098.5L1101.2 1098.5L1120.5 1098.5L1139.8 1098.5L1159.1 1098.5L1178.5 1098.5L1197.8 1098.5L1217.1 1098.5L1236.4 1098.5L1255.7 1098.5L1275 1098.5L1294.3 1098.5L1313.6 1098.5L1332.9 1098.5L1352.3 1098.5L1371.6 1098.5L1390.9 1098.5L1410.2 1098.5L1429.1 1098.5L1429.5 1099.1L1429.5 1108.1L1429.5 1117.7L1429.5 1127.4L1429.5 1137L1429.5 1146.7L1429.5 1156.3L1429.5 1166L1429.5 1175.6L1429.5 1185.2L1429.5 1194.9L1429.5 1204.5L1429.5 1214.2L1429.5 1223.8L1429.5 1233.5L1429.5 1243.1L1429.5 1252.7L1429.5 1262.4L1429.5 1272L1429.5 1281.7L1429.5 1291.3L1429.5 1301L1429.5 1305.1L1427.9 1310.6L1429.5 1313.7L1429.5 1320.2L1429.5 1329.9L1429.5 1339.5L1429.5 1349.2L1429.5 1358.8L1429.5 1368.5L1429.5 1378.1L1429.5 1387.7L1429.5 1397.4L1429.5 1407L1429.5 1416.7L1429.5 1426.3L1429.5 1436L1429.5 1445.6L1429.5 1455.2L1429.5 1464.9L1429.5 1474.5L1429.5 1484.2L1429.5 1493.8L1429.5 1503.5L1429.5 1513.1L1429.5 1522.7L1429.5 1532.4L1429.5 1542L1429.5 1551.7L1429.5 1561.3L1429.5 1571L1429.5 1580.6L1429.5 1590.2L1429.5 1599.9L1429.5 1609.5L1429.5 1619.2L1429.5 1628.8L1429.5 1638.5L1429.5 1648.1L1429.5 1657.7L1429.5 1667.4L1429.5 1677L1429.5 1686.7L1429.5 1696.3L1429.5 1706L1429.5 1715.6L1429.5 1725.2L1429.5 1734.9L1429.5 1744.5L1429.5 1754.2L1429.5 1763.8L1429.5 1773.5L1410.2 1773.5L1390.9 1773.5L1371.6 1773.5L1352.3 1773.5L1332.9 1773.5L1313.6 1773.5L1294.3 1773.5L1275 1773.5L1255.7 1773.5L1236.4 1773.5L1217.1 1773.5L1197.8 1773.5L1178.5 1773.5L1159.1 1773.5L1139.8 1773.5L1120.5 1773.5L1101.2 1773.5L1081.9 1773.5L1062.6 1773.5L1043.3 1773.5L1024 1773.5L1004.7 1773.5L985.3 1773.5L966 1773.5L946.7 1773.5L927.4 1773.5L908.1 1773.5L888.8 1773.5L869.5 1773.5L850.2 1773.5L830.9 1773.5L811.5 1773.5L792.2 1773.5L772.9 1773.5L753.6 1773.5L734.3 1773.5L715 1773.5L695.7 1773.5L676.4 1773.5L657 1773.5L637.7 1773.5L618.4 1773.5L599.1 1773.5L579.8 1773.5L560.5 1773.5L541.2 1773.5L521.9 1773.5L502.6 1773.5L483.2 1773.5L463.9 1773.5L444.6 1773.5L425.3 1773.5L406 1773.5L386.7 1773.5L367.4 1773.5L348.1 1773.5L328.8 1773.5L309.4 1773.5L290.1 1773.5L270.8 1773.5L251.5 1773.5L232.2 1773.5L212.9 1773.5L193.6 1773.5L174.3 1773.5L155 1773.5L135.6 1773.5L116.3 1773.5L97 1773.5L77.7 1773.5L58.4 1773.5L58.4 1763.8L58.4 1754.2L58.4 1744.5L58.4 1734.9L58.4 1725.2L58.4 1715.6L58.4 1706L58.4 1696.3L58.4 1686.7L58.4 1677L58.4 1667.4L58.4 1657.7L58.4 1648.1L58.4 1638.5L58.4 1628.8L58.4 1619.2L58.4 1609.5L58.4 1599.9L58.4 1590.2L58.4 1580.6L58.4 1571L58.4 1561.3L58.4 1551.7L58.4 1542L58.4 1532.4L58.4 1522.7L58.4 1513.1L58.4 1503.5L58.4 1493.8L58.4 1484.2L58.4 1474.5L58.4 1464.9L58.4 1455.2L58.4 1445.6L58.4 1436L58.4 1426.3L58.4 1416.7L58.4 1407L58.4 1397.4L58.4 1387.7L58.4 1378.1L58.4 1368.5L58.4 1358.8L58.4 1349.2L58.4 1339.5L58.4 1337L61.8 1339.5L77.7 1348.9L78.4 1349.2L97 1355.1L108 1358.8L116.3 1361L135.6 1366L143 1368.5L155 1371.9L174.3 1377L184.9 1378.1L193.6 1378.9L212.9 1379.6L232.2 1380.2L251.5 1382L270.8 1384.7L290.1 1386.8L306.4 1387.7L309.4 1387.9L328.8 1388.4L348.1 1389.7L367.4 1395L373.1 1397.4L386.6 1407L386.7 1407.2L394.8 1416.7L398.1 1426.3L399.6 1436L405.1 1445.6L406 1446.7L422.4 1455.2L425.3 1456.6L444.6 1463.9L446.6 1464.9L463.7 1474.5L463.9 1474.7L472.5 1484.2L481 1493.8L483.2 1496.5L499.4 1503.5L502.6 1504.2L520.9 1513.1L521.9 1514.1L524.5 1522.7L526.5 1532.4L529 1542L531.6 1551.7L532.9 1561.3L533.7 1571L534.6 1580.6L534 1590.2L529.3 1599.9L524.2 1609.5L521.9 1617.6L521.4 1619.2L521.9 1625.2L522.1 1628.8L527.3 1638.5L531.3 1648.1L531.6 1657.7L526.2 1667.4L521.9 1670.3L505.3 1677L502.6 1677.9L483.2 1681.7L463.9 1683.3L444.6 1682.5L425.3 1680.3L406 1677.9L399.8 1677L386.7 1674.9L367.4 1672.5L348.1 1671.2L328.8 1670.3L309.4 1670.4L290.1 1671.8L270.8 1674.4L254.2 1677L251.5 1677.5L232.2 1682.5L222.5 1686.7L212.9 1692.9L208.9 1696.3L202.4 1706L199.4 1715.6L200.5 1725.2L209.2 1734.9L212.9 1736.7L232.2 1744.4L232.6 1744.5L251.5 1747.1L270.8 1749.3L290.1 1750.9L309.4 1751.3L328.8 1751.2L348.1 1751.5L367.4 1753.2L375.8 1754.2L386.7 1755.3L406 1757.2L425.3 1759L444.6 1760.6L463.9 1761.6L483.2 1761.9L502.6 1761.7L521.9 1761.4L541.2 1761.2L560.5 1761L579.8 1760.9L599.1 1760.9L618.4 1760.8L637.7 1760.6L657 1760.4L676.4 1760L695.7 1759.4L715 1759L734.3 1758.8L753.6 1758.9L772.9 1759.5L792.2 1760.5L811.5 1761L830.9 1760.7L850.2 1759.9L869.5 1759.3L888.8 1759.1L908.1 1758.9L927.4 1758.5L946.7 1757.8L966 1755.7L975 1754.2L985.3 1752.1L1004.7 1749.1L1024 1746L1030.7 1744.5L1043.3 1740.9L1056.5 1734.9L1062.6 1730L1067.4 1725.2L1068.4 1715.6L1062.6 1710.4L1056.9 1706L1043.3 1702.1L1024 1701.2L1004.7 1700.8L985.3 1699.8L966 1699.1L946.7 1699.3L927.4 1700.5L908.1 1702.6L888.8 1703.9L869.5 1704.3L850.2 1705.8L847.8 1706L830.9 1707.1L812.1 1706L811.5 1705.9L792.2 1699.8L786.7 1696.3L775.4 1686.7L772.9 1683.6L768.3 1677L763 1667.4L758.6 1657.7L754.3 1648.1L753.6 1646.5L750.1 1638.5L746.9 1628.8L745.8 1619.2L746.2 1609.5L747.6 1599.9L750.6 1590.2L753.6 1585.8L757.2 1580.6L764.2 1571L770.2 1561.3L772.9 1555.9L774.7 1551.7L777.7 1542L780.6 1532.4L783.5 1522.7L786.5 1513.1L789.5 1503.5L792.2 1493.8L792.2 1493.8L794.7 1484.2L797 1474.5L799.5 1464.9L801.8 1455.2L803.2 1445.6L804 1436L804.9 1426.3L805.4 1416.7L805.5 1407L805.6 1397.4L806.3 1387.7L807.5 1378.1L809.1 1368.5L811.5 1358.8L811.5 1358.8L814.8 1349.2L819.1 1339.5L824.5 1329.9L830.5 1320.2L830.9 1319.7L836.8 1310.6L843.3 1301L849.7 1291.3L850.2 1290.5L856.2 1281.7L862.3 1272L867.5 1262.4L869.5 1258L872 1252.7L876.5 1243.1L882.1 1233.5L888.5 1223.8L888.8 1223.3L894.7 1214.2L900 1204.5L903.5 1194.9L904.9 1185.2L903.8 1175.6L899.6 1166L893.8 1156.3L889.4 1146.7L888.8 1142L888.1 1137L888.8 1134L890.2 1127.4L896 1117.7ZM251.5 1457.2L244.9 1464.9L251.5 1469.4L270.8 1473.2L282.5 1464.9L270.8 1456.8ZM270.8 1570.3L261.6 1571L251.5 1572.4L232.2 1578.6L229.7 1580.6L232.2 1588.9L232.7 1590.2L251.5 1599.7L251.8 1599.9L270.8 1607.3L277.5 1609.5L290.1 1613.3L309.4 1616.9L328.8 1618.2L348.1 1617.9L367.4 1617.9L386.7 1617.3L406 1615.5L425.3 1613L444.6 1609.8L446.7 1609.5L463.9 1606.2L483.2 1600L483.5 1599.9L491.6 1590.2L490.8 1580.6L483.6 1571L483.2 1570.7L463.9 1562.8L444.6 1565.3L425.3 1568.9L406 1570.7L395.6 1571L386.7 1571.1L381.8 1571L367.4 1570.5L348.1 1569.8L328.8 1569.4L309.4 1569.1L290.1 1569.3ZM58.4 1185.2L58.4 1178.3L67.1 1185.2L77.7 1193.6L80.9 1194.9L97 1203.7L99.3 1204.5L103.3 1214.2L97 1222.1L96 1223.8L85.2 1233.5L77.7 1238.2L71.8 1243.1L58.4 1250.8L58.4 1243.1L58.4 1233.5L58.4 1223.8L58.4 1214.2L58.4 1204.5L58.4 1194.9Z"/>
<path fill="#0080ff" d="M1092.9 1108.1L1101.2 1107.7L1120.5 1106.9L1139.8 1106.7L1159.1 1106.8L1178.5 1106.9L1197.8 1107.3L1217.1 1108.1L1217.3 1108.1L1236.4 1109L1255.7 1110.4L1275 1112.1L1294.3 1113.9L1313.6 1116L1324 1117.7L1332.9 1119.5L1352.3 1125.5L1356.7 1127.4L1371.6 1135.9L1373.5 1137L1386.4 1146.7L1390.9 1151.1L1396.7 1156.3L1410.2 1165.8L1410.3 1166L1416.1 1175.6L1421.5 1185.2L1428.3 1194.9L1429.5 1196.7L1429.5 1204.5L1429.5 1214.2L1429.5 1222.5L1428.6 1223.8L1418.3 1233.5L1410.2 1242.6L1409.7 1243.1L1407.9 1252.7L1408.7 1262.4L1408 1272L1402.9 1281.7L1392.7 1291.3L1390.9 1292.8L1379.7 1301L1385.8 1310.6L1390.9 1312.8L1402.4 1320.2L1410.2 1324L1418.3 1329.9L1429.5 1335.6L1429.5 1339.5L1429.5 1349.2L1429.5 1358.8L1429.5 1368.5L1429.5 1378.1L1429.5 1387.7L1429.5 1397.4L1429.5 1407L1429.5 1416.7L1429.5 1426.3L1429.5 1436L1429.5 1445.6L1429.5 1455.2L1429.5 1464.9L1429.5 1474.5L1429.5 1484.2L1429.5 1493.8L1429.5 1503.5L1429.5 1513.1L1429.5 1522.7L1429.5 1532.4L1429.5 1542L1429.5 1551.7L1429.5 1561.3L1429.5 1571L1429.5 1580.6L1429.5 1590.2L1429.5 1599.9L1429.5 1609.5L1429.5 1619.2L1429.5 1628.8L1429.5 1638.5L1429.5 1648.1L1429.5 1657.7L1429.5 1667.4L1429.5 1677L1429.5 1686.7L1429.5 1696.3L1429.5 1696.5L1428.4 1696.3L1410.2 1694L1390.9 1687.9L1386.7 1686.7L1371.6 1682.5L1352.3 1678.2L1346.8 1677L1332.9 1674L1316.5 1667.4L1313.6 1665.7L1296.9 1657.7L1294.3 1656.5L1275 1652.4L1255.7 1653.7L1242 1657.7L1236.4 1659.3L1217.1 1667.3L1216.9 1667.4L1197.8 1674.2L1189.7 1677L1178.5 1680.4L1159.1 1684.9L1149 1686.7L1139.8 1688.5L1120.5 1691L1101.2 1690.8L1081.9 1688.6L1065.1 1686.7L1062.6 1686.4L1043.3 1685.3L1024 1685.2L1004.7 1685.7L985.3 1686.1L966 1686.4L957.7 1686.7L946.7 1687L927.4 1687.9L908.1 1688.4L888.8 1688.4L869.5 1687.7L857.7 1686.7L850.2 1685.7L830.9 1680.7L822.3 1677L811.8 1667.4L812.8 1657.7L822.1 1648.1L830.9 1642.6L843.9 1638.4L850.2 1636.1L869.5 1632.4L877.1 1628.8L871.9 1619.2L869.5 1618.5L850.2 1617L830.9 1614.5L815.5 1609.5L811.5 1608.3L798 1599.9L792.2 1592L791.4 1590.2L790.4 1580.6L791.5 1571L792.2 1567.2L793.3 1561.3L795.6 1551.7L798.9 1542L802.7 1532.4L806.7 1522.7L810.6 1513.1L811.5 1510.8L815.2 1503.5L819.6 1493.8L823.3 1484.2L826.7 1474.5L830.1 1464.9L830.9 1461.6L832.6 1455.2L833.4 1445.6L832.6 1436L831 1426.3L830.9 1425.6L829.2 1416.7L827.5 1407L826.2 1397.4L825.8 1387.7L826.2 1378.1L827.6 1368.5L830.1 1358.8L830.9 1356.9L834.1 1349.2L839.8 1339.5L846.7 1329.9L850.2 1325.4L855.3 1320.2L865.2 1310.6L869.5 1306.3L877.4 1301L888.8 1291.3L888.8 1291.3L899.8 1281.7L906.3 1272L908.1 1265.9L909 1262.4L909.5 1252.7L910.9 1243.1L915.3 1233.5L922.2 1223.8L927.4 1217.6L930.7 1214.2L940.1 1204.5L946.7 1196.8L948.8 1194.9L956.5 1185.2L961.6 1175.6L963.8 1166L963.3 1156.3L961.9 1146.7L963.1 1137L966 1134.1L973.8 1127.4L985.3 1123.3L1004.7 1118L1005.5 1117.7L1024 1114.3L1043.3 1111.8L1062.6 1110L1081.9 1108.7ZM58.4 1358.8L58.4 1350L76.9 1358.8L77.7 1359.2L97 1365L109.8 1368.5L116.3 1370.1L135.6 1375.4L144.5 1378.1L155 1381.2L174.3 1385.7L189 1387.7L193.6 1388.7L212.9 1389.7L232.2 1390.2L251.5 1394.2L264.5 1397.4L270.8 1400.4L290.1 1404.8L309.4 1406.4L325.3 1407L328.8 1407.3L348.1 1414.3L350.5 1416.7L354.5 1426.3L353.2 1436L348.1 1440.8L328.8 1442.8L309.4 1438.8L297 1436L290.1 1434.1L270.8 1430.3L251.5 1430.6L232.2 1433.8L226.1 1435.9L212.9 1441.7L206.5 1445.6L196.3 1455.2L195.1 1464.9L204.6 1474.5L212.9 1478.7L226.4 1484.2L232.2 1485.8L251.5 1489.9L270.8 1492.3L290.1 1493.2L309.2 1493.8L309.4 1493.8L328.8 1495.6L348.1 1498.3L367.4 1501.9L372.8 1503.5L386.7 1510.1L390.5 1513.1L394.5 1522.7L390.8 1532.4L386.7 1535.3L369.9 1542L367.4 1542.5L348.1 1545.1L328.8 1545.8L309.4 1546.4L290.1 1547.3L270.8 1547.9L251.5 1548.2L232.2 1548.1L212.9 1548.6L193.6 1548.8L174.3 1549.6L163.3 1551.7L155 1554.7L144.3 1561.3L142.3 1571L151.3 1580.6L155 1582.7L174.3 1589.4L175.9 1590.2L185.2 1599.9L193.6 1609.2L193.9 1609.5L206.2 1619.2L212.9 1623.5L230 1628.8L212.9 1637.1L193.6 1637.6L186.7 1638.4L174.3 1639.4L155 1644.8L147.5 1648.1L135.6 1655.7L133 1657.7L121.9 1667.4L116.3 1670.8L98.1 1677L97 1677.4L77.7 1683.5L70.6 1686.7L58.4 1691.1L58.4 1686.7L58.4 1677L58.4 1667.4L58.4 1657.7L58.4 1648.1L58.4 1638.5L58.4 1628.8L58.4 1619.2L58.4 1609.5L58.4 1599.9L58.4 1590.2L58.4 1580.6L58.4 1571L58.4 1561.3L58.4 1551.7L58.4 1542L58.4 1532.4L58.4 1522.7L58.4 1513.1L58.4 1503.5L58.4 1493.8L58.4 1484.2L58.4 1474.5L58.4 1464.9L58.4 1455.2L58.4 1445.6L58.4 1436L58.4 1426.3L58.4 1416.7L58.4 1407L58.4 1397.4L58.4 1387.7L58.4 1378.1L58.4 1368.5ZM1149.1 1734.9L1159.1 1732.9L1178.5 1731.7L1197.8 1730.9L1217.1 1730.8L1236.4 1731.8L1255.7 1733L1275 1733.9L1290.1 1734.9L1294.3 1735.2L1313.6 1736.1L1332.9 1736.7L1352.3 1738.8L1371.6 1741L1390.9 1741.8L1410.2 1740.8L1428 1744.5L1429.5 1744.9L1429.5 1754.2L1429.5 1763.8L1429.5 1773.5L1410.2 1773.5L1390.9 1773.5L1371.6 1773.5L1352.3 1773.5L1332.9 1773.5L1313.6 1773.5L1294.3 1773.5L1275 1773.5L1255.7 1773.5L1236.4 1773.5L1217.1 1773.5L1197.8 1773.5L1178.5 1773.5L1159.1 1773.5L1139.8 1773.5L1120.5 1773.5L1101.2 1773.5L1081.9 1773.5L1062.6 1773.5L1043.3 1773.5L1024 1773.5L1017.4 1773.5L1024 1772.9L1043.3 1770.6L1062.6 1767.4L1076.8 1763.8L1081.9 1762.2L1101.2 1754.5L1101.9 1754.2L1120.5 1745.1L1121.8 1744.5L1139.8 1737.2ZM58.4 1763.8L58.4 1759.6L72.5 1763.8L77.7 1765L97 1764.6L113.6 1763.8L116.3 1763.7L117.9 1763.8L135.6 1765L155 1767.5L174.3 1769.8L193.6 1771.5L212.9 1772.6L230.9 1773.5L212.9 1773.5L193.6 1773.5L174.3 1773.5L155 1773.5L135.6 1773.5L116.3 1773.5L97 1773.5L77.7 1773.5L58.4 1773.5Z"/>
<path fill="#00b8ff" d="M1092.8 1127.4L1101.2 1126.2L1120.5 1124.8L1139.8 1124.1L1159.1 1123.8L1178.5 1123.8L1197.8 1123.8L1217.1 1124.1L1236.4 1125.8L1249.1 1127.4L1255.7 1128.3L1275 1131.3L1294.3 1134.7L1303.4 1137L1313.6 1140.4L1326.5 1146.7L1332.9 1151.3L1339 1156.3L1347.3 1166L1352.3 1173.8L1353.5 1175.6L1358.7 1185.2L1361.7 1194.9L1361.4 1204.5L1358.3 1214.2L1353.6 1223.8L1352.3 1226.4L1349 1233.5L1344.2 1243.1L1337.8 1252.7L1332.9 1257.3L1328.1 1262.4L1316.7 1272L1313.6 1274.9L1307.6 1281.7L1304.1 1291.3L1313.6 1299.2L1315.6 1301L1332.9 1309.8L1334.3 1310.6L1352.3 1317.6L1359.9 1320.2L1371.6 1322.8L1390.9 1329.2L1392.3 1329.9L1410.2 1336.4L1416.3 1339.5L1429.5 1345.5L1429.5 1349.2L1429.5 1358.8L1429.5 1368.5L1429.5 1378.1L1429.5 1387.7L1429.5 1397.4L1429.5 1407L1429.5 1416.7L1429.5 1426.3L1429.5 1436L1429.5 1445.6L1429.5 1455.2L1429.5 1464.9L1429.5 1474.5L1429.5 1484.2L1429.5 1493.8L1429.5 1503.5L1429.5 1513.1L1429.5 1522.7L1429.5 1532.4L1429.5 1542L1429.5 1551.7L1429.5 1561.3L1429.5 1571L1429.5 1580.6L1429.5 1590.2L1429.5 1594.8L1413.1 1599.9L1410.2 1601.1L1405.3 1599.9L1390.9 1595.5L1371.6 1590.4L1370.2 1590.2L1352.3 1588.2L1332.9 1586.8L1313.6 1585.7L1294.3 1586.5L1275 1590.2L1274.9 1590.2L1255.7 1595.9L1244 1599.9L1236.4 1602.5L1218.3 1609.5L1217.1 1610.1L1198.3 1619.2L1197.8 1619.5L1183.1 1628.8L1178.5 1632.2L1170.3 1638.5L1159.1 1646.7L1156.9 1648.1L1139.8 1655.7L1133.5 1657.7L1120.5 1660.5L1101.2 1663.7L1081.9 1665.3L1062.6 1666.9L1058.8 1667.4L1043.3 1668.4L1024 1668.3L1004.7 1669.3L985.3 1670.9L966 1670.9L946.7 1671.9L927.4 1673.3L908.1 1670.8L889.4 1667.4L891.2 1657.7L908.1 1651.1L916.1 1648.1L927.4 1645L946.7 1640.2L953.3 1638.5L966 1634.5L985.1 1628.8L985.3 1628.7L1002.2 1619.2L1004.7 1615.7L1009.6 1609.5L1004.7 1605.3L997.2 1599.9L985.3 1597.4L966 1595.5L946.7 1593.6L927.4 1591.4L908.1 1591.5L888.8 1591.8L869.5 1591.1L864.7 1590.2L850.2 1586.8L836.1 1580.6L830.9 1576.8L826.1 1571L822.3 1561.3L821.8 1551.7L824.9 1542L829.3 1532.4L830.9 1529.4L835.1 1522.7L841.9 1513.1L848.8 1503.5L850.2 1501.5L856.5 1493.8L863.8 1484.2L869.5 1474.5L869.5 1474.4L872 1464.9L871.9 1455.2L869.9 1445.6L869.5 1444.4L866 1436L860.1 1426.3L854.8 1416.7L850.7 1407L850.2 1405.6L847.6 1397.4L845.8 1387.7L845.3 1378.1L846.1 1368.4L848.7 1358.8L850.2 1355.9L854.2 1349.2L862.7 1339.5L869.5 1332.9L874.2 1329.9L888.8 1321.2L891.5 1320.2L908.1 1314L920 1310.6L927.4 1307.7L939.9 1301L946.7 1294.6L949.7 1291.3L952.5 1281.7L951.1 1272L948.4 1262.4L946.7 1255.5L946 1252.7L946.1 1243.1L946.7 1241.9L951.1 1233.5L960.7 1223.8L966 1219.6L974.5 1214.2L985.3 1207.6L991.1 1204.5L1004.7 1196.1L1007.3 1194.9L1024 1185.7L1025 1185.2L1041.6 1175.6L1043.3 1174.1L1049.3 1166L1049.9 1156.3L1050.1 1146.7L1057.5 1137L1062.6 1135.2L1081.9 1129.8ZM58.4 1358.8L58.4 1358.5L59.1 1358.8L77.7 1367.4L80.9 1368.5L97 1373.3L114.9 1378.1L116.3 1378.5L135.6 1384.1L147.5 1387.7L155 1390.5L174.3 1396.5L178.5 1397.4L193.6 1404.1L206.1 1407L205.7 1416.7L193.6 1425.6L193.1 1426.3L181.4 1436L174.3 1441.7L170.6 1445.6L163.6 1455.2L160.8 1464.9L164.1 1474.5L174.2 1484.2L174.3 1484.2L193.2 1493.8L193.6 1494L212.9 1499.4L232.2 1502.4L237.1 1503.5L251.5 1509L263.6 1513.1L263.5 1522.7L251.5 1526L232.2 1529.1L212.9 1529.3L193.6 1529.3L174.3 1530.4L155 1530.7L135.6 1532.2L134.3 1532.4L116.3 1535.7L100.6 1542L97 1544.6L87.7 1551.7L80.7 1561.3L77.7 1565.1L72.3 1570.9L58.4 1577.6L58.4 1571L58.4 1561.3L58.4 1551.7L58.4 1542L58.4 1532.4L58.4 1522.7L58.4 1513.1L58.4 1503.5L58.4 1493.8L58.4 1484.2L58.4 1474.5L58.4 1464.9L58.4 1455.2L58.4 1445.6L58.4 1436L58.4 1426.3L58.4 1416.7L58.4 1407L58.4 1397.4L58.4 1387.7L58.4 1378.1L58.4 1368.5Z"/>
<path fill="#09f0ee" d="M1165.7 1146.7L1178.5 1146.6L1197.8 1146.6L1201.2 1146.7L1217.1 1147L1236.4 1148.1L1255.7 1149.9L1275 1153.2L1283.8 1156.3L1294.3 1162L1299.3 1166L1305.8 1175.6L1308.6 1185.2L1308.8 1194.9L1307.6 1204.5L1305.5 1214.2L1302.8 1223.8L1298.9 1233.5L1294.3 1240.9L1292.7 1243.1L1281.5 1252.7L1275 1257.3L1255.7 1262.4L1254.8 1262.4L1236.4 1262.9L1217.1 1263.7L1197.8 1267.4L1188.8 1272L1197.8 1278.5L1200.2 1281.7L1217.1 1289.1L1224.8 1291.3L1236.4 1292.8L1255.7 1297.2L1262.2 1301L1275 1304.8L1294.3 1309.4L1297.8 1310.6L1313.6 1315.1L1324.5 1320.2L1332.9 1323.5L1352.3 1328.5L1357.7 1329.9L1371.6 1332.9L1390.4 1339.5L1390.9 1339.7L1410.2 1344.9L1419.5 1349.2L1429.5 1354L1429.5 1358.8L1429.5 1368.5L1429.5 1378.1L1429.5 1387.7L1429.5 1397.4L1429.5 1407L1429.5 1416.7L1429.5 1426.3L1429.5 1436L1429.5 1445.6L1429.5 1455.2L1429.5 1464.9L1429.5 1474.5L1429.5 1484.2L1429.5 1493.8L1429.5 1503.5L1429.5 1513.1L1429.5 1522.7L1429.5 1530L1422.2 1532.4L1410.2 1536.6L1390.9 1541.7L1389.3 1542L1371.6 1546.2L1352.3 1548.9L1332.9 1550.2L1313.6 1550.1L1294.3 1550.3L1282 1551.7L1275 1552.7L1255.7 1559.3L1249.7 1561.3L1236.4 1566.2L1217.2 1571L1217.1 1571L1197.8 1574.5L1178.5 1576.5L1159.1 1578.1L1139.8 1579.7L1120.5 1580.4L1101.2 1580.3L1081.9 1579.7L1062.6 1578.6L1043.3 1577.5L1024 1576.9L1004.7 1576.4L985.3 1575.9L966 1575.6L946.7 1574.9L927.4 1573.6L908.1 1571.7L903.3 1571L888.8 1567.7L873.8 1561.3L869.5 1557L865.4 1551.7L864.1 1542L867.3 1532.4L869.5 1528.9L873.4 1522.7L881.6 1513.1L888.8 1505.8L891.1 1503.5L900.3 1493.8L908.1 1484.2L908.1 1484.1L912.1 1474.5L911.7 1464.9L908.1 1457L907.3 1455.2L901.1 1445.6L894.3 1436L888.8 1428.9L886.8 1426.3L879.6 1416.7L873.6 1407L869.5 1397.4L869.4 1397.4L866.6 1387.7L865.5 1378.1L866.3 1368.4L869.5 1359.1L869.6 1358.8L880.5 1349.2L888.8 1343.6L897.9 1339.5L908.1 1335.4L925 1329.9L927.4 1329.1L946.7 1322.9L952.7 1320.2L966 1313.4L970.2 1310.6L983.7 1301L985.3 1299.3L994.3 1291.3L1000.8 1281.7L997.4 1272L985.8 1262.4L985.3 1261.4L983.3 1252.7L985.3 1243.6L985.5 1243.1L997.7 1233.5L1004.7 1229.4L1016.5 1223.8L1024 1220.7L1043.3 1214.7L1046.2 1214.2L1062.6 1211.1L1081.9 1209.4L1101.2 1208.8L1120.5 1206.1L1135.7 1204.5L1139.8 1201.7L1144.2 1194.9L1139.8 1192L1132.5 1185.2L1123 1175.6L1120.5 1169.1L1119.6 1166L1120.5 1163.9L1124.7 1156.3L1139.8 1149.4L1159.1 1146.8ZM58.4 1368.5L58.4 1366.2L63.2 1368.5L77.7 1375.1L87.3 1378.1L97 1381.3L116.3 1386.9L119.3 1387.7L135.6 1393.4L146.1 1397.4L155 1403.3L161.5 1407L166.4 1416.7L162.8 1426.3L155 1435.5L154.6 1436L145.8 1445.6L138.2 1455.2L135.6 1460.7L133.4 1464.9L131.4 1474.5L131.4 1484.2L131.6 1493.8L127.1 1503.5L116.3 1509.5L105.8 1513.1L97 1515L77.7 1519.5L62.3 1522.7L58.4 1523.7L58.4 1522.7L58.4 1513.1L58.4 1503.5L58.4 1493.8L58.4 1484.2L58.4 1474.5L58.4 1464.9L58.4 1455.2L58.4 1445.6L58.4 1436L58.4 1426.3L58.4 1416.7L58.4 1407L58.4 1397.4L58.4 1387.7L58.4 1378.1Z"/>
<path fill="#36ffc1" d="M1058.8 1291.3L1062.6 1290.3L1081.9 1289L1101.2 1289.5L1120.5 1287.5L1139.8 1287.2L1159.1 1289.1L1172.7 1291.3L1178.5 1291.9L1197.8 1296.1L1214.3 1301L1217.1 1301.5L1236.4 1304.1L1255.7 1308.4L1262.4 1310.6L1275 1313.3L1294.3 1317.2L1303.2 1320.2L1313.6 1323.7L1328.7 1329.9L1332.9 1331.3L1352.3 1335.5L1367.4 1339.5L1371.6 1340.6L1390.9 1346.2L1400.5 1349.2L1410.2 1352.4L1423.4 1358.8L1429.5 1361.4L1429.5 1368.5L1429.5 1378.1L1429.5 1387.7L1429.5 1397.4L1429.5 1407L1429.5 1416.7L1429.5 1426.3L1429.5 1436L1429.5 1445.6L1429.5 1455.2L1429.5 1464.9L1429.5 1474.5L1429.5 1484.2L1429.5 1493.8L1429.5 1503.5L1429.5 1507.1L1411.9 1513.1L1410.2 1513.7L1390.9 1520L1379.9 1522.7L1371.6 1524.7L1352.3 1528L1332.9 1529.9L1313.6 1531.7L1305.3 1532.4L1294.3 1533.3L1275 1535.8L1255.7 1541L1252.7 1542L1236.4 1547.8L1220.4 1551.7L1217.1 1552.6L1197.8 1555.3L1178.5 1556.1L1159.1 1556.5L1139.8 1558.6L1120.5 1560.2L1101.2 1560.4L1081.9 1560.9L1062.6 1560.8L1043.3 1560.8L1024 1560.4L1004.7 1560.7L985.3 1560.9L966 1560.2L946.7 1558.6L927.4 1555.2L918.2 1551.7L908.1 1542L908.1 1541.7L907.5 1532.4L908.1 1531.2L912.3 1522.7L920.4 1513.1L927.4 1505.5L928.9 1503.5L934.9 1493.8L940.1 1484.2L943.5 1474.5L943.6 1464.9L939.8 1455.2L932.3 1445.6L927.4 1441L922.8 1436L913.2 1426.3L908.1 1421.6L903.7 1416.7L896 1407L890.7 1397.4L888.8 1390.4L888.1 1387.7L888.3 1378.1L888.8 1376.6L892.6 1368.4L904 1358.8L908.1 1356.6L925.2 1349.2L927.4 1348.3L946.7 1341L950.2 1339.5L966 1332.7L970.3 1329.9L985.3 1320.2L985.3 1320.2L997.7 1310.6L1004.7 1306L1015.2 1301L1024 1297L1043.3 1293.4ZM58.4 1378.1L58.4 1373.7L67.9 1378.1L77.7 1382.9L92.2 1387.7L97 1389.6L116.3 1395.5L121.6 1397.4L135.6 1405.9L137.4 1407L142.6 1416.7L139.8 1426.3L135.6 1431.4L131.4 1436L120.3 1445.6L116.3 1449.7L110.4 1455.2L102.6 1464.9L97 1473L95.7 1474.5L87.8 1484.2L77.7 1492.5L75.9 1493.8L58.4 1501.7L58.4 1493.8L58.4 1484.2L58.4 1474.5L58.4 1464.9L58.4 1455.2L58.4 1445.6L58.4 1436L58.4 1426.3L58.4 1416.7L58.4 1407L58.4 1397.4L58.4 1387.7Z"/>
<path fill="#63ff94" d="M1081.5 1301L1081.9 1300.9L1101.2 1300.6L1120.5 1299.1L1139.8 1298L1159.1 1298.5L1177.8 1300.9L1178.5 1301L1197.8 1304.6L1217.1 1308.5L1229.4 1310.6L1236.4 1311.6L1255.7 1315.1L1275 1319.1L1280 1320.2L1294.3 1323.5L1311.8 1329.9L1313.6 1330.6L1332.9 1337.1L1343 1339.5L1352.3 1341.8L1371.6 1347.2L1378.2 1349.2L1390.9 1353.1L1407.7 1358.8L1410.2 1359.7L1429.5 1367.9L1429.5 1368.5L1429.5 1378.1L1429.5 1387.7L1429.5 1397.4L1429.5 1407L1429.5 1416.7L1429.5 1426.3L1429.5 1436L1429.5 1445.6L1429.5 1455.2L1429.5 1464.9L1429.5 1474.5L1429.5 1484.2L1429.5 1485L1410.2 1493.3L1409 1493.8L1390.9 1500.5L1382.7 1503.5L1371.6 1506.8L1352.3 1511.7L1345.8 1513.1L1332.9 1515.4L1313.6 1518.3L1294.3 1520.8L1280.7 1522.7L1275 1523.6L1255.7 1528L1240.2 1532.4L1236.4 1533.6L1217.1 1539.1L1197.8 1541.7L1193.5 1542L1178.5 1543L1159.1 1544L1139.8 1545.6L1120.5 1547.4L1101.2 1548.4L1081.9 1546.7L1062.6 1544.1L1045.6 1542L1043.3 1541.7L1024 1541.8L1021.4 1542L1004.7 1543.1L985.3 1543.6L975 1542L966 1539.5L954.4 1532.4L952.1 1522.7L954.8 1513.1L958.5 1503.5L962.8 1493.8L966 1486.8L967.4 1484.2L971.5 1474.5L974 1464.9L974.3 1455.2L970.7 1445.6L966 1440.8L961.4 1435.9L946.7 1426.5L946.5 1426.3L932.6 1416.7L927.4 1413.3L920.6 1407L912.9 1397.4L910.7 1387.7L914.6 1378.1L926 1368.5L927.4 1367.6L942.3 1358.8L946.7 1356.8L964.6 1349.2L966 1348.6L981.2 1339.5L985.3 1336.8L992.5 1329.9L1004.7 1320.3L1004.7 1320.2L1020.7 1310.6L1024 1309L1043.3 1303.5L1062.6 1301.5ZM58.4 1387.7L58.4 1381.4L71.3 1387.7L77.7 1391.9L92 1397.4L97 1400.1L113.6 1407L116.3 1409.8L120.6 1416.7L116.3 1426.3L116.3 1426.3L103.8 1436L97 1441.1L90.3 1445.6L77.7 1454.8L77 1455.2L62.9 1464.9L58.4 1468.8L58.4 1464.9L58.4 1455.2L58.4 1445.6L58.4 1436L58.4 1426.3L58.4 1416.7L58.4 1407L58.4 1397.4Z"/>
<path fill="#94ff63" d="M1057.2 1310.6L1062.6 1309.9L1081.9 1309.4L1101.2 1309.2L1120.5 1307.5L1139.8 1306L1159.1 1306L1178.5 1308.1L1192.1 1310.6L1197.8 1311.5L1217.1 1314.7L1236.4 1317.7L1251.3 1320.2L1255.7 1320.9L1275 1324.2L1294.3 1329.3L1296 1329.9L1313.6 1336.3L1323.2 1339.5L1332.9 1342.4L1352.3 1347.6L1357.6 1349.2L1371.6 1354.1L1386.4 1358.8L1390.9 1360.5L1410.2 1366.9L1413.8 1368.5L1429.5 1376.2L1429.5 1378.1L1429.5 1387.7L1429.5 1397.4L1429.5 1407L1429.5 1416.7L1429.5 1426.3L1429.5 1436L1429.5 1445.6L1429.5 1449.7L1416.6 1455.2L1410.2 1459.5L1400.2 1464.9L1390.9 1471.4L1386.3 1474.5L1371.6 1483.1L1370.3 1484.2L1352.3 1493.4L1351.6 1493.8L1332.9 1500.4L1322.5 1503.5L1313.6 1505.3L1294.3 1509.2L1275 1512.7L1273.1 1513.1L1255.7 1516.5L1236.4 1521.1L1229.4 1522.7L1217.1 1526L1197.8 1529.7L1178.5 1531.7L1169.3 1532.4L1159.1 1533.1L1139.8 1534.2L1120.5 1535.1L1101.2 1534.4L1088.7 1532.4L1081.9 1531.1L1062.6 1525.7L1051.4 1522.7L1043.3 1520.1L1024 1516.4L1008.8 1513.1L1004.7 1511L997.9 1503.5L998.3 1493.8L1001.8 1484.2L1004.7 1478.1L1006.4 1474.5L1011.9 1464.9L1018.8 1455.2L1024 1449.6L1028.2 1445.6L1043.3 1436.2L1043.7 1435.9L1056.8 1426.3L1043.3 1419.7L1024 1418.7L1004.7 1417.6L1000 1416.7L985.3 1414.6L966 1409.6L960.1 1407L946.7 1400.3L942.9 1397.4L938.5 1387.7L943.8 1378.1L946.7 1375.8L954.5 1368.4L966 1362L971.5 1358.8L985.3 1352.2L989.4 1349.2L998.9 1339.5L1004.7 1334.3L1009.2 1329.9L1022.5 1320.2L1024 1319.4L1043.3 1312.4ZM58.4 1397.4L58.4 1390.4L68.8 1397.4L77.7 1406.7L78.2 1407L83.6 1416.7L78.1 1426.3L77.7 1426.6L66.5 1436L58.4 1440.8L58.4 1436L58.4 1426.3L58.4 1416.7L58.4 1407Z"/>
<path fill="#c1ff36" d="M1046.1 1320.2L1062.6 1317.9L1081.9 1317.3L1101.2 1316.8L1120.5 1315.1L1139.8 1313.3L1159.1 1313L1178.5 1314.8L1197.8 1317.8L1214.1 1320.2L1217.1 1320.7L1236.4 1323.5L1255.7 1326.2L1275 1329.1L1277.9 1329.9L1294.3 1335.1L1306.7 1339.5L1313.6 1342L1332.9 1347.4L1339.2 1349.2L1352.3 1354.2L1365.3 1358.8L1371.6 1361.6L1390.1 1368.5L1390.9 1368.7L1410.2 1375.1L1416.2 1378.1L1429.5 1385.9L1429.5 1387.7L1429.5 1397.4L1429.5 1407L1429.5 1416.7L1429.5 1426.3L1429.5 1428.7L1410.2 1435L1399.5 1436L1390.9 1436.9L1371.6 1436.8L1364.5 1436L1352.3 1434.8L1332.9 1434.8L1329.3 1436L1318.2 1445.6L1321.3 1455.2L1328.1 1464.9L1330.5 1474.5L1322 1484.2L1313.6 1488.4L1302.5 1493.8L1294.3 1496.3L1275 1501.7L1266.7 1503.5L1255.7 1505.5L1236.4 1509.3L1220.3 1513.1L1217.1 1513.9L1197.8 1518.3L1178.5 1521.1L1159.1 1522.4L1150.8 1522.7L1139.8 1523.2L1122.6 1522.7L1120.5 1522.7L1101.2 1519.8L1081.9 1513.5L1080.9 1513.1L1062.6 1504.3L1060.9 1503.5L1048.3 1493.8L1043.8 1484.2L1044.5 1474.5L1049.1 1464.9L1058.6 1455.2L1062.6 1452.6L1073.2 1445.6L1081.9 1441.3L1094.6 1436L1101.2 1432.9L1113.5 1426.3L1120.5 1419.1L1123.8 1416.7L1120.5 1412.3L1114.7 1407L1101.2 1403.9L1081.9 1401.8L1062.6 1400.7L1043.3 1399.3L1024 1398.8L1009.7 1397.4L1004.7 1396.8L985.3 1391.8L977.4 1387.7L972.1 1378.1L979 1368.5L985.3 1364.8L994.2 1358.8L1004.7 1349.9L1005.3 1349.2L1014.2 1339.5L1024 1330.5L1024.8 1329.9L1043.3 1320.7Z"/>
<path fill="#eeff09" d="M1142.3 1320.2L1159.1 1319.5L1166.8 1320.2L1178.5 1321.4L1197.8 1324.2L1217.1 1326.8L1236.4 1329.3L1240.9 1329.9L1255.7 1331.8L1275 1334.8L1289.9 1339.5L1294.3 1341.2L1313.6 1347.8L1318.7 1349.2L1332.9 1353.7L1346.4 1358.8L1352.3 1362L1367 1368.5L1371.6 1370.8L1390.9 1377.5L1392.7 1378.1L1410.2 1385.9L1413.3 1387.7L1422.3 1397.4L1423 1407L1411.7 1416.7L1410.2 1417.4L1390.9 1420.5L1371.6 1419.7L1352.3 1417.2L1347.2 1416.7L1332.9 1415.4L1319.5 1416.7L1313.6 1417.4L1294.3 1421L1275 1425.4L1272 1426.3L1273.7 1436L1275 1436.8L1283.7 1445.6L1290.7 1455.2L1294.3 1463.4L1295 1464.9L1294.3 1469L1293.4 1474.5L1282.2 1484.2L1275 1487.3L1255.7 1493.3L1253.7 1493.8L1236.4 1497.4L1217.1 1502L1212.2 1503.5L1197.8 1507.4L1178.5 1511.1L1159.1 1512.7L1139.8 1512.6L1120.5 1510L1101.9 1503.5L1101.2 1503.2L1083.4 1493.8L1081.9 1492.4L1074.1 1484.2L1072.1 1474.5L1076.5 1464.9L1081.9 1459.9L1087 1455.2L1101.2 1447L1104 1445.6L1120.5 1438.5L1127.4 1435.9L1139.8 1430.3L1151.5 1426.3L1159.1 1423.3L1178.5 1419.3L1195.4 1416.7L1189.9 1407L1178.5 1404.3L1159.1 1397.9L1156.2 1397.4L1139.8 1395.4L1120.5 1392.9L1101.2 1390.2L1081.9 1389.2L1062.6 1388.2L1055.6 1387.7L1043.3 1386.7L1024 1382.7L1010.9 1378.1L1007.6 1368.5L1013.4 1358.8L1020.5 1349.2L1024 1345.3L1030.2 1339.5L1043.3 1330L1043.7 1329.9L1062.6 1326.3L1081.9 1325.3L1101.2 1324.4L1120.5 1322.5L1139.8 1320.4Z"/>
<path fill="#ffcc00" d="M1123.9 1329.9L1139.8 1328.1L1159.1 1327.1L1178.5 1328.4L1190.4 1329.9L1197.8 1330.9L1217.1 1333.4L1236.4 1335.9L1255.7 1338L1266.2 1339.5L1275 1341.4L1294.3 1348.2L1297.2 1349.2L1313.6 1355.1L1326 1358.8L1332.9 1362.3L1344.3 1368.5L1352.3 1374.4L1359.3 1378.1L1371.6 1385.9L1376.7 1387.7L1389.8 1397.4L1371.6 1400.5L1352.3 1400.8L1332.9 1401.9L1313.6 1403.6L1294.3 1405L1275 1405.1L1255.7 1404.5L1236.4 1400.8L1225.4 1397.4L1217.1 1395.7L1197.8 1393.5L1178.5 1390.2L1164.2 1387.7L1159.1 1387L1139.8 1384.6L1120.5 1382.2L1101.2 1380.2L1081.9 1378.4L1078.8 1378.1L1062.6 1375.8L1043.3 1370.2L1040 1368.5L1033.2 1358.8L1038.9 1349.2L1043.3 1345L1053.9 1339.5L1062.6 1336.7L1081.9 1334.4L1101.2 1332.7L1120.5 1330.3ZM1134.4 1445.6L1139.8 1443.5L1159.1 1438.9L1178.5 1436.7L1197.8 1437.1L1217.1 1439.5L1236.4 1444.5L1239.1 1445.6L1255.7 1454.9L1256.2 1455.2L1262.3 1464.9L1256.5 1474.5L1255.7 1474.9L1236.4 1483.6L1235.2 1484.2L1217.1 1489.7L1206.1 1493.8L1197.8 1496.4L1178.5 1501.2L1159.1 1503.1L1139.8 1502L1120.5 1496.8L1114 1493.8L1101.2 1485.2L1099.9 1484.2L1094.9 1474.5L1100 1464.9L1101.2 1463.8L1112.7 1455.2L1120.5 1451.4Z"/>
<path fill="#ff9400" d="M1123.7 1339.5L1139.8 1337.3L1159.1 1335.9L1178.5 1336.8L1197.8 1338.8L1204.6 1339.5L1217.1 1341.2L1236.4 1343.6L1255.7 1346.1L1269.6 1349.2L1275 1350.7L1294.3 1357.1L1299.5 1358.8L1313.6 1366L1318.6 1368.5L1325.4 1378.1L1316.2 1387.7L1313.6 1388.5L1294.3 1392.2L1275 1393.5L1255.7 1392.2L1236.4 1389.2L1225.5 1387.7L1217.1 1386.4L1197.8 1382.6L1178.5 1379.7L1165.7 1378.1L1159.1 1377.1L1139.8 1374.1L1120.5 1371.3L1101.2 1368.8L1098.6 1368.5L1081.9 1363.6L1069.6 1358.8L1076.3 1349.2L1081.9 1347.7L1101.2 1343.9L1120.5 1340.2ZM1142.4 1455.2L1159.1 1450.7L1178.5 1449.9L1197.8 1452.2L1208.9 1455.2L1217.1 1459.4L1223.3 1464.9L1217.1 1471.2L1213.6 1474.5L1197.8 1483.1L1195.7 1484.2L1178.5 1490.1L1159.1 1493.2L1139.8 1489.7L1128.2 1484.2L1120.6 1474.5L1125.9 1464.9L1139.8 1456.2Z"/>
<path fill="#ff6000" d="M1151.8 1349.2L1159.1 1348L1178.5 1348.6L1185.5 1349.2L1197.8 1351.3L1217.1 1352.7L1236.4 1355.1L1255.7 1357.7L1260.2 1358.8L1275 1362.8L1288.1 1368.5L1282.9 1378.1L1275 1380L1255.7 1379.5L1245.5 1378.1L1236.4 1375.9L1217.1 1372.3L1197.8 1369.2L1191.8 1368.5L1178.5 1365.5L1159.1 1363.2L1143.4 1358.8ZM1157.6 1474.5L1159.1 1472.3L1162.4 1474.5L1159.1 1475.3Z"/>
</g>
<use href="#coast" transform="translate(0,985)"/>
</g>
<rect x="58.4" y="1098.5" width="1371.1" height="675" fill="none" stroke="#000" stroke-width="3.33"/>
<rect x="58.4" y="1816.8" width="76.8" height="67.9" fill="#00009f"/>
<rect x="134.6" y="1816.8" width="76.8" height="67.9" fill="#0000df"/>
<rect x="210.7" y="1816.8" width="76.8" height="67.9" fill="#000cff"/>
<rect x="286.9" y="1816.8" width="76.8" height="67.9" fill="#0044ff"/>
<rect x="363.1" y="1816.8" width="76.8" height="67.9" fill="#0080ff"/>
<rect x="439.3" y="1816.8" width="76.8" height="67.9" fill="#00b8ff"/>
<rect x="515.4" y="1816.8" width="76.8" height="67.9" fill="#09f0ee"/>
<rect x="591.6" y="1816.8" width="76.8" height="67.9" fill="#36ffc1"/>
<rect x="667.8" y="1816.8" width="76.8" height="67.9" fill="#63ff94"/>
<rect x="743.9" y="1816.8" width="76.8" height="67.9" fill="#94ff63"/>
<rect x="820.1" y="1816.8" width="76.8" height="67.9" fill="#c1ff36"/>
<rect x="896.3" y="1816.8" width="76.8" height="67.9" fill="#eeff09"/>
<rect x="972.5" y="1816.8" width="76.8" height="67.9" fill="#ffcc00"/>
<rect x="1048.6" y="1816.8" width="76.8" height="67.9" fill="#ff9400"/>
<rect x="1124.8" y="1816.8" width="76.8" height="67.9" fill="#ff6000"/>
<rect x="1201" y="1816.8" width="76.8" height="67.9" fill="#ff2d00"/>
<rect x="1277.2" y="1816.8" width="76.8" height="67.9" fill="#df0000"/>
<rect x="1353.3" y="1816.8" width="76.2" height="67.9" fill="#9f0000"/>
<rect x="58.4" y="1816.8" width="1371.1" height="67.9" fill="none" stroke="#000" stroke-width="3.33"/>
<g fill="#000" font-family="'Liberation Sans', sans-serif" font-size="41.7" text-anchor="middle">
<rect x="56.7" y="1884.7" width="3.33" height="14.6"/>
<text x="58.4" y="1946.3">0</text>
<rect x="209.1" y="1884.7" width="3.33" height="14.6"/>
<text x="210.7" y="1946.3">10</text>
<rect x="361.4" y="1884.7" width="3.33" height="14.6"/>
<text x="363.1" y="1946.3">20</text>
<rect x="513.8" y="1884.7" width="3.33" height="14.6"/>
<text x="515.4" y="1946.3">30</text>
<rect x="666.1" y="1884.7" width="3.33" height="14.6"/>
<text x="667.8" y="1946.3">40</text>
<rect x="818.5" y="1884.7" width="3.33" height="14.6"/>
<text x="820.1" y="1946.3">50</text>
<rect x="970.8" y="1884.7" width="3.33" height="14.6"/>
<text x="972.5" y="1946.3">60</text>
<rect x="1123.1" y="1884.7" width="3.33" height="14.6"/>
<text x="1124.8" y="1946.3">70</text>
<rect x="1275.5" y="1884.7" width="3.33" height="14.6"/>
<text x="1277.2" y="1946.3">80</text>
<rect x="1427.8" y="1884.7" width="3.33" height="14.6"/>
<text x="1429.5" y="1946.3">90</text>
<text x="746.5" y="1073.1" font-size="50" xml:space="preserve">Ionosphere  (h=450.0 km), 2026-02-02 06:00 UT</text>
</g>
<g clip-path="url(#c2)">
<g shape-rendering="crispEdges">
<rect x="58.4" y="2083.5" width="1371.1" height="675" fill="#0000b6"/>
<path fill="#0018ff" d="M635.5 2112.4L637.7 2112.1L657 2109.9L676.4 2108.2L695.7 2107.6L715 2107.1L734.3 2106.2L753.6 2105.5L772.9 2106.4L792.2 2107.5L811.5 2108.6L830.9 2110.8L839.5 2112.4L850.2 2115.6L864.5 2122.1L869.5 2126.9L872.4 2131.7L871.3 2141.4L869.5 2144.6L864.8 2151L856.4 2160.6L850.2 2167.2L847 2170.3L836.6 2179.9L830.9 2185L825.6 2189.6L816.2 2199.2L811.5 2206.8L810.5 2208.9L811.4 2218.5L811.5 2218.6L822.3 2228.1L830.9 2233.1L840.5 2237.8L850.2 2241.4L867.9 2247.4L869.5 2247.9L888.8 2251.6L908.1 2252.3L927.4 2249.2L934.8 2247.4L946.7 2244.4L966 2241.2L985.3 2239.3L1004.7 2237.8L1004.9 2237.8L1024 2236L1043.3 2234.5L1062.6 2233.3L1081.9 2232.3L1101.2 2231.8L1120.5 2232.1L1139.8 2233.3L1159.1 2234.9L1178.5 2236L1197.8 2237.2L1214.1 2237.8L1217.1 2237.9L1222.2 2237.8L1236.4 2237.4L1255.7 2235.8L1275 2233L1294.3 2229.7L1303.8 2228.1L1313.6 2225.9L1332.9 2222L1348.8 2218.5L1352.3 2217.2L1367.8 2208.9L1371.1 2199.2L1358 2189.6L1352.3 2186.3L1339.7 2179.9L1332.9 2176.1L1323 2170.3L1313.6 2164.4L1308.1 2160.6L1295.8 2151L1294.3 2149L1290.1 2141.4L1291.8 2131.7L1294.3 2129.1L1307.3 2122.1L1313.6 2120.3L1332.9 2117.2L1352.3 2115.1L1371.6 2113.3L1384.7 2112.4L1390.9 2112.1L1410.2 2111.4L1429.5 2111.8L1429.5 2112.4L1429.5 2122.1L1429.5 2131.7L1429.5 2141.4L1429.5 2151L1429.5 2160.6L1429.5 2170.3L1429.5 2179.9L1429.5 2189.6L1429.5 2199.2L1429.5 2208.9L1429.5 2218.5L1429.5 2228.1L1429.5 2237.8L1429.5 2247.4L1429.5 2257.1L1429.5 2266.7L1429.5 2276.4L1429.5 2286L1429.5 2295.6L1429.5 2305.3L1429.5 2314.9L1429.5 2324.6L1429.5 2334.2L1429.5 2343.9L1429.5 2353.5L1429.5 2363.1L1429.5 2372.8L1429.5 2382.4L1429.5 2392.1L1429.5 2401.7L1429.5 2411.4L1429.5 2421L1429.5 2430.6L1429.5 2440.3L1429.5 2449.9L1429.5 2459.6L1429.5 2469.2L1429.5 2478.9L1429.5 2488.5L1429.5 2498.1L1429.5 2507.8L1429.5 2517.4L1429.5 2527.1L1429.5 2536.7L1429.5 2546.4L1429.5 2556L1429.5 2565.6L1429.5 2575.3L1429.5 2584.9L1429.5 2594.6L1429.5 2604.2L1429.5 2613.9L1429.5 2623.5L1429.5 2633.1L1429.5 2642.8L1429.5 2652.4L1429.5 2662.1L1429.5 2671.7L1429.5 2681.4L1429.5 2691L1429.5 2700.6L1429.5 2710.3L1429.5 2719.9L1429.5 2729.6L1429.5 2739.2L1429.5 2748.9L1429.5 2758.5L1410.2 2758.5L1403.6 2758.5L1393.5 2748.9L1390.9 2747.2L1371.6 2740.3L1367.3 2739.2L1352.3 2735.7L1332.9 2731.1L1327.2 2729.6L1313.6 2726.8L1294.3 2724.8L1275 2724.8L1255.7 2727.6L1247 2729.6L1236.4 2732.6L1217.1 2737.2L1210.3 2739.2L1197.8 2744.1L1179.1 2748.9L1178.5 2749L1159.1 2750.2L1139.8 2752L1120.5 2757.4L1117.4 2758.5L1101.2 2758.5L1081.9 2758.5L1062.6 2758.5L1043.3 2758.5L1024 2758.5L1004.7 2758.5L985.3 2758.5L966 2758.5L946.7 2758.5L927.4 2758.5L908.1 2758.5L888.8 2758.5L869.5 2758.5L850.2 2758.5L830.9 2758.5L811.5 2758.5L792.2 2758.5L772.9 2758.5L753.6 2758.5L734.3 2758.5L715 2758.5L695.7 2758.5L676.4 2758.5L657 2758.5L637.7 2758.5L618.4 2758.5L599.1 2758.5L579.8 2758.5L560.5 2758.5L541.2 2758.5L521.9 2758.5L502.6 2758.5L483.2 2758.5L463.9 2758.5L444.6 2758.5L425.3 2758.5L406 2758.5L386.7 2758.5L367.4 2758.5L348.1 2758.5L328.8 2758.5L309.4 2758.5L290.1 2758.5L270.8 2758.5L251.5 2758.5L232.2 2758.5L212.9 2758.5L193.6 2758.5L174.3 2758.5L155 2758.5L135.6 2758.5L116.3 2758.5L97 2758.5L77.7 2758.5L58.4 2758.5L58.4 2748.9L58.4 2739.2L58.4 2729.6L58.4 2719.9L58.4 2710.3L58.4 2700.6L58.4 2691L58.4 2681.4L58.4 2671.7L58.4 2662.1L58.4 2652.4L58.4 2642.8L58.4 2633.1L58.4 2623.5L58.4 2613.9L58.4 2604.2L58.4 2594.6L58.4 2584.9L58.4 2575.3L58.4 2565.6L58.4 2556L58.4 2546.4L58.4 2536.7L58.4 2527.1L58.4 2517.4L58.4 2507.8L58.4 2498.1L58.4 2488.5L58.4 2478.9L58.4 2469.2L58.4 2459.6L58.4 2449.9L58.4 2440.3L58.4 2430.6L58.4 2421L58.4 2411.4L58.4 2401.7L58.4 2392.1L58.4 2382.4L58.4 2372.8L58.4 2363.1L58.4 2353.5L58.4 2343.9L58.4 2334.2L58.4 2324.6L58.4 2314.9L58.4 2305.3L58.4 2295.6L58.4 2286L58.4 2276.4L58.4 2266.7L58.4 2257.1L58.4 2247.4L58.4 2237.8L58.4 2228.1L58.4 2218.5L58.4 2208.9L58.4 2199.2L58.4 2189.6L58.4 2179.9L58.4 2170.3L58.4 2160.6L58.4 2151L58.4 2141.4L58.4 2131.7L58.4 2122.1L58.4 2114.4L77.7 2116.3L97 2118.1L116.3 2120.6L122.8 2122.1L135.6 2125.6L154.6 2131.7L155 2131.8L174.3 2138.4L183.3 2141.4L193.6 2144.9L210.1 2151L212.9 2152L232.2 2157.5L246.8 2160.6L251.5 2161.6L270.8 2164.8L290.1 2167.5L309.4 2168.2L328.8 2166.8L348.1 2166.2L367.4 2167.3L386.7 2170.2L387.5 2170.3L406 2173L425.3 2173.1L444.6 2170.8L447 2170.3L463.9 2165.9L479.6 2160.6L483.2 2159.4L502.6 2152.8L507.4 2151L521.9 2146L532.7 2141.4L541.2 2138L556.6 2131.7L560.5 2130.5L579.8 2124.5L588.1 2122.1L599.1 2119.5L618.4 2115.3Z"/>
<path fill="#0080ff" d="M68.1 2247.4L77.7 2246.1L97 2244.7L116.3 2244.8L135.6 2246.5L142.6 2247.4L155 2248.6L174.3 2249L193.6 2247.5L194.6 2247.4L212.9 2245.7L232.2 2244.7L251.5 2244.2L270.8 2244.2L290.1 2245.9L300 2247.4L309.4 2248.8L328.8 2252.1L348.1 2256.3L351.1 2257.1L367.4 2260.6L386.7 2265.3L395.4 2266.7L406 2267.9L420 2266.7L425.3 2266.1L444.6 2262.6L463.9 2260L483.2 2259.1L502.6 2259.3L521.9 2260.4L541.2 2262.5L560.5 2265L579.8 2265.8L599.1 2265.4L618.4 2265.8L632.8 2266.7L637.7 2266.9L657 2266.8L657.7 2266.7L676.4 2264.1L695.7 2261.9L715 2261L734.3 2261L753.6 2261.3L772.9 2261L792.2 2262.6L806.5 2266.7L811.5 2268.2L829.2 2276.4L830.9 2277.3L844.1 2286L850.2 2292.1L855.5 2295.6L867.3 2305.3L869.5 2307.6L883.3 2314.9L888.8 2317.2L894 2314.9L908.1 2307.1L910.5 2305.3L927.4 2296L927.9 2295.6L946.7 2286.4L947.9 2286L966 2281.5L985.3 2278.8L1004.7 2277.5L1023.8 2276.4L1024 2276.3L1043.3 2274.9L1062.6 2271.9L1081.9 2267.7L1086.1 2266.7L1101.2 2263.7L1120.5 2260.5L1139.8 2259.6L1159.1 2261L1178.5 2264.1L1190.3 2266.7L1197.8 2268.6L1217.1 2272.7L1236.4 2275.4L1251.4 2276.4L1255.7 2276.7L1275 2276.8L1281.3 2276.4L1294.3 2275.4L1313.6 2272.1L1332.9 2268L1338.9 2266.7L1352.3 2264L1371.6 2260.3L1386.2 2257.1L1390.9 2256L1410.2 2252L1429.5 2249.6L1429.5 2257.1L1429.5 2266.7L1429.5 2276.4L1429.5 2286L1429.5 2295.6L1429.5 2305.3L1429.5 2314.9L1429.5 2324.6L1429.5 2334.2L1429.5 2343.9L1429.5 2353.5L1429.5 2363.1L1429.5 2372.8L1429.5 2382.4L1429.5 2392.1L1429.5 2401.7L1429.5 2411.4L1429.5 2421L1429.5 2430.6L1429.5 2440.3L1429.5 2449.9L1429.5 2459.6L1429.5 2469.2L1429.5 2478.9L1429.5 2488.5L1429.5 2498.1L1429.5 2507.8L1429.5 2517.4L1429.5 2527.1L1429.5 2536.7L1429.5 2546.4L1429.5 2556L1429.5 2565.6L1429.5 2575.3L1429.5 2584.9L1429.5 2594.6L1429.5 2604.2L1429.5 2613.9L1429.5 2623.5L1429.5 2633.1L1429.5 2642.8L1429.5 2652.4L1429.5 2662.1L1429.5 2671.7L1429.5 2681.4L1429.5 2691L1429.5 2700.6L1429.5 2707.4L1411.7 2700.6L1410.2 2700L1393.6 2691L1390.9 2689L1380 2681.4L1371.6 2673.6L1369.1 2671.7L1359.7 2662.1L1353.1 2652.4L1352.3 2650.7L1346.8 2642.8L1341.3 2633.1L1335.5 2623.5L1332.9 2620.6L1321.1 2613.9L1313.6 2610.9L1294.3 2607L1275 2604.4L1272.4 2604.2L1255.7 2603L1236.4 2603.4L1218.6 2604.2L1225.4 2613.9L1229.2 2623.5L1231.2 2633.1L1231.3 2642.8L1229.6 2652.4L1225.5 2662.1L1218.1 2671.7L1217.1 2672.6L1203.6 2681.4L1197.8 2684.3L1181.4 2691L1178.5 2692L1159.1 2696.3L1139.8 2700.3L1137.9 2700.6L1120.5 2703.8L1101.2 2707.3L1081.9 2710.1L1079.8 2710.3L1062.6 2711.7L1043.3 2712.3L1024 2711.7L1004.8 2710.3L1004.7 2710.3L985.3 2707.5L966 2705.6L946.7 2706.1L927.4 2710.2L926.8 2710.3L908.1 2711.9L888.8 2712.7L869.5 2715.4L851.3 2719.9L850.2 2720.1L830.9 2722.8L811.5 2724.3L792.2 2726L772.9 2727.9L753.6 2729.5L734.3 2729.1L715 2728.4L695.7 2728.2L676.4 2728.6L657.1 2729.6L657 2729.6L637.7 2730.2L625.6 2729.6L618.4 2729.1L599.1 2727.7L579.8 2727.1L560.5 2727.7L541.2 2729.2L534.7 2729.6L521.9 2730.2L512 2729.6L502.6 2728.8L483.2 2727.1L463.9 2726.4L444.6 2727L425.3 2728.6L415.3 2729.6L406 2730.3L386.7 2730.9L367.4 2730.9L348.1 2730.6L328.8 2730.5L309.4 2732.3L290.1 2734L270.8 2734.5L251.5 2733.7L232.2 2731.9L212.9 2730.2L199 2729.6L193.6 2729.4L174.3 2728.3L155 2727.1L135.6 2725.8L116.3 2724.1L97 2721.6L89.1 2719.9L77.7 2718.1L58.4 2713.1L58.4 2710.3L58.4 2700.6L58.4 2691L58.4 2681.4L58.4 2671.7L58.4 2662.1L58.4 2652.4L58.4 2642.8L58.4 2633.1L58.4 2623.5L58.4 2613.9L58.4 2604.2L58.4 2594.6L58.4 2584.9L58.4 2575.3L58.4 2565.6L58.4 2556L58.4 2546.4L58.4 2536.7L58.4 2527.1L58.4 2517.4L58.4 2507.8L58.4 2498.1L58.4 2488.5L58.4 2478.9L58.4 2469.2L58.4 2459.6L58.4 2449.9L58.4 2440.3L58.4 2430.6L58.4 2421L58.4 2411.4L58.4 2401.7L58.4 2392.1L58.4 2382.4L58.4 2372.8L58.4 2363.1L58.4 2353.5L58.4 2343.9L58.4 2334.2L58.4 2324.6L58.4 2314.9L58.4 2305.3L58.4 2295.6L58.4 2286L58.4 2276.4L58.4 2266.7L58.4 2257.1L58.4 2248.4ZM483.2 2592.7L478.8 2594.6L463.9 2602.4L460.9 2604.2L447.2 2613.9L444.6 2617L440.2 2623.5L444.6 2633.1L444.7 2633.1L463.9 2641.6L471.8 2642.8L483.2 2644.5L502.6 2644.2L513 2642.8L521.9 2641.8L541.2 2638.1L555.4 2633.1L560.5 2630.1L568 2623.5L566.2 2613.9L560.5 2608.3L557.2 2604.2L543.6 2594.6L541.2 2593.3L521.9 2585.9L502.6 2586.9ZM985.3 2535.6L983.6 2536.7L974.4 2546.4L966 2551.9L948.5 2556L946.7 2556.3L939.2 2556L927.4 2555.5L908.1 2553.9L888.8 2552.8L869.5 2553.9L862.4 2556L850.2 2560.5L843.3 2565.6L832.7 2575.3L830.9 2577.1L823.7 2584.9L814.5 2594.6L811.5 2597.8L804.6 2604.2L794.9 2613.9L792.2 2618.3L789.6 2623.5L791.9 2633.1L792.2 2633.5L800.6 2642.8L811 2652.4L811.5 2652.9L827.5 2662.1L830.9 2664.1L848.4 2671.7L850.2 2672.6L869.5 2679.6L878 2681.4L888.8 2684.5L908.1 2685.9L927.4 2685L946.7 2682.2L948.9 2681.4L966 2676.6L974.3 2671.7L985.3 2666.1L990.8 2662.1L1004.6 2652.4L1004.7 2652.4L1018.5 2642.8L1024 2639.5L1037.7 2633.1L1043.3 2631L1062.6 2625.9L1074.9 2623.5L1081.9 2622.3L1101.2 2619L1120.5 2616L1134.3 2613.9L1139.8 2612.9L1159.1 2609.6L1178.5 2606.3L1197.8 2604.5L1213 2604.2L1212.4 2594.6L1198.1 2584.9L1197.8 2584.8L1180.4 2575.3L1178.5 2574.7L1160.2 2565.6L1159.1 2565.3L1139.8 2560.7L1126.1 2556L1120.5 2554.6L1101.2 2549.1L1085.9 2546.4L1081.9 2545.8L1062.6 2542.5L1043.3 2538L1037.9 2536.7L1024 2532.9L1004.7 2529.1Z"/>
<path fill="#00e4f8" d="M58.4 2276.4L58.4 2275.7L77.7 2275.1L97 2274.9L116.3 2274.5L135.6 2274L155 2273.6L174.3 2273.3L193.6 2273.5L212.9 2274.7L227.2 2276.4L232.2 2276.9L251.5 2279.8L270.8 2282.2L290.1 2283.6L309.4 2285.6L312.5 2286L328.8 2288.1L348.1 2291.1L367.4 2294.4L374.5 2295.6L386.7 2297.6L406 2299.8L425.3 2299.6L444.6 2298.3L463.9 2297.4L483.2 2296.9L502.6 2296.9L521.9 2297.6L541.2 2298.9L560.5 2300L579.8 2300.4L599.1 2299.8L618.4 2298.4L637.7 2297.4L657 2298.1L676.4 2298.5L695.7 2298.6L715 2298.8L734.3 2298.4L753.6 2297.4L772.9 2296.2L792.2 2302.3L799.4 2305.3L811.5 2312.2L813.5 2314.9L819 2324.6L822.6 2334.2L825 2343.9L827.4 2353.5L830.9 2363L830.9 2363.1L837.5 2372.8L850.2 2381.3L853.8 2382.4L869.5 2385.8L888.8 2385.2L894.8 2382.4L908.1 2375.9L911.1 2372.8L919.8 2363.1L927.4 2355.6L929.1 2353.5L937.8 2343.9L946.7 2336L949.4 2334.2L966 2325.5L968.7 2324.6L985.3 2318.5L1004.7 2315.1L1008 2314.9L1024 2314L1043.3 2312.7L1062.6 2309.7L1081.9 2306.1L1083.5 2305.3L1094.7 2295.6L1101.2 2290.9L1112.1 2286L1120.5 2283.6L1139.8 2282.7L1159.1 2285.9L1159.4 2286L1178.5 2293.9L1182.4 2295.6L1197.8 2305.2L1198.1 2305.3L1217.1 2313.8L1220.5 2314.9L1236.4 2319.5L1255.7 2320.3L1275 2317.2L1294.3 2315.3L1302.7 2314.9L1313.6 2314L1332.9 2306.9L1337.6 2305.3L1352.3 2300.1L1364.4 2295.6L1371.6 2293.4L1390.9 2290.1L1404.6 2286L1410.2 2284.6L1429.5 2278.7L1429.5 2286L1429.5 2295.6L1429.5 2305.3L1429.5 2314.9L1429.5 2324.6L1429.5 2334.2L1429.5 2343.9L1429.5 2353.5L1429.5 2363.1L1429.5 2372.8L1429.5 2382.4L1429.5 2392.1L1429.5 2401.7L1429.5 2411.4L1429.5 2421L1429.5 2430.6L1429.5 2440.3L1429.5 2449.9L1429.5 2459.6L1429.5 2469.2L1429.5 2478.9L1429.5 2488.5L1429.5 2498.1L1429.5 2507.8L1429.5 2517.4L1429.5 2527.1L1429.5 2536.7L1429.5 2546.4L1429.5 2554.1L1413.8 2546.4L1410.2 2540L1390.9 2537.7L1371.6 2538.7L1363.6 2536.7L1352.3 2533.5L1343.7 2527.1L1332.9 2524.8L1313.6 2521.6L1294.3 2519L1275 2519.4L1255.7 2522.1L1236.4 2526.5L1233.9 2527.1L1217.1 2530.8L1197.8 2533.2L1178.5 2534.3L1159.1 2534.1L1139.8 2531.8L1120.5 2528.6L1111.2 2527.1L1101.2 2525.2L1081.9 2520.3L1072 2517.4L1062.6 2514.5L1047.2 2507.8L1043.3 2506.1L1027.1 2498.1L1024 2496.6L1008.4 2488.5L1004.7 2486L992.7 2478.9L985.3 2473.5L973.8 2469.2L966 2466.2L946.7 2467.7L942.5 2469.2L927.4 2478L926.1 2478.9L912.9 2488.5L908.1 2491.3L888.8 2497.4L873.1 2498.1L869.5 2498.3L868.7 2498.1L850.2 2493.3L839.2 2488.5L830.9 2483.9L813.3 2478.9L811.5 2478.6L811.1 2478.9L805.1 2488.5L801.5 2498.1L798.7 2507.8L797.3 2517.4L794.9 2527.1L792.2 2533L790.6 2536.7L782.1 2546.4L772.9 2554.2L770.2 2556L753.6 2563.7L746.6 2565.6L734.3 2568.7L715 2571L695.7 2571.7L676.4 2572.4L659.8 2575.3L657 2575.9L637.7 2578.8L618.4 2579L599.1 2577.3L590.7 2575.3L579.8 2572.9L560.5 2566.3L558.6 2565.6L541.2 2560L521.9 2556.3L502.6 2556.6L483.2 2562.3L475.2 2565.6L463.9 2569.8L451.6 2575.3L444.6 2578.6L433.2 2584.9L425.3 2589.4L414.6 2594.6L406 2599.1L392 2604.2L386.7 2606.8L367.4 2612.7L361.7 2613.9L348.1 2618.5L328.8 2623.1L327.1 2623.5L313.7 2633.1L317.5 2642.8L327.6 2652.4L328.8 2653.4L341.6 2662.1L348.1 2669.3L349.8 2671.7L352.3 2681.4L348.1 2685.9L341.9 2691L328.8 2695.3L309.4 2699.1L301.7 2700.6L290.1 2702.2L270.8 2704.5L251.5 2705.6L232.2 2706L212.9 2705.8L193.6 2704.8L174.3 2703L155 2701.5L146.7 2700.6L135.6 2699.6L116.3 2696.3L97 2693.8L77.7 2691.4L75.9 2691L58.4 2686.5L58.4 2681.4L58.4 2671.7L58.4 2662.1L58.4 2652.4L58.4 2642.8L58.4 2633.1L58.4 2623.5L58.4 2613.9L58.4 2604.2L58.4 2594.6L58.4 2584.9L58.4 2575.3L58.4 2565.6L58.4 2556L58.4 2546.4L58.4 2536.7L58.4 2527.1L58.4 2517.4L58.4 2507.8L58.4 2498.1L58.4 2488.5L58.4 2478.9L58.4 2469.2L58.4 2459.6L58.4 2449.9L58.4 2440.3L58.4 2430.6L58.4 2421L58.4 2411.4L58.4 2401.7L58.4 2392.1L58.4 2382.4L58.4 2372.8L58.4 2363.1L58.4 2353.5L58.4 2343.9L58.4 2334.2L58.4 2324.6L58.4 2314.9L58.4 2305.3L58.4 2295.6L58.4 2286ZM1423.6 2623.5L1429.5 2617.1L1429.5 2623.5L1429.5 2633.1L1429.5 2642.8L1429.5 2652.4L1429.5 2662.1L1429.5 2671.7L1429.5 2674.4L1426.3 2671.7L1418.7 2662.1L1414.4 2652.4L1413.9 2642.8L1416.7 2633.1Z"/>
<path fill="#53ffa4" d="M140.8 2295.6L155 2293.5L174.3 2292L193.6 2291.8L212.9 2293.2L226.4 2295.6L232.2 2296.6L251.5 2301.8L269.1 2305.3L270.8 2305.6L290.1 2306.3L309.4 2309.8L328.8 2313.4L338 2314.9L348.1 2316.6L367.4 2320.5L383.9 2324.6L386.7 2325.5L406 2332.7L410 2334.2L421.6 2343.9L424.7 2353.5L420.1 2363.1L409.2 2372.8L406.2 2382.4L406 2382.8L401.9 2392.1L390.9 2401.7L386.7 2404.8L375.6 2411.4L367.4 2417.1L357.8 2421L351.5 2430.6L367.4 2438.6L371.7 2440.3L386.7 2442.2L406 2443.3L425.3 2441.3L429.7 2440.3L444.6 2435.4L456.6 2430.6L463.9 2425.9L470.4 2421L477.5 2411.4L481.4 2401.7L482.4 2392.1L480.9 2382.4L477.6 2372.8L474.4 2363.1L476.2 2353.5L483.2 2348.9L492.2 2343.9L502.6 2341.2L521.9 2339.6L541.2 2341.6L555.5 2343.9L560.5 2344.7L579.8 2346.3L599.1 2346.4L618.4 2347.7L637.7 2353.4L637.9 2353.5L639.6 2363.1L637.7 2364L621.7 2372.8L618.4 2375.1L610.9 2382.4L609.3 2392.1L612.2 2401.7L616.7 2411.4L618.4 2413.6L637.7 2419.7L654.1 2411.4L657 2410.1L669.1 2401.7L676.4 2396.9L695.7 2394L709.7 2401.7L715 2406.1L719.6 2411.4L726.9 2421L733.4 2430.6L734.3 2432.3L738 2440.3L740.9 2449.9L742.3 2459.6L742.8 2469.2L742.4 2478.9L741.6 2488.5L740.7 2498.1L739 2507.8L734.3 2516.8L733.7 2517.4L719.1 2527.1L715 2529.3L695.7 2536.5L695.2 2536.7L676.4 2543.8L668 2546.4L657 2548.3L637.7 2551L618.4 2550.8L599.1 2548.2L592.4 2546.4L579.8 2541.6L568.9 2536.7L560.5 2531L548.7 2527.1L541.2 2525.2L535.8 2527.1L521.9 2531.4L502.6 2534.8L483.2 2535.6L481.8 2536.7L472.1 2546.4L463.9 2551.1L452.5 2556L444.6 2559.5L432.7 2565.6L425.3 2569.5L412.2 2575.3L406 2578.1L386.7 2584.2L383 2584.9L367.4 2588.6L348.1 2592.2L331.2 2594.6L328.8 2595L309.4 2596.4L290.1 2595.4L282.7 2594.6L270.8 2593.6L251.5 2593.1L232.2 2591.7L212.9 2590.3L193.6 2590.3L174.3 2588.8L161.3 2584.9L155 2583.7L135.6 2579.8L124.7 2575.3L116.3 2572.8L102.8 2565.6L97 2563.2L83.5 2556L77.7 2553.2L66 2546.4L58.4 2541.3L58.4 2536.7L58.4 2527.1L58.4 2517.4L58.4 2507.8L58.4 2498.1L58.4 2488.5L58.4 2478.9L58.4 2469.2L58.4 2459.6L58.4 2449.9L58.4 2440.3L58.4 2430.6L58.4 2421L58.4 2411.4L58.4 2401.7L58.4 2392.1L58.4 2382.4L58.4 2372.8L58.4 2363.1L58.4 2357.4L63.7 2363.1L72.7 2372.8L77.7 2379.2L90.9 2382.4L97 2383.5L98.2 2382.4L102 2372.8L102.8 2363.1L101.1 2353.5L97.4 2343.9L97 2343L89.3 2334.2L80.5 2324.6L86.8 2314.9L97 2311.2L109.9 2305.3L116.3 2303.6L135.6 2296.7ZM270.8 2407.1L257.5 2411.4L251.5 2413.6L242.9 2421L236.7 2430.6L238.9 2440.3L251.5 2449.2L257.4 2449.9L270.8 2450.8L276.3 2449.9L290.1 2446.4L307.4 2440.3L309.4 2438.5L324.7 2430.6L319 2421L309.4 2417.5L298.2 2411.4L290.1 2408.7ZM1110.4 2324.6L1120.5 2322.8L1134.1 2324.6L1139.8 2326.6L1143.7 2334.2L1143.9 2343.9L1141.3 2353.5L1139.8 2356.9L1137.7 2363.1L1135 2372.8L1133.2 2382.4L1133.6 2392.1L1135.8 2401.7L1138 2411.4L1139.8 2419.2L1140.6 2421L1147.3 2430.6L1153.2 2440.3L1159 2449.9L1159.1 2450.1L1175.2 2459.6L1178.5 2461.4L1180.5 2459.6L1195.3 2449.9L1197.8 2448.3L1202.3 2440.3L1205 2430.6L1207.9 2421L1211.5 2411.4L1217.1 2402.5L1217.5 2401.7L1222.8 2392.1L1228.7 2382.4L1236.4 2374.3L1238 2372.8L1252.4 2363.1L1255.7 2361.5L1275 2354.5L1281.4 2353.5L1294.3 2351L1313.6 2350.9L1332.9 2348.9L1352.3 2344.8L1356.5 2343.9L1371.6 2340.5L1390.9 2337.2L1405.6 2334.2L1410.2 2333.3L1429.5 2324.9L1429.5 2334.2L1429.5 2343.9L1429.5 2353.5L1429.5 2363.1L1429.5 2372.8L1429.5 2382.4L1429.5 2392.1L1429.5 2401.7L1429.5 2411.4L1429.5 2421L1429.5 2430.6L1429.5 2440.3L1429.5 2449.9L1429.5 2459.6L1429.5 2469.2L1429.5 2478.9L1429.5 2488.5L1429.5 2498.1L1429.5 2507.8L1429.5 2514.9L1410.2 2509.6L1399 2507.8L1390.9 2506.4L1371.6 2502.6L1352.3 2500L1342 2498.1L1332.9 2495.9L1313.6 2490.2L1305.2 2488.5L1294.3 2486.3L1275 2484.1L1255.7 2483.7L1236.4 2485.2L1217.1 2486.9L1204.1 2488.5L1197.8 2489.7L1178.5 2494.3L1167.3 2498.1L1159.1 2499.9L1139.8 2502.9L1120.5 2503.1L1101.2 2500.9L1089.7 2498.1L1081.9 2496.9L1062.6 2490.5L1057.6 2488.5L1043.3 2483.1L1035.3 2478.9L1024 2471.9L1020.1 2469.2L1007.8 2459.6L1004.7 2456.9L994.9 2449.9L985.3 2441.7L982.6 2440.3L966.7 2430.6L966 2430.1L952.8 2421L948.1 2411.4L947.8 2401.7L949.9 2392.1L953.8 2382.4L959.9 2372.8L966 2365.5L968.7 2363.1L983.9 2353.5L985.3 2352.8L1004.7 2347.8L1024 2345.2L1041.5 2343.9L1043.3 2343.7L1062.6 2341.2L1081.9 2337L1092.4 2334.2L1101.2 2328ZM101.9 2623.5L116.3 2618.2L135.6 2615.9L155 2617.5L172.8 2623.5L174.3 2624L191.4 2633.1L193.6 2634.3L208.1 2642.8L212.9 2645.8L223.3 2652.4L231.3 2662.1L228 2671.7L212.9 2677.8L199 2681.4L193.6 2682L174.3 2683.6L155 2682.5L147 2681.4L135.6 2678.9L116.3 2674.2L106.8 2671.7L97 2667.6L87 2662.1L79.4 2652.4L80.9 2642.8L87.9 2633.1L97 2625.4Z"/>
<path fill="#a4ff53" d="M162 2314.9L174.3 2311.6L193.6 2309.3L212.9 2310L232.2 2313L240.1 2314.9L251.5 2318.7L266 2324.6L270.8 2327.6L287.3 2334.2L290.1 2335.6L309.4 2338L328.8 2340.7L340.7 2343.9L348.1 2346.8L357.8 2353.5L362.2 2363.1L357.4 2372.8L348.1 2379.4L328.8 2382L309.4 2378.3L290.1 2373.3L270.8 2376.2L259 2382.4L251.5 2385.6L241.6 2392.1L232.2 2398.1L226.9 2401.7L214.1 2411.4L212.9 2412.5L201.6 2421L197.6 2430.6L198.6 2440.3L204 2449.9L212.9 2458.5L214.3 2459.6L232.2 2469L233 2469.2L251.5 2472.1L270.8 2471.4L290.1 2469.4L291.4 2469.2L309.4 2466.9L328.8 2465.4L348.1 2464.9L367.4 2465.1L386.7 2465.3L406 2464.8L425.3 2463L444.6 2460.3L454.5 2459.6L463.9 2458.8L483.2 2458.6L489.1 2459.6L502.6 2464.3L508.2 2469.2L511.7 2478.9L510.3 2488.5L505.5 2498.1L502.6 2501.5L498.7 2507.8L489.3 2517.4L483.2 2520.2L473.9 2527.1L464.1 2536.7L463.9 2536.9L444.6 2543.6L440 2546.4L425.3 2553.9L420.8 2556L406 2562.6L396.5 2565.6L386.7 2568.8L367.4 2572.7L351.6 2575.3L348.1 2575.9L328.8 2578.9L309.4 2580.1L290.1 2579.1L270.8 2577.1L254 2575.3L251.5 2575L232.2 2572.3L212.9 2569.4L193.6 2566.5L189.1 2565.6L174.3 2562.9L155 2558.9L141.4 2556L135.6 2554.9L116.3 2550.4L106.4 2546.4L97 2542.7L84.3 2536.7L77.7 2534L67.4 2527.1L58.4 2520.4L58.4 2517.4L58.4 2507.8L58.4 2498.1L58.4 2488.5L58.4 2478.9L58.4 2469.2L58.4 2459.6L58.4 2449.9L58.4 2440.3L58.4 2430.6L58.4 2421L58.4 2412.1L77.7 2416L97 2415.6L116.3 2412.3L120.1 2411.4L135.6 2403.2L137.4 2401.7L141.7 2392.1L141.8 2382.4L140.6 2372.8L139.5 2363.1L139 2353.5L139.1 2343.9L139.9 2334.2L145.1 2324.6L155 2317.8ZM1036.2 2372.8L1043.3 2371.7L1062.6 2371.2L1074.5 2372.8L1081.9 2374L1096.8 2382.4L1101.2 2392.1L1101.2 2392.2L1103.4 2401.7L1107.8 2411.4L1110.2 2421L1111.8 2430.6L1113 2440.3L1113 2449.9L1111.1 2459.6L1106.9 2469.2L1101.2 2473.3L1081.9 2474.8L1062.6 2470.8L1058.7 2469.2L1043.3 2462.2L1039.5 2459.6L1026.6 2449.9L1024 2447.7L1016 2440.3L1006.1 2430.6L1004.7 2428.8L998.4 2421L994.5 2411.4L994.1 2401.7L997.5 2392.1L1004.7 2383.9L1006.7 2382.4L1024 2375.1ZM1382.5 2382.4L1390.9 2381.8L1410.2 2382.3L1410.4 2382.4L1429.5 2389.3L1429.5 2392.1L1429.5 2401.7L1429.5 2411.4L1429.5 2421L1429.5 2430.6L1429.5 2440.3L1429.5 2449.9L1429.5 2459.6L1429.5 2469.2L1429.5 2478.9L1429.5 2488.5L1429.5 2498.1L1429.5 2504.9L1410.2 2499.2L1405.5 2498.1L1390.9 2492.6L1381.9 2488.5L1371.6 2480.8L1367.2 2478.9L1352.3 2470.8L1348.2 2469.2L1332.9 2462L1323.7 2459.6L1313.6 2456.7L1294.3 2456L1275 2455.1L1258.2 2449.9L1255.7 2448.4L1249.7 2440.3L1246.4 2430.6L1246.3 2421L1249.6 2411.4L1255.2 2401.7L1255.7 2401.1L1269.4 2392.1L1275 2389L1294.3 2386.3L1313.6 2388.4L1332.9 2389.9L1352.3 2386.7L1371.6 2383.2Z"/>
<path fill="#f8f500" d="M188.3 2334.2L193.6 2332.7L211.1 2334.2L212.9 2334.5L227.7 2343.9L231.1 2353.5L228.3 2363.1L219.6 2372.8L212.9 2377.9L200.1 2382.4L193.6 2384.5L187.7 2382.4L174.3 2374.9L173.1 2372.8L170.3 2363.1L170.1 2353.5L172.7 2343.9L174.3 2341.6ZM1042.3 2411.4L1043.3 2410.4L1062.6 2407.2L1067.6 2411.4L1073.4 2421L1072.2 2430.6L1063.5 2440.3L1062.6 2440.7L1061.8 2440.3L1046.5 2430.6L1043.3 2427.4L1040.1 2421ZM1380.3 2421L1390.9 2416.3L1410.2 2413.2L1429.5 2418.1L1429.5 2421L1429.5 2430.6L1429.5 2440.3L1429.5 2449.9L1429.5 2459.6L1429.5 2469.2L1429.5 2478.9L1429.5 2488.5L1429.5 2493.3L1418.1 2488.5L1410.2 2483.9L1402.6 2478.9L1392 2469.2L1390.9 2467.9L1383.3 2459.6L1376.7 2449.9L1372.8 2440.3L1372.6 2430.6ZM58.4 2430.6L58.4 2428.4L68.5 2430.6L77.7 2433.1L97 2434.5L116.3 2434.8L135.6 2437L146.4 2440.3L155 2443.5L164.2 2449.9L174.3 2457L177.1 2459.6L189.5 2469.2L193.6 2472.2L204.1 2478.9L212.9 2484.2L224.6 2488.5L232.2 2491L251.5 2491.4L270.8 2489L274.2 2488.5L290.1 2486.3L309.4 2484.2L328.8 2483.2L348.1 2483.2L367.4 2483.7L386.7 2484.3L406 2484.6L425.3 2485.3L442.5 2488.5L444.6 2489.3L455 2498.1L456.7 2507.8L451.9 2517.4L444.6 2523.7L440.8 2527.1L426.1 2536.7L425.3 2537.2L408.3 2546.4L406 2547.4L386.7 2554.5L380.3 2556L367.4 2558.8L348.1 2562.1L328.8 2564.7L309.4 2565.5L290.1 2564.2L270.8 2561.6L251.5 2558.8L237 2556L232.2 2554.8L212.9 2550.6L193.6 2547.3L189.1 2546.4L174.3 2542.8L155 2539.1L135.6 2536.8L134.8 2536.7L116.3 2533.9L97 2527.3L96.4 2527.1L77.7 2519.4L75.1 2517.4L58.4 2508.1L58.4 2507.8L58.4 2498.1L58.4 2488.5L58.4 2478.9L58.4 2469.2L58.4 2459.6L58.4 2449.9L58.4 2440.3Z"/>
<path fill="#ff9400" d="M74.4 2459.6L77.7 2459.3L97 2458.9L109.6 2459.6L116.3 2460L135.6 2465.3L143.6 2469.2L155 2476L158.8 2478.9L168.1 2488.5L172.9 2498.1L170.4 2507.8L155 2513.6L135.6 2515.2L116.3 2511.2L108.1 2507.8L97 2502.1L87 2498.1L77.7 2491.6L74.8 2488.5L66.2 2478.9L58.4 2470.5L58.4 2469.2L58.4 2466.4ZM282.6 2507.8L290.1 2506.1L309.4 2502.9L328.8 2502.2L348.1 2503.9L367.4 2507.1L371.1 2507.8L386.7 2513.9L392 2517.4L393.3 2527.1L386.7 2535.9L384.6 2536.7L367.4 2539.2L348.3 2546.4L348.1 2546.4L328.8 2548.6L309.4 2548.2L295.7 2546.4L290.1 2545.1L270.8 2538.5L266.1 2536.7L256.4 2527.1L260.8 2517.4L270.8 2512.6Z"/>
</g>
<use href="#coast" transform="translate(0,1970.1)"/>
</g>
<rect x="58.4" y="2083.5" width="1371.1" height="675" fill="none" stroke="#000" stroke-width="3.33"/>
<rect x="58.4" y="2801.8" width="137.7" height="67.9" fill="#0000b6"/>
<rect x="195.5" y="2801.8" width="137.7" height="67.9" fill="#0018ff"/>
<rect x="332.6" y="2801.8" width="137.7" height="67.9" fill="#0080ff"/>
<rect x="469.7" y="2801.8" width="137.7" height="67.9" fill="#00e4f8"/>
<rect x="606.8" y="2801.8" width="137.7" height="67.9" fill="#53ffa4"/>
<rect x="743.9" y="2801.8" width="137.7" height="67.9" fill="#a4ff53"/>
<rect x="881.1" y="2801.8" width="137.7" height="67.9" fill="#f8f500"/>
<rect x="1018.2" y="2801.8" width="137.7" height="67.9" fill="#ff9400"/>
<rect x="1155.3" y="2801.8" width="137.7" height="67.9" fill="#ff3800"/>
<rect x="1292.4" y="2801.8" width="137.1" height="67.9" fill="#b60000"/>
<rect x="58.4" y="2801.8" width="1371.1" height="67.9" fill="none" stroke="#000" stroke-width="3.33"/>
<g fill="#000" font-family="'Liberation Sans', sans-serif" font-size="41.7" text-anchor="middle">
<rect x="56.7" y="2869.7" width="3.33" height="14.6"/>
<text x="58.4" y="2931.4">0</text>
<rect x="330.9" y="2869.7" width="3.33" height="14.6"/>
<text x="332.6" y="2931.4">5</text>
<rect x="605.2" y="2869.7" width="3.33" height="14.6"/>
<text x="606.8" y="2931.4">10</text>
<rect x="879.4" y="2869.7" width="3.33" height="14.6"/>
<text x="881.1" y="2931.4">15</text>
<rect x="1153.6" y="2869.7" width="3.33" height="14.6"/>
<text x="1155.3" y="2931.4">20</text>
<rect x="1427.8" y="2869.7" width="3.33" height="14.6"/>
<text x="1429.5" y="2931.4">25</text>
<text x="746.5" y="2058.2" font-size="50">Plasmasphere (h=1500.0 km), 2026-02-02 06:00 UT</text>
</g>
</svg>
</body></html>
